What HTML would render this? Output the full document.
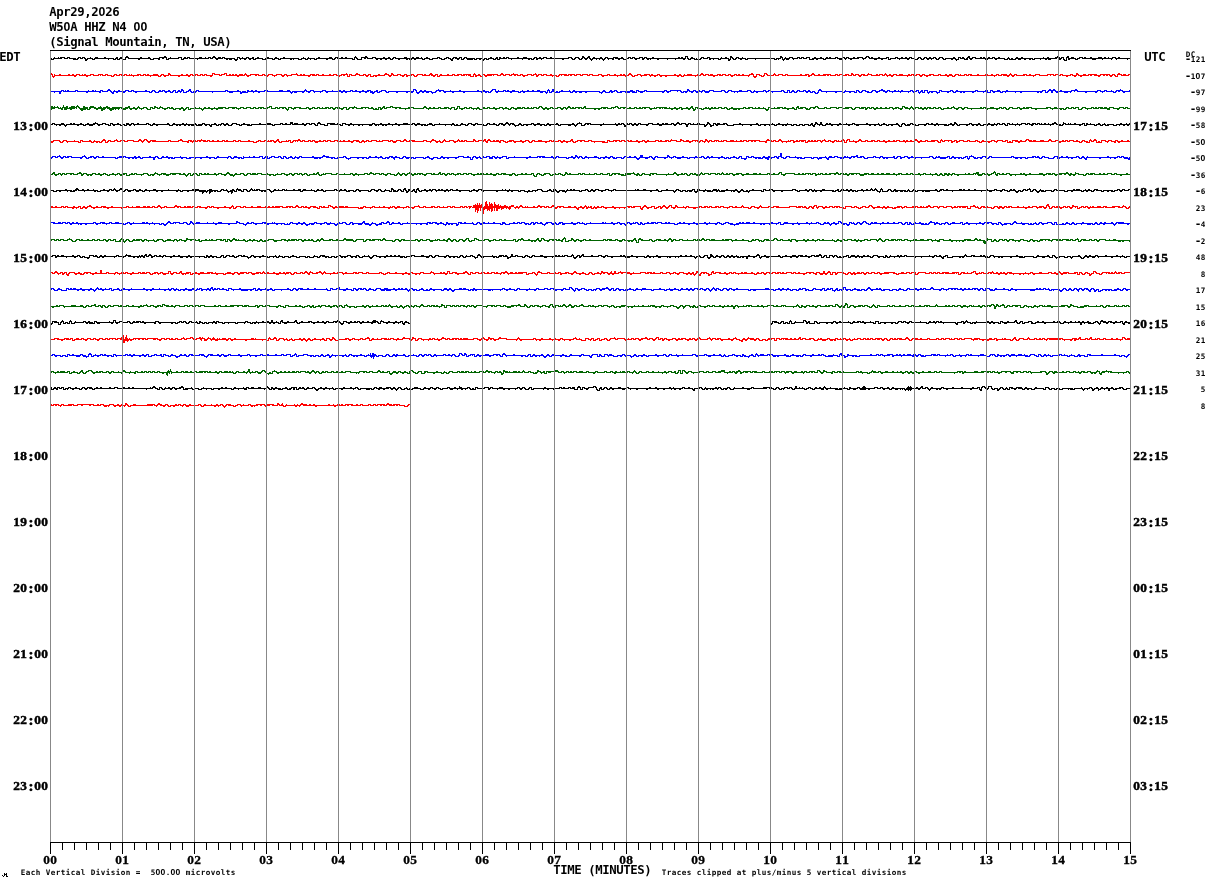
<!DOCTYPE html>
<html><head><meta charset="utf-8"><title>W50A HHZ N4 00 helicorder</title>
<style>
html,body{margin:0;padding:0;background:#fff;}
body{width:1210px;height:886px;overflow:hidden;}
svg{display:block;}
text{white-space:pre;}
.m{font-family:'DejaVu Sans Mono', 'Liberation Mono', monospace;font-weight:bold;font-size:12.3px;fill:#000;}
.s{font-family:'Liberation Serif', 'DejaVu Serif', serif;font-weight:bold;font-size:13.3px;fill:#000;stroke:#000;stroke-width:0.5px;}
.s2{font-family:'Liberation Serif', 'DejaVu Serif', serif;font-weight:bold;font-size:13.4px;fill:#000;stroke:#000;stroke-width:0.3px;}
.t{font-family:'DejaVu Sans Mono', 'Liberation Mono', monospace;font-size:7.6px;font-weight:bold;fill:#000;}
.zm{font-family:'Liberation Sans',sans-serif;font-weight:bold;}
.zt{font-family:'Liberation Sans',sans-serif;font-size:8.6px;}
.tm{font-size:11px;}
.sc{font-size:15px;}
</style></head><body>
<svg width="1210" height="886" viewBox="0 0 1210 886">
<rect width="1210" height="886" fill="#fff"/>
<text class="m" x="53 60 67 74 81 88 95 102 109 116" y="16" text-anchor="middle">Apr29,2<tspan class="zm">0</tspan>26</text>
<text class="m" x="53 60 67 74 81 88 95 102 109 116 123 130 137 144" y="31" text-anchor="middle">W5<tspan class="zm">0</tspan>A HHZ N4 <tspan class="zm">0</tspan><tspan class="zm">0</tspan></text>
<text class="m" x="53 60 67 74 81 88 95 102 109 116 123 130 137 144 151 158 165 172 179 186 193 200 207 214 221 228" y="46" text-anchor="middle">(Signal Mountain, TN, USA)</text>
<text class="m" x="3 10 17" y="61" text-anchor="middle">EDT</text>
<text class="m" x="1148 1155 1162" y="61" text-anchor="middle">UTC</text>
<path d="M50 58h2v1h1v-1h1v-1h1v1h3v-1h1v1h1v-1h5v1h2v-1h3v1h6v1h1v-1h1v-1h3v1h1v-1h3v1h1v1h1v-1h3v-1h1v1h2v1h1v-1h1v-1h3v1h6v-1h2v1h8v1h1v-1h1v-1h2v2h1v-1h1v-1h2v1h1v1h2v-2h1v-1h2v1h1v1h11v-1h2v1h6v-1h2v1h1v1h2v-1h6v-1h5v-1h2v1h1v2h1v-1h2v-1h1v1h7v-1h4v2h1v-1h1v-1h2v1h1v-1h3v1h9v-1h3v1h3v-1h1v1h2v-1h3v1h1v-1h1v-1h2v1h1v1h2v-1h3v1h1v-1h3v1h10v1h2v-2h3v1h2v-1h1v1h3v-1h3v1h3v-1h2v2h1v-1h2v-1h2v1h4v1h2v-1h2v-1h2v1h4v1h1v-1h1v-1h2v1h2v1h1v-1h3v-1h2v1h14v1h2v-1h2v-1h1v1h2v1h1v-1h1v-1h1v1h6v1h1v-1h2v-1h2v1h9v-1h3v1h1v1h1v-1h1v-1h4v1h2v-1h2v1h2v-1h2v1h6v1h1v-2h1v-1h1v1h1v1h1v1h3v-2h4v-1h2v1h1v1h4v-1h4v1h7v-1h2v1h3v-1h2v1h1v1h1v-1h1v-1h3v1h8v-1h3v1h5v-1h2v1h2v-1h3v1h2v-1h1v1h1v1h1v-1h2v-1h2v1h2v1h2v-1h5v-1h3v1h2v1h2v-1h2v-1h3v1h2v1h1v-1h1v-1h4v1h2v-1h3v2h1v-1h1v-1h3v1h8v1h1v-1h7v1h1v-1h3v1h1v-1h2v-1h2v1h2v1h1v-1h1v-1h2v2h1v-2h2v1h2v-1h2v1h1v-1h3v1h8v-1h2v1h4v-1h4v1h5v1h1v-1h1v-1h3v1h2v-1h2v1h2v-1h4v1h3v-1h2v1h16v-1h4v1h1v1h1v-1h1v-1h4v1h1v1h1v-1h1v-2h2v1h1v1h2v-1h1v-1h2v2h1v1h1v-1h1v-1h2v1h5v-1h2v1h1v1h1v-1h1v-1h3v1h5v-1h5v1h3v-1h2v1h1v1h2v-1h2v-1h3v1h1v-1h3v1h4v-1h4v1h1v-1h3v1h5v-1h2v1h24v-1h2v1h1v-1h2v1h2v-2h3v2h1v1h1v-1h1v-1h2v1h2v1h1v-1h1v1h3v-1h1v-1h3v1h3v-1h3v1h9v1h1v-1h1v-1h1v1h3v-1h2v1h2v1h1v-3h2v1h1v1h1v1h1v-1h1v-1h3v1h3v-1h1v1h3v1h1v-1h28v1h1v-1h4v-2h2v1h1v2h1v-1h1v-1h1v1h3v-1h4v1h4v-1h3v1h1v-1h3v1h2v-1h4v2h2v-1h2v-1h2v1h4v-1h2v1h2v1h1v-1h1v-1h2v1h1v-1h2v1h4v-1h3v1h4v-1h3v1h1v-1h3v1h4v-1h2v1h2v-1h6v1h2v-1h1v-1h3v1h1v1h1v-1h2v1h5v-1h2v1h6v-1h3v2h1v-1h5v-1h3v1h3v-1h2v1h2v-1h2v1h2v-1h3v1h3v1h2v-1h1v-1h3v1h1v1h1v-1h1v-1h3v1h2v-1h2v1h2v-1h3v1h1v1h1v-1h1v-1h4v1h1v1h1v-1h8v-1h2v1h1v1h2v-2h3v1h1v-1h2v1h1v1h1v-1h1v-1h1v-1h2v2h2v-1h4v1h4v-1h2v1h1v-1h2v1h1v1h1v-1h1v-1h2v1h2v-1h3v1h3v-1h2v1h5v1h2v-1h1v-1h1v1h1v1h1v-1h2v1h2v-1h1v-1h2v1h3v-1h2v1h10v1h1v-1h9v-1h1v1h3v-1h2v1h6v-1h2v-1h2v1h1v1h1v-1h3v2h1v1h1v-3h1v-1h2v2h2v-1h3v1h2v1h1v-1h2v-1h4v1h1v-1h2v1h4v-1h2v1h6v-1h4v1h2v-1h2v1h2v-1h1v1h3v-1h4v1h2v-1h2v1h11v1h-3v1h-1v-1h-10v1h-1v-1h-1v-1h-2v1h-1v1h-1v-1h-8v1h-1v-1h-6v1h-4v-1h-10v-1h-2v1h-2v1h-3v-1h-5v1h-2v-2h-1v3h-3v-1h-1v-2h-1v1h-1v1h-2v-2h-2v1h-6v1h-3v-1h-1v1h-2v-1h-4v1h-1v-1h-5v1h-3v-1h-1v1h-2v-1h-3v1h-2v-1h-3v1h-3v-1h-2v1h-7v-1h-1v1h-4v-1h-7v1h-2v-1h-1v-1h-1v1h-5v1h-3v-1h-10v-1h-2v1h-1v1h-2v-1h-1v-1h-1v2h-4v-1h-4v-1h-1v2h-2v1h-1v-1h-1v-1h-2v1h-2v-1h-5v1h-3v-1h-1v-1h-2v1h-1v1h-3v-1h-1v-1h-1v1h-2v1h-1v-1h-2v1h-2v-1h-1v-1h-1v1h-1v1h-3v-1h-1v-1h-1v1h-1v1h-4v-1h-3v-1h-1v1h-1v1h-2v-1h-7v1h-1v-1h-2v-1h-1v1h-5v1h-3v-2h-1v1h-4v1h-2v-1h-4v1h-3v-1h-5v-1h-1v-1h-1v1h-1v1h-2v1h-1v-1h-1v-1h-3v1h-7v1h-2v-1h-2v-1h-1v1h-1v1h-1v-1h-1v-1h-1v1h-1v1h-3v-1h-2v-1h-1v1h-10v1h-3v-1h-5v1h-2v-1h-2v1h-5v-2h-2v1h-4v-1h-1v1h-3v-1h-1v1h-4v1h-1v-1h-1v-1h-2v1h-1v1h-3v-1h-1v1h-1v1h-1v-1h-1v-2h-1v1h-2v1h-1v-1h-1v1h-3v-1h-18v1h-1v-1h-7v1h-3v-1h-3v1h-2v-1h-2v-1h-1v1h-1v1h-3v-1h-1v-1h-1v2h-1v1h-2v-2h-7v1h-3v-1h-4v1h-1v-1h-2v1h-2v-2h-1v1h-5v-1h-1v1h-1v1h-7v-1h-3v1h-3v-1h-1v-2h-1v2h-1v1h-2v-1h-7v1h-1v-1h-7v1h-1v-1h-8v1h-2v-1h-6v1h-1v-1h-1v1h-2v-1h-1v-1h-1v1h-1v1h-2v-2h-2v1h-3v1h-2v-1h-1v-1h-1v1h-3v-1h-1v1h-2v1h-4v-1h-3v1h-2v-1h-3v-1h-1v2h-2v-1h-3v1h-1v-1h-1v-1h-1v1h-1v1h-1v1h-1v-1h-1v-1h-2v1h-1v-1h-2v1h-1v-1h-3v1h-1v1h-1v-1h-1v-1h-1v-1h-1v1h-1v1h-2v-1h-1v-1h-1v1h-1v1h-3v-1h-1v-1h-2v1h-1v1h-3v-1h-1v-1h-2v1h-5v1h-2v-1h-16v-1h-2v1h-2v1h-1v-1h-3v1h-2v-2h-1v1h-1v1h-3v-1h-1v1h-2v-1h-5v1h-1v-1h-10v1h-1v-1h-3v-1h-1v1h-7v1h-3v-1h-1v1h-3v-1h-4v1h-3v-1h-1v1h-1v1h-2v-2h-1v1h-2v-1h-2v1h-3v-1h-1v1h-6v-1h-1v-1h-1v1h-1v1h-3v-2h-1v1h-1v1h-2v-1h-2v-1h-1v1h-1v2h-2v-1h-1v-1h-2v-1h-1v1h-2v1h-4v-1h-2v-1h-1v1h-5v1h-4v-1h-4v1h-3v-1h-6v1h-2v-1h-2v1h-3v-1h-1v1h-2v-1h-6v1h-2v-1h-3v-1h-1v1h-1v1h-3v-1h-3v1h-2v-1h-3v1h-2v-1h-2v1h-2v-1h-1v-1h-2v1h-6v-1h-1v1h-2v-1h-2v2h-5v-1h-1v-1h-1v2h-3v-1h-15v-1h-1v1h-1v1h-3v-1h-4v1h-2v-1h-9v1h-3v-1h-3v1h-1v-1h-2v1h-3v-1h-3v1h-4v-1h-4v1h-1v-1h-1v1h-2v-1h-9v1h-3v-1h-3v1h-3v-1h-6v1h-4v-1h-6v1h-3v-1h-2v1h-2v-1h-1v-1h-1v1h-1v1h-2v-1h-3v1h-1v-1h-1v-1h-1v2h-1v1h-2v-1h-1v-1h-2v1h-3v-1h-1v1h-2v-1h-2v-1h-1v1h-5v1h-2v-1h-1v-1h-2v1h-3v-1h-1v1h-11v1h-1v-1h-8v-1h-1v1h-4v1h-3v-2h-2v1h-10v1h-3v-2h-2v1h-2v-1h-2v2h-2v-1h-4v1h-4v-1h-10v1h-2v-1h-10v-1h-2v2h-4v-1h-2v1h-3v-1h-1v1h-3v-1h-4v1h-1v-1h-13v1h-3v-1h-4v1h-1v1h-2v-2h-1v-1h-1v1h-3v-1h-1v1h-1v1h-5v-1h-4v-1h-1v1h-4v-1h-2v1h-8v1h-3v-1h-1z" fill="#000000" shape-rendering="crispEdges"/>
<path d="M50 73h2v1h1v2h1v-2h1v1h4v-1h2v1h7v-1h2v1h2v-1h2v1h2v-1h4v1h2v-1h1v1h1v-1h2v1h4v-1h4v1h4v-1h5v1h2v-1h3v1h4v1h1v-1h1v-1h3v1h2v-1h3v1h2v-1h3v1h2v-1h1v1h1v-1h1v1h5v-1h4v1h2v-1h3v1h1v-1h2v1h4v-1h5v1h1v1h1v-1h1v-1h3v1h4v-2h2v1h1v1h10v-1h2v1h3v-1h2v1h2v-1h3v1h2v-1h3v1h2v-1h3v1h1v-1h3v1h5v-2h3v1h5v1h1v-1h3v-1h3v2h2v-1h2v1h1v-1h2v1h1v-1h2v1h2v-1h4v1h1v-1h1v-1h1v1h1v1h3v-1h9v1h3v-1h3v1h3v-1h5v1h3v-1h6v1h2v-1h3v1h4v-1h5v-1h1v1h1v1h2v-1h2v1h1v-1h2v1h5v-1h5v1h1v-1h3v1h3v-1h2v1h5v-1h2v1h2v-1h4v1h4v-1h5v-1h1v1h1v2h1v-2h3v1h3v-1h1v-1h2v1h2v1h3v-1h3v1h2v-1h3v2h2v-1h5v-1h2v1h4v-1h1v-1h2v1h2v1h2v-2h2v1h1v1h3v-1h4v1h3v-1h3v1h4v-1h3v1h1v1h1v-1h1v-1h6v1h1v-1h2v1h3v-1h1v-1h2v1h1v1h2v-1h3v2h1v-1h1v-1h2v1h5v-1h2v1h3v-1h3v1h2v-1h5v1h1v-1h8v2h2v-2h1v-1h1v1h1v1h2v-1h2v1h1v1h1v-2h3v1h2v-1h11v1h2v-1h1v-1h2v1h1v1h1v-1h5v1h1v-1h2v-1h1v1h4v1h2v-1h3v1h4v-1h5v1h1v-1h2v-1h1v1h1v1h1v-1h4v1h1v-1h4v1h3v-1h2v1h5v1h1v-1h1v-1h8v1h1v-1h7v1h1v-1h5v1h1v-1h6v1h1v-1h4v1h5v-1h4v1h5v-1h3v1h4v-1h2v1h4v-1h2v1h1v-1h2v1h3v-1h1v-1h2v1h1v1h1v1h1v-1h3v-1h4v1h3v-1h6v1h1v-1h2v1h4v-1h3v1h14v-1h2v1h3v-1h2v1h1v1h1v-1h1v-1h1v1h2v-1h5v1h5v-1h1v1h2v-1h1v-1h2v1h1v1h1v-1h4v1h1v-1h3v1h4v-1h4v1h1v-1h4v1h2v-1h3v1h3v-1h3v1h1v-1h2v1h2v-1h2v1h5v-1h2v-1h2v1h1v2h2v-2h4v1h2v1h1v-1h1v-2h3v1h1v1h5v-1h1v-1h1v1h1v1h2v-1h5v1h2v-1h3v1h12v-1h2v1h3v-1h4v1h2v-1h1v-1h2v1h1v1h3v-1h2v1h3v-1h8v1h4v-1h3v1h1v-1h4v1h2v-1h4v1h2v-2h2v1h1v1h1v-1h4v1h2v-1h4v1h2v-1h1v-1h1v1h3v1h4v-1h2v1h1v-1h4v1h1v-1h1v-1h1v1h1v1h2v-1h2v1h2v-1h4v1h2v-1h4v1h5v-1h2v1h1v-1h3v1h2v-1h4v1h2v-1h3v1h4v-1h5v1h4v-1h3v1h4v-1h2v1h2v-1h3v1h1v1h1v-1h1v-1h4v1h1v-1h1v1h3v-1h3v1h1v-1h4v1h5v-1h2v1h6v-1h3v1h3v-1h2v1h3v-1h3v1h2v-1h6v1h2v-1h1v-1h1v1h1v1h2v-1h3v1h6v-1h4v1h2v-1h2v1h4v-1h5v1h7v-1h7v1h1v-1h4v1h1v-1h3v1h7v-1h3v1h3v-2h2v1h1v1h4v-1h3v1h2v-1h9v1h3v-1h10v1h2v-1h3v1h1v1h1v-2h1v-1h2v1h2v1h1v-1h3v1h2v-1h3v1h-2v1h-8v-1h-3v2h-3v-1h-1v-1h-1v1h-1v1h-2v-1h-1v-1h-1v1h-2v-1h-1v1h-2v-1h-2v1h-1v1h-2v-1h-4v-1h-2v1h-2v-1h-1v1h-7v1h-2v-1h-2v-1h-1v1h-1v1h-2v-1h-2v-1h-1v1h-3v1h-2v-1h-4v-1h-1v1h-3v-1h-2v1h-3v-1h-2v1h-1v-1h-2v1h-9v-1h-3v1h-2v1h-1v-1h-7v-1h-1v1h-9v-1h-1v1h-1v1h-2v-1h-1v-1h-1v1h-1v1h-2v-1h-4v-1h-1v1h-4v-1h-1v1h-2v1h-1v-1h-7v-1h-1v1h-16v-1h-1v1h-3v-1h-1v1h-7v-1h-2v1h-1v1h-3v-1h-3v1h-2v-1h-7v-1h-1v1h-6v-1h-2v1h-3v1h-2v-1h-2v-1h-1v1h-1v1h-2v-1h-1v-1h-2v1h-4v-1h-1v1h-4v1h-1v-1h-11v-1h-2v1h-1v1h-2v-1h-3v1h-1v-1h-1v-1h-1v1h-3v-1h-2v1h-9v-1h-3v1h-5v-1h-1v1h-1v1h-2v-1h-1v-1h-2v1h-3v-1h-1v1h-4v-1h-1v1h-5v-1h-2v1h-3v-1h-1v1h-6v-1h-1v1h-2v-1h-1v1h-12v-1h-2v1h-2v1h-2v-2h-1v1h-20v-1h-1v1h-4v-1h-3v1h-4v-1h-1v1h-7v-1h-1v-1h-1v2h-1v1h-3v-1h-2v-1h-2v2h-1v1h-2v-1h-1v-2h-3v1h-1v1h-1v-1h-12v-1h-1v1h-2v1h-2v-1h-1v-1h-1v1h-4v-1h-2v1h-4v-1h-1v1h-3v1h-2v-1h-5v-1h-2v1h-3v-1h-2v1h-5v1h-1v-1h-11v1h-3v-1h-2v1h-2v-1h-10v1h-2v-1h-3v1h-2v-1h-1v-1h-1v1h-2v1h-2v-1h-3v1h-1v-1h-1v-1h-2v1h-5v1h-1v-1h-1v-1h-2v1h-3v1h-3v-1h-1v-1h-2v1h-2v1h-2v-1h-7v1h-1v-1h-8v-1h-1v1h-4v1h-2v-1h-1v-1h-2v1h-7v-1h-2v1h-3v-1h-4v1h-3v-1h-3v1h-3v-1h-2v1h-2v-1h-1v1h-5v-1h-2v1h-1v-1h-1v1h-1v1h-3v-1h-3v1h-1v-1h-6v-1h-2v1h-3v-1h-2v1h-1v1h-2v-2h-2v1h-3v-1h-3v1h-3v1h-2v-1h-1v-1h-1v1h-4v-1h-1v1h-2v-1h-2v1h-3v-1h-3v1h-3v-1h-2v1h-4v-1h-3v1h-1v-1h-1v1h-5v1h-2v-1h-1v-1h-1v2h-3v-1h-3v1h-2v-2h-1v2h-4v-1h-2v-1h-1v1h-1v-1h-1v1h-4v-1h-2v1h-5v-1h-1v1h-13v1h-3v-2h-1v1h-1v1h-2v-1h-2v-1h-1v1h-8v-1h-4v1h-1v1h-3v-1h-1v-1h-1v1h-4v1h-2v-2h-1v1h-1v1h-2v-1h-2v-1h-2v1h-5v-1h-1v1h-1v1h-2v-1h-1v-1h-3v1h-8v1h-2v-1h-1v1h-4v-2h-1v1h-1v1h-2v-1h-1v-1h-1v1h-5v-1h-3v1h-5v-1h-1v2h-3v-2h-2v1h-2v-1h-1v1h-2v1h-2v-1h-2v-1h-2v1h-16v-1h-1v1h-5v-1h-1v1h-1v1h-2v-1h-11v-1h-5v1h-4v1h-1v-1h-1v-1h-1v1h-1v1h-2v-1h-1v-1h-4v1h-2v1h-1v-1h-2v-1h-3v1h-1v1h-2v-1h-2v-1h-1v1h-5v-1h-1v1h-2v-1h-4v1h-2v1h-2v-1h-1v-1h-1v1h-6v1h-2v-1h-11v-2h-1v1h-3v1h-3v-1h-5v-1h-1v2h-1v1h-2v-1h-4v-1h-1v1h-3v-1h-1v1h-4v-1h-1v1h-1v1h-1v-1h-2v-1h-1v1h-1v1h-2v-1h-8v1h-2v-1h-8v-1h-1v1h-3v1h-2v-1h-1v-1h-1v1h-1v1h-3v-1h-7v1h-1v-1h-5v-1h-1v1h-4v-1h-1v1h-5v1h-1v-1h-7v-1h-1v1h-4v-1h-1v1h-4v-1h-1v1h-1v1h-3v-1h-4v-1h-1v1h-4v-1h-1v1h-1v-1h-1v1h-6v-1h-2v1h-3v1h-2v-1h-7v-1h-2v1h-1v1h-2v-1h-19v1h-1v1h-1v-1h-1v-2h-2z" fill="#ff0000" shape-rendering="crispEdges"/>
<path d="M50 91h11v-1h3v1h1v-1h1v1h1v-1h2v1h6v-1h3v1h10v-1h1v1h3v-1h2v1h1v-1h1v1h4v-1h3v1h4v-1h1v-1h2v1h1v1h1v1h1v-1h1v-1h1v1h3v-1h2v1h5v-1h4v1h2v-1h3v1h11v-1h2v1h3v1h1v-1h1v-1h3v1h1v1h2v-1h1v-1h2v1h1v-1h3v1h3v-1h2v1h1v1h1v-1h1v-1h3v2h1v-1h1v-1h2v1h1v-2h2v1h1v2h2v-1h2v-1h1v-1h2v2h1v1h1v-1h3v-1h3v1h26v-1h3v1h9v-1h2v1h2v1h1v-1h4v1h1v-2h2v1h2v-1h2v1h2v-1h2v1h7v-1h4v1h11v-1h4v1h4v-1h3v1h1v1h1v-1h12v-1h1v-1h1v1h1v1h3v-1h4v1h8v-1h4v1h6v-1h1v1h6v-1h2v1h2v-1h2v1h5v-1h3v1h2v-1h2v1h5v-1h2v1h3v-1h4v1h2v1h1v-1h2v-1h2v2h1v-1h2v-1h5v1h1v1h1v-1h25v-2h3v1h1v2h2v-1h1v-1h2v1h2v-1h2v1h6v1h3v-1h1v-1h2v-1h1v1h5v1h6v-1h1v1h8v-1h2v1h16v-1h2v1h4v-1h2v1h4v1h1v-1h1v-1h1v-1h4v2h2v-1h1v1h4v-1h3v1h1v-1h2v1h3v-1h3v1h4v1h1v-1h2v-1h1v1h4v-1h2v1h3v-1h2v1h3v-1h3v1h6v1h1v-2h1v-1h1v1h1v2h1v-1h1v-2h2v2h1v1h1v-1h2v1h1v-1h2v-1h2v1h6v-1h1v1h1v1h1v-1h1v-1h2v1h25v1h2v-1h1v-1h2v1h1v1h3v-1h1v-1h2v1h2v-1h3v1h1v1h2v-1h10v-1h3v1h2v1h1v-2h3v1h5v-1h3v1h17v-1h3v1h3v-1h11v1h1v1h1v-1h4v-2h2v1h1v1h3v-1h3v1h2v-1h2v1h2v-1h3v1h4v-1h5v1h7v-1h4v1h1v1h1v-1h1v-1h4v1h7v-1h3v1h5v-1h4v1h1v1h1v-1h1v-1h1v1h8v-1h3v1h2v-1h3v1h10v-1h3v1h1v1h2v-2h3v2h1v-1h1v-1h2v1h1v1h1v-1h1v-1h3v1h3v-1h3v1h2v-1h2v1h1v1h1v-1h3v1h1v1h1v-1h1v-2h1v-1h2v1h1v1h21v1h1v-1h1v-1h1v1h9v1h1v-2h3v1h1v1h1v-1h1v-1h4v1h3v1h2v-1h1v-1h4v1h3v-1h2v-1h2v1h2v1h2v-1h3v1h4v-1h2v1h2v-1h1v1h2v-1h2v1h7v-1h3v1h3v-1h3v2h1v-1h1v-1h2v2h1v-2h4v2h1v-1h8v1h2v-2h3v1h8v-1h3v1h1v1h1v-1h1v-1h2v1h17v-1h3v1h7v-1h3v2h2v-2h3v1h4v-1h3v1h1v1h1v-1h4v-1h2v1h34v-1h4v2h1v-1h1v-1h1v-1h2v1h2v-1h2v1h1v1h4v-1h2v1h9v-1h4v-1h2v1h1v1h19v-1h4v1h3v-1h3v1h4v-1h1v1h2v1h1v-1h1v-1h4v-1h1v1h2v1h6v-1h2v1h-1v1h-5v1h-2v-1h-1v-1h-2v1h-2v-1h-1v1h-1v1h-3v-1h-7v-1h-1v1h-2v1h-1v-1h-2v-1h-2v1h-1v1h-2v-1h-8v1h-2v-1h-8v-1h-2v1h-1v-1h-2v1h-1v1h-1v-1h-2v1h-4v-1h-6v1h-2v-1h-1v-1h-2v2h-2v-2h-2v1h-1v1h-3v-2h-2v1h-1v1h-2v-1h-1v1h-2v-1h-15v1h-2v-1h-4v1h-1v-1h-9v1h-1v-1h-2v1h-3v-1h-5v1h-2v-1h-1v-1h-1v2h-4v-2h-1v1h-2v1h-1v-1h-6v-1h-1v1h-2v1h-2v-1h-7v1h-2v-1h-1v1h-2v-1h-4v1h-3v-1h-1v-1h-1v1h-2v1h-2v-1h-6v-1h-1v2h-2v1h-1v-1h-1v-1h-3v1h-2v-1h-1v1h-1v1h-1v-1h-1v-2h-2v2h-3v-1h-1v1h-1v1h-1v-1h-1v-2h-1v1h-2v1h-2v-1h-1v-1h-1v1h-2v1h-1v-1h-7v1h-1v-1h-7v1h-1v-1h-3v-1h-1v1h-1v1h-2v-1h-2v-1h-3v1h-2v1h-2v-1h-1v-1h-2v1h-1v1h-5v-1h-2v-1h-2v1h-1v1h-3v-1h-1v-1h-1v2h-3v-1h-3v1h-2v-1h-4v1h-3v-1h-5v1h-2v-1h-8v1h-1v-1h-5v-1h-2v2h-1v1h-3v-1h-1v-1h-1v1h-3v-1h-2v1h-2v-1h-1v-1h-1v1h-5v-1h-1v1h-1v1h-3v-1h-2v1h-3v-2h-1v2h-4v-1h-1v-1h-1v1h-9v1h-1v-1h-2v-1h-1v1h-2v1h-1v-1h-1v-1h-1v1h-6v1h-2v-1h-2v1h-3v-1h-1v-1h-2v1h-10v1h-1v-1h-2v1h-1v-1h-3v-1h-2v1h-1v1h-3v-1h-1v-1h-2v1h-9v-1h-3v1h-1v1h-4v-1h-1v-1h-1v1h-1v1h-1v-1h-3v1h-2v-1h-1v-1h-1v1h-1v1h-2v-1h-2v-1h-1v1h-1v1h-2v-1h-1v1h-3v-1h-1v-1h-2v1h-1v-1h-6v1h-2v1h-2v-1h-1v-1h-1v1h-1v1h-2v-1h-16v-1h-1v1h-2v1h-3v-1h-2v-1h-1v2h-5v-1h-2v1h-5v-1h-3v1h-5v-1h-1v-1h-1v1h-2v1h-2v-1h-1v1h-5v-1h-2v1h-1v1h-1v-1h-2v-1h-12v1h-2v-1h-3v1h-3v-1h-2v1h-2v-1h-2v1h-3v-1h-10v1h-6v-1h-2v1h-3v-2h-1v2h-1v1h-1v-1h-1v-1h-2v1h-3v-1h-15v1h-2v-1h-2v1h-3v-1h-6v1h-2v-1h-5v-1h-1v1h-6v1h-2v-1h-1v-2h-2v1h-1v1h-1v1h-3v-1h-1v1h-2v-1h-2v1h-2v-1h-16v1h-2v-1h-9v1h-2v-1h-6v1h-2v-1h-1v-1h-2v1h-2v-1h-2v1h-1v1h-3v1h-1v-1h-1v-1h-2v1h-3v-1h-2v1h-2v-1h-2v1h-1v1h-2v-1h-1v-2h-1v-1h-1v2h-1v1h-3v-1h-2v1h-2v-1h-8v1h-2v-1h-7v1h-3v-1h-1v-1h-3v1h-2v1h-3v-1h-2v1h-1v1h-2v-1h-2v-2h-1v1h-2v1h-2v-1h-4v1h-2v-1h-7v-1h-1v1h-4v1h-2v-1h-2v1h-2v-1h-13v1h-2v-1h-1v-1h-2v1h-2v1h-1v-1h-5v1h-1v-1h-1v-1h-2v1h-1v1h-2v-1h-2v-1h-1v1h-1v1h-2v-1h-5v1h-3v-1h-1v1h-1v1h-1v-1h-1v-1h-24v-1h-1v1h-5v1h-2v-1h-4v1h-1v-1h-5v1h-6v1h-2v-2h-7v1h-4v-1h-2v-1h-1v1h-13v1h-1v-1h-14v-1h-1v1h-1v1h-5v-1h-1v-1h-1v1h-2v1h-4v-2h-1v1h-1v1h-1v-1h-2v1h-3v-2h-1v1h-1v1h-3v-1h-3v1h-2v-1h-1v-1h-1v1h-4v1h-4v-1h-1v-1h-1v1h-1v1h-3v-1h-12v1h-2v-1h-2v-1h-1v1h-4v-1h-2v1h-1v1h-2v-1h-5v1h-2v-1h-2v2h-2v-1h-1v-1h-1v-1h-2v1h-6v-1h-1v2h-2v-1h-11v1h-2v-1h-9v-1h-1v1h-13v-1h-1v1h-1v2h-2v-2h-4v1h-1v-1h-4z" fill="#0000ff" shape-rendering="crispEdges"/>
<path d="M50 107h1v-1h2v1h1v-1h1v1h2v-1h1v1h1v1h1v-1h1v1h1v-1h1v-2h1v2h2v-1h2v2h1v-1h2v-1h4v1h1v-1h1v-1h1v1h1v1h1v1h3v-2h2v1h3v2h1v-2h1v-1h4v1h2v1h2v-1h2v-1h1v1h1v1h1v-1h3v-1h2v1h2v1h2v-1h11v1h2v-1h3v-1h2v2h3v-1h2v1h2v-1h1v-1h1v1h1v1h3v-1h4v1h1v1h2v-2h3v1h1v-2h2v1h2v1h1v-1h1v-1h1v1h2v1h4v-1h3v1h1v-1h2v1h1v1h1v-1h6v-1h2v1h1v1h1v-1h1v-1h3v2h1v-1h4v-1h2v1h3v-1h1v1h2v1h1v-1h1v-1h2v1h2v-1h2v1h4v-1h1v1h3v-1h8v1h2v-1h9v1h3v-1h4v1h2v-1h5v1h2v-1h3v1h2v-1h6v1h3v-1h2v-1h3v2h3v-1h3v1h1v-1h7v1h1v1h1v-2h4v1h2v-1h7v1h5v-1h3v1h3v-1h3v1h2v-1h3v1h2v-1h1v1h2v-1h4v1h1v-1h3v1h2v-1h5v1h3v-1h4v2h1v-1h1v-1h5v-1h1v1h2v1h4v-1h8v1h2v-1h2v1h1v1h1v-1h2v1h1v-2h3v1h1v-1h1v-1h2v2h1v-1h4v-1h3v1h8v1h7v-1h6v1h9v-1h1v-1h2v1h1v1h2v-1h2v1h2v-1h2v1h3v-1h3v1h3v-1h5v1h2v-1h4v2h1v-1h1v-2h3v2h4v-1h3v1h2v-1h3v1h5v-1h2v1h1v1h2v-1h1v-1h2v1h2v-1h3v1h3v-1h2v1h4v-1h4v1h2v-1h2v1h2v1h1v-1h1v-1h3v1h3v-1h4v1h1v-1h3v1h2v-1h2v1h2v-1h1v1h1v-1h4v1h1v-1h1v-1h3v1h1v1h2v-1h2v1h3v-1h3v1h4v-1h4v1h2v-1h3v1h1v-1h1v-1h2v1h1v1h1v-1h2v1h1v-1h7v1h1v-1h1v-1h2v2h15v-1h7v1h3v-1h4v-1h3v1h1v1h1v-1h7v1h2v-1h2v1h3v-1h3v1h2v-1h2v1h1v-1h8v1h4v-1h1v1h1v-1h11v1h2v-1h1v1h4v-1h2v1h3v-1h3v1h4v-1h2v1h2v-1h1v-1h2v2h1v1h1v-2h3v1h4v1h1v-1h2v-1h2v1h1v-1h1v1h2v-1h2v1h1v-1h2v1h2v-1h4v1h2v-1h3v1h1v1h1v-1h2v-1h2v1h10v-1h3v1h2v-1h5v1h2v-1h1v1h2v-1h2v1h3v-1h1v1h2v1h2v-2h3v1h3v-1h1v1h2v-1h6v1h1v-1h2v1h6v-1h2v1h1v1h1v-2h1v-1h2v2h1v-1h6v1h2v1h1v-1h1v-1h5v-1h3v1h1v1h5v-1h3v1h3v-1h7v1h1v-1h5v1h2v-1h7v1h1v1h1v-1h1v-1h5v1h1v-1h5v1h1v-1h3v1h1v-1h3v1h2v-1h2v1h2v-1h2v1h3v-1h2v1h2v-1h4v1h2v-1h4v1h3v-2h3v1h3v1h2v-1h1v-1h1v1h1v1h2v-1h4v1h1v-1h2v1h2v-1h2v1h1v-1h4v1h2v-1h3v1h2v-1h3v1h1v1h1v-1h4v-1h2v1h2v-1h2v-1h1v1h1v1h3v-1h4v1h2v-1h4v1h12v-1h2v1h1v-1h3v1h4v-1h4v1h5v-1h3v1h1v-1h3v1h1v1h1v-1h1v-1h4v1h4v-1h3v1h3v-1h2v1h1v-1h6v1h14v-1h5v1h3v-1h3v1h7v1h1v-1h1v-1h3v1h2v-1h3v1h1v-1h4v2h2v-1h1v-1h4v1h5v-1h3v1h1v-1h2v1h1v-1h5v1h1v-1h3v1h2v-1h5v1h5v-1h5v1h1v-1h3v1h3v2h-1v-1h-3v-1h-1v1h-3v-1h-3v1h-1v1h-2v-1h-4v-1h-3v2h-3v-1h-7v-1h-1v1h-6v-1h-1v1h-4v1h-1v-1h-2v-1h-2v1h-1v1h-4v-2h-2v1h-3v-1h-1v1h-4v-1h-1v1h-1v1h-3v-1h-1v1h-2v-1h-7v1h-1v-1h-2v-1h-2v1h-11v1h-2v-1h-4v-1h-2v1h-7v1h-2v-1h-1v-1h-1v1h-6v-1h-2v1h-1v1h-3v-1h-1v-1h-1v1h-3v-1h-1v1h-2v1h-2v-1h-8v1h-2v-1h-1v-1h-1v1h-12v1h-1v-1h-4v-1h-2v1h-1v1h-2v-1h-1v-1h-2v1h-1v1h-2v-1h-2v-1h-2v1h-8v1h-3v-1h-1v-1h-1v1h-4v-1h-1v1h-5v-1h-1v1h-1v1h-1v-1h-2v1h-2v-1h-4v-1h-2v1h-2v1h-1v-1h-1v-1h-1v1h-1v1h-1v-1h-4v-1h-1v-1h-1v2h-1v1h-2v-1h-2v-1h-1v1h-3v1h-1v-1h-1v-1h-2v1h-14v1h-2v-1h-1v-1h-1v1h-3v-1h-1v1h-1v1h-2v-2h-1v1h-5v-1h-3v1h-1v1h-3v-1h-1v-1h-2v1h-7v-1h-3v1h-3v-1h-5v1h-5v-1h-1v1h-7v-1h-1v-1h-1v1h-1v1h-2v-1h-2v1h-1v1h-4v-1h-1v-1h-2v1h-5v-1h-1v2h-3v-1h-5v1h-2v-1h-5v-1h-2v1h-10v-1h-1v2h-1v1h-2v-1h-1v-1h-13v-1h-2v1h-5v-1h-1v1h-4v1h-2v-1h-1v1h-4v-1h-3v1h-3v-1h-1v-1h-1v1h-4v-1h-2v1h-8v1h-2v-1h-5v1h-3v-1h-4v-1h-1v2h-1v1h-2v-2h-1v-1h-1v1h-1v1h-2v-1h-5v1h-2v-2h-1v1h-2v1h-2v-1h-3v1h-2v-1h-7v-1h-1v1h-1v-1h-1v1h-2v-1h-2v1h-5v1h-2v-1h-1v-1h-3v1h-2v-1h-1v1h-7v-1h-1v1h-9v-1h-1v1h-2v-1h-2v1h-3v-1h-1v-1h-1v1h-2v1h-1v-1h-1v1h-5v-1h-1v1h-3v-1h-1v1h-2v1h-2v-1h-2v1h-2v-1h-9v-1h-1v1h-3v-1h-1v1h-2v-1h-2v1h-6v-1h-2v1h-1v1h-1v-1h-1v-1h-1v1h-1v1h-2v-1h-1v-1h-2v1h-6v-1h-1v1h-2v1h-2v-1h-2v1h-2v-1h-1v-1h-1v-1h-1v1h-1v1h-3v-1h-2v1h-10v-1h-1v1h-6v1h-2v-1h-2v-1h-1v1h-1v1h-3v-1h-4v1h-1v-1h-1v-1h-2v1h-3v1h-2v-1h-6v-1h-1v1h-5v1h-4v-1h-2v1h-1v-1h-2v1h-1v-1h-2v-1h-1v1h-4v-1h-1v1h-2v1h-2v-1h-2v-2h-1v2h-1v1h-3v-2h-2v1h-1v1h-1v-1h-2v-1h-1v1h-7v-1h-1v1h-10v1h-1v-1h-2v-1h-2v1h-11v-1h-2v1h-5v1h-1v-1h-6v-1h-2v1h-2v-1h-3v-1h-1v1h-4v1h-3v-1h-1v1h-1v1h-2v-2h-1v2h-6v-1h-5v-1h-2v1h-1v-1h-2v1h-7v-1h-2v1h-2v-1h-2v1h-1v1h-3v-2h-2v1h-1v1h-2v-1h-4v-1h-1v1h-1v1h-2v-1h-1v-1h-1v1h-3v-1h-1v1h-8v-1h-1v1h-4v-1h-1v1h-2v1h-2v-1h-1v-1h-1v1h-8v-1h-3v1h-2v1h-1v-1h-2v-1h-2v2h-1v1h-1v-1h-1v-1h-1v-1h-1v1h-2v-1h-2v1h-3v-1h-1v1h-5v-2h-1v1h-2v1h-5v-1h-1v1h-2v-1h-1v1h-4v-1h-1v1h-4v-1h-3v1h-4v-1h-2v1h-2v1h-1v-1h-2v-1h-1v1h-3v-1h-3v1h-4v-1h-2v1h-5v1h-2v-1h-3v1h-2v-1h-7v1h-1v1h-1v-1h-1v-1h-10v1h-3v-2h-1v1h-1v1h-1v1h-2v-2h-2v1h-2v-1h-3v1h-3v-1h-4v-1h-1v1h-2v1h-2v-1h-2v-1h-2v1h-3v-1h-2v1h-3v-1h-1v2h-4v-1h-1v-1h-2v1h-2v1h-1v-1h-2v-1h-1v1h-1v1h-2v-1h-3v1h-2v-1h-1v-1h-1v1h-2v1h-3v-1h-2v-1h-1v1h-1v1h-1v-1h-2v1h-1v-1h-1v1h-2v1h-2v-1h-1v-1h-2v-1h-1v1h-1v1h-2v1h-2v-2h-3v1h-2v-1h-2v-1h-3v1h-1v1h-3v-1h-1v1h-3v1h-2v-1h-1v-1h-1v-1h-1v-1h-1v2h-1v-1h-1v1h-3v1h-2v-1h-3v1h-3v-2h-1v2h-2v-1h-3v-1h-3v1h-3v1h-2z" fill="#006400" shape-rendering="crispEdges"/>
<path d="M50 124h2v-1h3v1h6v-1h3v1h1v1h1v-1h4v-1h2v1h1v-1h2v1h5v-1h2v1h2v1h1v-1h2v-1h2v1h4v-1h2v-1h1v1h2v1h4v-1h4v1h3v1h1v-2h3v1h4v-1h2v1h2v1h1v-1h3v1h1v-2h3v1h2v-1h3v1h3v-1h2v1h7v-1h3v1h2v1h1v-1h1v-1h2v1h12v-1h2v1h1v1h2v-1h1v-1h2v1h7v-1h2v1h2v-1h1v1h7v-1h2v1h1v1h1v-1h4v-1h3v1h5v1h1v-1h3v-1h2v1h1v1h1v-1h3v-1h3v1h2v-1h2v1h1v1h2v-1h1v-1h5v1h3v1h1v-1h2v-1h2v1h5v1h1v-1h8v-1h2v1h5v-1h5v1h2v1h1v-1h6v-1h3v1h2v-1h2v1h3v-2h3v2h1v-1h4v1h4v-1h2v1h2v-1h4v1h1v-1h4v1h1v1h1v-2h1v-1h2v1h1v1h4v1h2v-2h8v1h2v-1h2v1h2v1h1v-2h4v1h4v-1h2v1h20v-1h3v1h5v-1h2v1h6v-1h2v1h5v-1h2v1h6v-1h5v1h4v-1h3v1h2v-1h3v1h6v1h1v-1h2v-1h3v1h1v1h1v-1h5v-1h1v1h12v-1h2v1h1v1h1v-1h2v1h2v-1h1v-1h2v1h3v1h1v-1h1v-1h4v1h3v-1h3v1h6v1h2v-1h1v-1h3v1h3v-1h2v1h2v1h1v-1h1v-1h4v1h2v-1h1v-1h2v1h1v1h1v-1h4v1h1v1h3v-1h1v-1h2v1h1v1h1v-1h8v-1h3v1h3v-1h3v1h5v1h1v-1h1v-1h2v1h7v-1h2v1h1v1h1v-1h12v-1h2v1h1v1h1v-1h1v-1h2v-1h1v1h2v2h2v-1h1v-1h6v1h12v-1h1v1h11v-1h1v1h2v-1h2v1h1v-1h3v1h1v1h1v-1h1v-1h1v1h1v-1h3v1h2v-1h2v1h2v-1h3v1h7v-1h5v1h4v-1h2v1h3v-1h2v1h1v-1h3v1h3v-1h3v1h2v-1h1v-1h2v1h1v1h1v-1h5v1h2v-1h3v1h2v-1h1v1h3v-1h1v1h1v-1h1v1h5v1h1v-1h1v-2h2v1h1v1h1v1h2v-2h3v1h1v-1h3v1h3v-1h4v1h1v1h5v-1h6v-1h2v1h15v-1h2v1h1v1h1v-1h12v-1h1v1h2v1h1v-1h2v-1h2v1h7v-1h1v1h4v1h1v-1h4v1h2v-1h4v1h1v-1h5v1h1v-1h1v-1h2v2h1v-1h1v-2h2v1h1v1h2v-2h2v2h1v1h2v-1h1v-1h2v1h1v-1h2v1h8v-1h2v1h5v-1h1v1h5v-1h3v1h11v-1h2v1h10v-1h1v1h1v1h1v-1h2v-1h2v1h2v1h1v-1h8v-1h2v1h1v1h1v1h1v-2h1v-1h3v1h1v1h1v-1h3v-1h3v1h3v1h2v-1h8v-1h3v1h2v-1h2v1h3v-1h2v1h9v1h1v-1h2v-1h2v1h2v-2h2v1h1v1h1v1h1v-1h10v-1h3v1h6v-1h2v1h1v1h2v-1h5v-1h2v1h4v-1h1v1h2v-1h3v1h2v-1h3v1h1v1h1v-2h3v1h2v-1h1v1h4v-1h1v1h3v-1h5v1h1v-1h3v1h2v-1h4v1h1v-1h3v1h1v-1h1v1h2v-1h2v1h2v-1h1v1h3v-1h2v-1h2v1h1v1h4v1h1v-1h1v-2h1v1h2v1h2v-1h1v1h1v-1h1v1h3v-1h2v1h6v-1h3v2h1v-2h2v1h2v-1h1v1h4v1h1v-1h2v-1h2v1h1v1h1v-1h2v-1h1v1h1v1h1v-1h7v1h2v-1h4v-1h2v1h4v-1h1v1h2v-1h1v-1h1v2h-1v1h-1v1h-2v-1h-2v1h-2v-1h-3v1h-1v-1h-2v1h-4v-1h-4v1h-4v-1h-2v1h-3v-1h-3v1h-3v-1h-7v1h-3v-2h-1v1h-2v1h-2v-1h-14v-1h-1v1h-1v1h-4v-1h-3v-1h-2v1h-3v1h-1v-1h-11v-1h-1v1h-3v-1h-1v1h-1v1h-2v-1h-2v-1h-1v1h-3v-1h-3v1h-2v1h-1v-1h-3v1h-1v-1h-6v-1h-1v2h-3v-1h-1v-1h-1v1h-4v-1h-1v1h-1v1h-1v-1h-2v1h-3v-1h-3v1h-2v-1h-2v1h-4v-1h-2v1h-2v-1h-2v1h-2v-1h-1v-1h-1v1h-2v1h-2v-1h-6v1h-3v-1h-1v-1h-1v1h-1v1h-2v-1h-3v1h-5v-1h-5v1h-1v-1h-2v1h-2v-1h-6v-1h-1v1h-1v1h-2v-1h-5v1h-4v-1h-3v-1h-1v1h-1v1h-5v-1h-1v-1h-1v1h-1v2h-3v-1h-1v-1h-5v1h-2v-1h-2v1h-3v-1h-4v1h-3v-1h-3v1h-2v-1h-3v1h-2v-1h-10v1h-3v-1h-2v-1h-1v1h-3v1h-2v-1h-9v1h-2v-1h-4v1h-2v-1h-5v1h-4v-1h-2v1h-1v-1h-2v-1h-1v1h-1v2h-2v-1h-1v-1h-1v1h-3v-1h-3v1h-3v-1h-2v1h-4v-1h-2v1h-3v-1h-4v1h-2v-1h-1v1h-2v-1h-5v1h-3v-1h-3v1h-2v-1h-3v1h-2v-1h-3v1h-3v-1h-6v1h-2v-1h-7v1h-1v-1h-8v1h-7v-1h-1v-1h-1v1h-7v1h-2v-1h-1v-1h-1v2h-2v1h-2v-2h-1v-1h-1v1h-1v1h-1v1h-2v-2h-14v-1h-1v1h-1v2h-2v-2h-1v-1h-3v1h-3v-1h-2v1h-1v1h-2v-1h-1v-1h-1v1h-10v1h-3v-1h-7v-1h-3v1h-1v1h-2v-1h-6v-1h-1v1h-1v1h-2v-1h-2v1h-2v-1h-1v-1h-1v1h-3v1h-1v1h-2v-2h-1v-1h-1v1h-4v1h-2v-1h-14v1h-2v-1h-10v-1h-1v1h-2v-1h-1v1h-1v1h-4v-2h-3v1h-1v1h-1v1h-1v-1h-1v-1h-3v1h-3v-1h-7v1h-3v-1h-7v1h-2v-1h-2v1h-3v-1h-2v1h-2v-1h-4v1h-2v-1h-1v-1h-1v1h-4v1h-2v-1h-2v1h-3v-1h-2v1h-3v1h-1v-1h-1v-1h-2v-1h-1v1h-1v1h-1v-1h-1v-1h-2v1h-1v1h-2v-1h-2v-1h-1v1h-1v1h-3v-1h-7v-1h-1v1h-1v1h-4v-1h-6v-1h-1v1h-1v1h-2v-1h-2v-1h-2v1h-1v1h-3v-1h-4v1h-7v-1h-2v1h-1v-1h-5v1h-1v-1h-10v1h-3v-1h-4v1h-4v-1h-1v1h-2v-1h-4v1h-2v-1h-1v-1h-1v1h-13v1h-2v-1h-5v1h-1v-1h-5v1h-2v-1h-1v1h-2v-1h-3v1h-1v-1h-1v1h-2v-1h-1v-1h-1v1h-1v1h-3v-1h-6v1h-1v-1h-2v1h-2v-1h-4v1h-1v-1h-3v1h-2v-1h-3v-1h-2v2h-3v-1h-10v-1h-2v2h-4v-1h-4v-1h-2v2h-3v-1h-1v-1h-2v1h-3v-1h-2v1h-1v1h-2v-1h-12v-1h-1v1h-9v-1h-1v1h-6v1h-3v-1h-20v1h-5v-1h-5v1h-3v-1h-3v-1h-3v1h-1v1h-4v-1h-2v1h-2v-1h-1v-1h-1v1h-1v1h-1v-1h-1v1h-3v-1h-4v2h-2v-1h-1v-1h-2v1h-2v-1h-1v-1h-1v1h-1v1h-6v-1h-2v1h-3v-1h-1v1h-2v-1h-2v1h-2v-1h-3v1h-2v-1h-1v1h-2v-1h-3v1h-4v-1h-11v1h-2v-1h-3v1h-3v-1h-2v-1h-1v1h-12v1h-1v-1h-1v-1h-1v1h-1v1h-2v-1h-2v1h-3v-1h-1v1h-3v-1h-5v1h-2v-1h-1v-1h-1v2h-3v-1h-3v-1h-2v1h-3v1h-2v-1h-1v-1h-2v1h-2v1h-4v-1h-3v1h-3v-1h-4v1h-2v-1h-10v1h-1v1h-1v-1h-1v-1h-3v1h-2v-1h-2v1h-1v-1h-2v-1h-1v1h-2v1h-1z" fill="#000000" shape-rendering="crispEdges"/>
<path d="M50 141h3v-1h7v1h1v1h1v-1h1v-1h4v1h7v-1h1v1h4v1h1v-2h3v1h6v-1h2v1h1v1h1v-1h1v-1h1v1h5v1h1v-1h1v-1h1v-1h2v1h1v2h1v-1h1v-1h3v1h3v-1h2v-1h1v1h1v1h2v-1h5v1h2v-1h7v1h4v-1h1v-1h2v1h1v1h1v-1h1v-1h3v1h1v1h2v-1h6v1h12v-1h3v1h7v-1h2v-1h2v1h1v1h5v-1h4v1h1v-1h3v1h1v-1h4v-1h1v1h4v1h1v-1h3v1h2v-1h2v1h3v-1h2v1h3v-1h3v1h1v-1h2v1h5v-1h3v1h2v-1h3v1h7v-1h2v1h4v1h2v-1h2v-1h3v1h3v-1h3v1h1v-1h1v1h1v-1h4v1h2v-1h1v-1h2v2h1v1h1v-1h5v-1h1v1h1v-1h3v2h1v-1h1v-1h5v-1h2v1h1v1h1v-1h3v1h3v-1h3v1h1v-1h3v1h4v-1h2v1h2v-1h3v1h1v-1h4v1h3v-1h4v1h2v-1h1v1h2v-1h2v1h3v-1h2v1h3v-1h6v1h1v1h1v-1h1v-1h2v1h2v-1h3v1h2v-1h6v1h2v-1h1v1h2v-1h7v1h1v-1h3v1h3v-1h5v1h2v-1h1v-1h2v1h1v1h2v-1h6v1h8v-1h4v1h4v-1h1v-1h2v1h2v1h3v-1h1v1h1v1h1v-1h1v-1h1v-1h1v1h1v1h3v-1h5v1h3v-1h1v-1h1v1h1v1h1v-1h2v1h1v-1h3v1h6v-2h2v1h1v1h2v-1h6v-1h2v2h1v-1h1v-1h2v1h1v1h2v-1h2v1h1v-1h3v1h1v-1h4v1h2v1h1v-1h2v-1h5v1h6v-1h2v1h3v-1h4v1h1v1h1v-1h1v-1h3v1h3v-1h4v1h7v-1h3v1h1v-1h2v1h3v-1h3v1h2v-1h2v1h5v-1h1v-1h2v2h1v1h1v-1h2v-1h8v1h3v-1h4v1h13v1h2v-2h3v1h3v-1h7v1h1v-1h4v1h1v-1h3v1h1v-1h2v1h4v-1h2v1h4v-1h3v1h2v-1h2v1h6v-1h4v1h1v-1h2v1h3v-1h4v1h1v-1h1v-1h1v1h5v1h3v-2h2v1h2v1h2v-1h3v1h3v-1h6v1h2v-1h3v1h2v-2h2v1h1v1h1v-1h3v1h2v-1h5v1h2v-1h1v1h1v-1h4v1h3v-1h4v1h2v-1h1v1h3v-1h2v1h1v-1h4v1h1v-1h12v1h6v-1h1v-1h2v1h3v1h1v-1h3v1h2v-1h1v-1h2v1h1v1h6v-1h1v1h1v-1h4v1h2v-1h2v1h1v-1h7v2h1v-1h1v-1h2v1h1v-1h2v1h1v-1h2v1h1v-1h4v1h1v-1h2v-1h1v1h1v1h2v-1h3v1h3v-1h3v1h1v-1h1v1h2v-1h1v-2h1v1h1v1h1v2h1v-2h1v-1h3v2h3v-1h1v1h4v-1h1v-1h2v1h1v1h3v-1h3v1h3v-1h4v1h2v-1h3v1h3v-1h2v1h3v-1h2v1h3v-1h2v1h1v-1h4v1h3v-1h2v1h1v-1h2v1h2v-1h2v1h2v-1h1v-1h2v1h1v1h2v-1h2v1h3v-1h3v1h3v-1h7v1h1v1h1v-2h1v-1h1v1h1v1h1v-1h8v1h2v-1h3v1h2v-1h5v1h3v-1h3v1h5v-1h3v1h2v1h1v-1h1v-1h2v1h7v-1h4v1h2v-1h6v1h2v-1h3v2h1v-1h2v1h1v-2h6v1h2v-1h2v1h3v-1h1v-1h3v1h3v1h1v-1h3v1h4v-1h4v1h4v-1h1v-1h2v1h1v1h3v-1h4v1h3v-1h2v1h1v-1h3v1h1v-1h5v1h2v-1h2v1h2v1h1v-1h1v-1h3v1h3v1h1v-2h1v-1h1v1h1v1h1v-1h1v-1h2v1h1v2h1v-1h2v1h1v-2h5v1h2v-1h4v1h3v-1h3v1h3v-1h2v1h4v-1h2v1h2v1h-11v1h-2v-1h-1v-1h-1v2h-2v-1h-3v-1h-2v1h-1v1h-1v-1h-2v-1h-3v2h-6v-2h-2v1h-3v-1h-1v2h-4v-1h-2v-1h-1v1h-1v1h-3v-1h-6v-1h-3v1h-3v-1h-1v1h-5v1h-2v-1h-1v-1h-2v1h-5v-1h-2v1h-20v-1h-1v-1h-1v1h-1v1h-6v1h-2v-1h-3v-1h-2v2h-6v-2h-1v1h-4v-1h-4v1h-1v1h-1v-1h-2v-1h-2v1h-2v1h-2v-1h-6v1h-3v-1h-2v-1h-1v1h-7v-1h-1v1h-5v-1h-3v1h-2v1h-2v-2h-1v1h-2v1h-2v-2h-2v1h-1v-1h-3v1h-3v-1h-1v2h-3v-1h-1v-1h-2v1h-8v-1h-1v1h-6v1h-2v-1h-1v-1h-2v1h-9v1h-1v-1h-6v-1h-2v1h-10v1h-2v-1h-6v-1h-1v1h-4v-1h-1v1h-6v-1h-1v1h-5v-1h-2v1h-2v1h-2v-1h-6v-2h-1v1h-1v2h-3v-2h-2v1h-6v-1h-1v1h-1v1h-2v-1h-2v-1h-1v1h-4v-1h-2v1h-1v1h-1v-1h-1v-1h-2v1h-10v1h-3v-2h-1v1h-3v-1h-1v1h-5v1h-2v-2h-2v1h-4v1h-1v-1h-3v1h-1v-1h-1v-1h-2v1h-4v-1h-1v1h-3v-1h-4v2h-2v-1h-6v-1h-3v1h-2v-1h-1v1h-2v-1h-2v1h-3v-1h-2v1h-18v-1h-2v1h-6v-1h-1v1h-1v-1h-1v1h-4v-1h-1v1h-1v1h-1v-1h-1v-1h-1v1h-1v1h-1v-1h-2v-1h-1v1h-1v1h-2v-1h-1v-1h-1v1h-1v-1h-2v1h-2v1h-2v-1h-6v-1h-2v1h-5v-1h-5v1h-3v-1h-1v1h-9v-1h-2v1h-9v1h-2v-1h-1v-1h-1v1h-3v1h-2v-1h-10v-1h-1v1h-3v-1h-2v1h-3v-1h-2v1h-2v-1h-1v1h-5v-1h-1v2h-6v-1h-7v1h-1v-1h-3v-1h-2v1h-5v-1h-2v1h-2v-1h-2v1h-2v1h-3v-1h-1v-1h-1v1h-3v1h-2v-1h-3v1h-2v-1h-1v-1h-1v1h-8v-1h-1v1h-3v1h-2v-1h-11v-1h-1v1h-1v1h-3v-1h-1v-1h-2v1h-2v1h-2v-1h-6v1h-2v-1h-1v-1h-1v1h-4v1h-3v-1h-2v-1h-2v2h-2v-1h-9v-1h-2v2h-2v-1h-1v-1h-1v1h-2v-1h-3v1h-4v-1h-1v1h-8v-1h-1v1h-6v-1h-1v1h-2v1h-2v-1h-1v-1h-3v1h-5v-1h-1v1h-1v1h-3v-1h-2v1h-2v-1h-1v-1h-3v1h-1v1h-1v-1h-4v-1h-2v1h-12v-1h-2v1h-4v-1h-2v1h-4v-1h-3v1h-1v1h-3v-1h-1v-1h-1v1h-3v-1h-5v1h-7v-1h-4v1h-4v-1h-1v1h-2v1h-1v-1h-2v1h-3v-1h-3v-1h-2v1h-1v1h-2v-1h-14v-1h-2v1h-5v-1h-2v1h-3v-1h-1v1h-6v1h-3v-1h-1v-1h-1v1h-3v-1h-1v1h-5v-1h-1v1h-3v-1h-2v1h-1v-1h-1v1h-1v-1h-1v1h-1v1h-3v-2h-1v1h-7v1h-3v-1h-1v-1h-1v1h-1v1h-2v-1h-1v-1h-1v1h-6v-1h-1v1h-5v-1h-1v1h-2v1h-4v-1h-13v-1h-1v1h-4v-1h-1v1h-10v-1h-1v1h-14v-1h-1v1h-5v-1h-2v1h-2v-1h-1v1h-3v-1h-1v1h-1v1h-1v-1h-2v-1h-1v2h-2v-1h-5v-1h-3v1h-9v-1h-1v1h-17v-1h-1v1h-1v1h-2v-1h-1v-1h-1v-1h-1v1h-1v1h-1v1h-1v-1h-1v-1h-2v1h-6v-1h-5v1h-4v-1h-3v1h-4v-1h-2v1h-5v-1h-1v1h-1v1h-3v-2h-2v1h-1v1h-3v-1h-1v1h-2v-1h-2v1h-3v-1h-9v-1h-1v2h-3v-1h-10v1h-1v-1h-1v-1h-2v1h-1v1h-3v-1h-1v-1h-5v1h-1v1h-2v-1h-1z" fill="#ff0000" shape-rendering="crispEdges"/>
<path d="M50 157h2v-1h4v1h1v-1h2v-1h1v1h1v1h2v-1h3v1h1v-1h5v1h10v-1h2v-1h1v1h1v1h1v1h1v-1h2v-1h4v1h2v-1h3v1h3v-1h2v1h12v1h1v-1h2v-1h3v1h1v-1h3v1h8v-1h2v1h2v-1h2v1h1v1h1v-1h7v-1h2v1h4v-1h3v1h1v1h2v-1h1v-1h2v1h2v-1h2v1h5v1h1v-1h6v-1h1v1h6v1h2v-1h17v-1h2v1h7v1h1v-1h1v-1h2v1h9v-1h3v1h1v1h1v-1h1v-1h3v1h5v1h1v-2h1v1h5v-1h1v1h3v-1h2v1h4v-1h4v2h1v-1h1v-1h3v2h1v-1h2v-1h4v1h3v-1h3v1h1v1h1v-2h3v1h1v1h1v-1h2v-1h2v1h1v1h1v-1h1v-1h1v1h3v-1h3v1h10v-1h2v1h8v-1h1v-1h2v1h4v1h6v1h2v-1h1v-1h1v1h4v-1h3v1h1v1h3v-1h17v1h1v-1h1v-1h2v1h4v-1h2v1h3v-1h2v1h1v1h2v-1h4v-1h4v1h2v-1h2v1h3v1h2v-1h1v-1h3v1h8v1h1v-1h9v1h1v-1h2v-1h2v1h1v1h3v-1h5v1h2v-1h1v-1h2v1h15v-1h6v1h3v-1h2v1h2v2h1v-2h1v-1h3v1h3v-1h1v1h1v1h1v-2h2v1h2v-1h4v1h2v-1h3v1h2v-1h1v1h4v-1h5v2h1v-1h6v-1h1v1h14v-1h2v1h6v-1h8v1h6v-1h2v1h3v-1h3v1h8v1h1v-1h3v-1h2v1h2v-2h2v1h1v1h1v-1h3v1h1v1h1v-1h1v-1h2v1h7v-1h3v1h2v1h1v-1h5v-1h2v1h3v-1h3v1h2v1h1v-1h6v1h1v-1h1v-1h3v1h2v-1h2v1h3v-1h2v1h1v1h2v-1h1v-2h3v2h6v-1h3v1h1v1h1v-1h1v-1h3v1h9v-2h2v1h1v1h3v-1h3v1h6v-1h2v1h4v1h1v-1h6v-1h2v1h4v-1h3v1h1v1h1v-1h1v-1h2v1h2v-1h2v1h8v-1h2v1h2v1h1v-1h3v1h1v-1h3v-1h2v1h2v1h1v-1h1v-1h3v2h4v-2h3v1h2v-1h3v1h7v1h1v-1h1v-1h2v1h3v-1h2v1h4v-1h3v1h1v-1h2v-3h2v4h2v1h1v-1h1v-1h4v1h5v-1h1v1h6v1h2v-1h8v1h1v-1h5v1h1v-1h6v-1h1v1h1v1h1v-1h1v-1h3v1h2v-1h4v1h6v-1h2v1h1v-1h1v1h3v-1h5v-1h2v2h2v-1h4v1h1v1h2v-1h6v-1h3v1h4v-1h3v1h10v-1h2v2h1v-1h1v-1h4v1h3v-1h4v1h3v-1h2v1h16v-1h4v1h1v1h1v-1h1v-1h1v1h1v-1h2v1h7v-1h3v2h1v-1h1v-1h2v1h8v1h1v-1h2v-1h3v2h1v-2h2v-1h1v1h2v1h2v1h1v-1h5v-1h4v1h1v1h1v-1h1v-1h3v1h19v-1h3v1h12v1h1v-1h5v-1h4v1h1v-1h2v1h1v1h1v-1h1v-1h3v1h4v1h4v-1h1v-1h4v2h1v-1h2v-1h2v1h3v-1h2v1h8v-1h3v1h1v1h1v-1h1v-1h2v1h1v1h1v-1h1v-1h1v1h19v-1h2v1h8v-1h3v1h1v-1h3v1h4v1h1v-1h2v1h-1v2h-2v-1h-4v-1h-1v-1h-1v1h-3v-1h-1v1h-2v1h-2v-1h-3v1h-1v-1h-9v1h-2v-1h-12v2h-2v-1h-1v-1h-2v1h-3v-1h-1v-1h-1v1h-4v1h-2v-1h-2v1h-1v-1h-8v1h-1v1h-1v-1h-1v-2h-2v1h-1v1h-6v-1h-4v-1h-1v1h-1v1h-3v-1h-4v-1h-1v1h-6v1h-3v-1h-3v1h-2v-1h-2v1h-3v-1h-2v-1h-1v1h-21v-1h-1v1h-1v1h-3v-1h-1v-1h-2v1h-1v1h-2v-1h-2v1h-4v-1h-1v-1h-3v2h-1v1h-1v-1h-1v-2h-1v1h-2v1h-3v-1h-1v1h-2v-1h-2v1h-2v-1h-2v1h-3v-2h-1v1h-2v1h-6v-1h-4v1h-3v-1h-1v-1h-2v1h-8v1h-1v-1h-5v1h-2v-1h-4v1h-2v-1h-1v-1h-2v1h-3v1h-2v-2h-2v1h-1v1h-3v-1h-6v1h-2v-1h-1v1h-2v-1h-1v-1h-1v1h-1v1h-1v-1h-4v-1h-1v1h-6v1h-4v-1h-1v-1h-1v1h-5v-1h-2v1h-2v-1h-1v1h-1v1h-2v-1h-5v1h-4v-1h-3v-1h-2v1h-6v2h-2v-1h-1v-1h-4v1h-3v1h-1v-1h-1v-1h-3v1h-3v-1h-6v1h-5v-1h-1v1h-2v-1h-8v-1h-2v1h-1v1h-3v-1h-2v-1h-2v2h-2v-1h-1v-1h-1v1h-3v1h-2v-1h-1v2h-2v-1h-2v-1h-2v1h-5v-1h-1v1h-2v-1h-2v-1h-1v1h-4v-1h-1v2h-1v1h-2v-1h-3v-2h-1v1h-1v1h-3v-1h-5v1h-3v-1h-1v1h-3v-1h-4v1h-2v-1h-8v1h-1v-1h-2v1h-3v-1h-1v-1h-1v1h-3v1h-1v-1h-3v1h-1v-1h-4v1h-3v-1h-6v1h-4v-1h-2v-1h-1v1h-2v1h-1v-1h-2v-1h-1v1h-2v1h-2v-1h-7v-1h-1v1h-1v2h-2v-1h-1v-1h-1v-1h-1v1h-2v1h-3v-1h-5v1h-1v1h-2v-1h-1v-1h-10v-1h-1v1h-1v1h-3v-1h-4v1h-4v-1h-1v-1h-1v1h-1v1h-2v-1h-3v1h-2v-1h-2v1h-3v-1h-9v1h-1v-1h-3v1h-3v-1h-1v-1h-1v1h-1v1h-1v-1h-1v-1h-1v1h-1v1h-2v-1h-4v1h-3v-1h-8v-1h-1v1h-1v1h-3v-1h-11v-1h-1v1h-2v-1h-1v1h-10v1h-2v-1h-17v1h-3v-2h-3v1h-2v1h-2v-1h-2v1h-2v-1h-1v-1h-1v2h-4v-2h-2v1h-4v1h-3v-1h-2v1h-2v-1h-1v-1h-1v1h-1v2h-3v-2h-7v-1h-4v1h-2v1h-2v-1h-6v1h-2v-1h-2v1h-2v-1h-2v1h-4v-1h-3v1h-1v1h-2v-1h-2v-1h-3v1h-3v-1h-7v1h-3v-1h-1v1h-2v-1h-1v1h-3v-1h-1v-1h-1v1h-1v1h-4v-1h-4v2h-1v-1h-1v-1h-2v-1h-1v1h-1v1h-2v-1h-1v1h-4v-1h-3v1h-1v-1h-9v1h-3v-1h-2v1h-2v-1h-3v1h-2v-1h-6v1h-2v1h-1v-1h-2v-1h-1v-1h-1v1h-6v1h-4v-1h-1v1h-2v-1h-5v-1h-3v1h-2v1h-2v-1h-1v1h-4v-1h-13v-1h-1v1h-1v1h-2v-1h-2v1h-3v-1h-3v1h-3v-1h-1v-1h-1v2h-3v-1h-1v-1h-1v1h-5v-1h-2v1h-2v1h-3v-2h-1v1h-1v1h-3v-2h-2v1h-16v1h-3v-1h-1v1h-2v-1h-4v1h-3v-1h-1v-1h-1v1h-1v1h-1v-1h-10v1h-3v-1h-3v1h-2v-1h-7v1h-2v-1h-4v1h-2v-1h-3v1h-5v-1h-3v1h-2v-1h-6v1h-4v-1h-1v1h-2v-1h-6v1h-4v-1h-1v-1h-1v1h-1v2h-2v-2h-10v1h-3v-1h-3v1h-2v-1h-1v1h-2v-1h-2v1h-2v-1h-3v-1h-1v1h-6v1h-3v-1h-17v-1h-1v1h-1v1h-2v-1h-1v-1h-1v1h-3v1h-3v-1h-1v-1h-2v1h-1v1h-2v-1h-9v-1h-2v1h-4v-1h-1v1h-1v1h-2v-1h-1v-1h-2v1h-3v-1h-2v1h-1v1h-2z" fill="#0000ff" shape-rendering="crispEdges"/>
<path d="M50 174h2v-1h1v-1h2v2h3v-1h3v1h1v-1h3v1h1v-1h8v1h3v-1h2v-1h2v1h1v1h1v-1h4v1h5v-1h4v1h2v-1h2v1h3v-1h3v1h2v1h1v-1h3v-1h2v1h3v-1h3v1h2v-1h5v2h2v-1h2v-1h2v1h1v-1h3v1h6v-1h5v1h1v1h1v-1h4v-1h1v-1h1v1h2v1h3v-1h5v1h4v-1h11v1h2v-1h2v1h1v1h1v-1h1v-1h3v2h1v-1h1v-1h1v-1h1v1h2v1h1v1h1v-2h3v1h2v-1h2v1h1v-1h2v1h5v-1h2v1h2v-1h4v1h4v-1h1v-1h2v1h1v1h3v1h1v-1h1v-1h2v1h3v-1h4v1h1v1h1v-1h1v-1h4v1h1v-1h4v1h1v-1h5v1h4v-1h2v1h6v1h1v-1h2v-1h1v1h3v-1h4v1h4v-1h3v1h2v-1h4v1h1v-1h3v1h2v-1h3v1h1v1h1v-1h4v-1h2v1h1v-1h1v-1h2v2h1v1h1v-1h2v-1h1v1h1v-1h7v1h4v-1h3v1h5v-1h1v1h5v-1h3v1h2v-1h2v1h7v-1h4v1h1v-1h1v-1h2v1h2v1h1v-1h5v1h1v-1h3v1h3v-1h4v1h4v1h1v-1h1v-1h1v-1h1v1h1v1h2v-1h3v1h2v-1h2v-1h1v1h2v1h2v-1h2v1h1v-1h6v1h3v-1h6v1h1v-1h2v1h3v-1h1v-1h2v2h1v-1h3v1h2v-1h3v1h1v-1h3v1h3v-1h4v1h2v-1h4v1h1v-1h4v1h5v-1h2v1h1v-1h4v1h2v-1h2v1h2v-1h2v1h4v-1h3v1h2v-1h5v1h6v-1h3v1h1v1h1v-1h4v-1h2v1h2v-1h2v1h4v-1h3v2h1v1h1v-2h1v-1h3v1h2v1h1v-1h1v-1h6v1h1v1h1v-1h3v-1h1v1h2v-1h3v1h2v1h1v-1h1v-2h2v1h1v1h1v-1h2v1h7v-1h3v1h1v-1h3v1h4v-1h1v1h4v-1h3v1h3v-1h3v1h4v-1h3v2h1v-1h1v-1h8v1h4v1h1v-2h8v-1h1v1h1v1h2v-1h2v1h1v1h1v-1h1v-1h3v1h5v-1h7v1h11v-1h1v1h4v-1h1v-1h2v1h1v1h4v-1h2v1h1v-1h3v1h1v1h1v-1h1v-1h3v1h1v-1h2v1h2v1h1v-1h1v-1h1v-1h1v1h1v1h1v-1h5v1h1v-1h6v1h1v-1h3v1h1v-1h1v-1h1v1h1v1h2v-1h2v1h1v-1h4v1h3v-1h6v1h4v-1h3v1h4v-1h4v1h2v-1h2v1h6v-1h4v1h2v-1h2v1h3v-1h1v-1h3v2h3v-1h10v1h3v-1h2v1h2v-1h2v1h1v-1h6v1h1v-1h4v1h2v-1h1v1h1v-1h3v1h2v-1h2v1h2v-1h7v-1h2v1h1v1h1v-1h4v1h1v-1h2v1h2v-1h11v1h4v-1h5v1h2v-1h3v1h3v-1h2v1h2v-1h3v1h2v-1h4v1h3v-1h2v1h3v-1h4v1h4v-1h2v1h2v-1h3v1h5v-1h2v1h3v-1h3v1h4v-1h1v1h4v-1h2v1h1v1h1v-1h1v-1h2v1h1v1h1v-2h3v1h1v-1h2v1h2v-1h3v1h10v-1h1v1h2v-1h2v1h3v-1h3v-1h3v2h3v-1h3v1h1v-1h2v1h3v-1h2v-1h1v-1h1v1h1v2h1v-1h3v1h2v-1h2v1h2v-1h4v1h10v-1h2v1h1v-1h2v1h4v-1h2v1h8v-1h4v1h3v-1h5v1h1v-1h3v1h4v-1h7v-1h2v1h1v1h1v-1h2v1h3v-2h1v1h3v1h5v1h1v-1h1v-1h3v1h1v-1h5v1h4v-1h2v1h2v-1h2v1h2v-1h5v1h2v-1h3v1h9v-1h2v1h2v-1h1v2h-9v1h-2v-1h-4v-1h-1v1h-4v-1h-3v1h-14v-1h-1v1h-5v-1h-1v1h-1v1h-3v-1h-5v-1h-2v1h-1v1h-2v-1h-2v1h-2v-1h-1v-1h-2v1h-2v-1h-2v1h-5v1h-2v-1h-1v-1h-1v1h-5v-1h-1v1h-2v1h-2v-1h-16v1h-2v-1h-9v1h-1v-1h-3v1h-2v-1h-1v-1h-2v1h-8v-1h-1v2h-2v-1h-1v-2h-1v1h-2v1h-2v1h-2v-1h-4v-1h-1v1h-1v1h-4v-1h-1v-1h-1v1h-1v-1h-1v1h-15v1h-2v-1h-3v-1h-1v1h-1v1h-1v-1h-2v1h-2v-1h-2v1h-3v-1h-2v1h-3v-1h-4v1h-1v-1h-7v-1h-1v1h-3v1h-1v-1h-8v-1h-1v1h-10v-1h-1v1h-3v1h-1v-1h-28v-1h-1v1h-3v1h-4v-1h-1v-1h-2v1h-1v-1h-2v1h-3v-1h-1v1h-1v1h-2v-1h-4v-1h-2v1h-3v-1h-2v1h-2v-1h-3v1h-9v-1h-1v1h-4v1h-2v-2h-2v1h-3v-1h-1v1h-1v-1h-2v1h-12v-1h-8v1h-1v1h-2v-1h-2v-2h-1v1h-1v1h-10v-1h-1v1h-24v1h-2v-1h-1v-1h-2v1h-4v1h-2v-1h-1v-1h-2v1h-7v-1h-1v1h-3v-1h-1v1h-3v-1h-4v1h-3v-1h-3v1h-3v-1h-1v1h-1v1h-4v-1h-4v-1h-1v1h-1v1h-3v-1h-1v-1h-1v1h-6v1h-2v-1h-1v-1h-2v1h-7v1h-1v-1h-10v-1h-2v1h-2v-1h-1v2h-2v-1h-5v-1h-1v1h-1v1h-3v-1h-1v1h-2v-1h-2v-1h-3v1h-4v-1h-1v2h-5v-1h-3v-1h-2v1h-2v-1h-1v1h-1v1h-3v-2h-1v1h-6v-1h-1v1h-5v-1h-1v1h-11v-1h-1v1h-3v-1h-1v1h-12v-1h-1v1h-1v1h-3v-1h-2v-1h-1v1h-6v1h-3v-1h-1v-1h-3v1h-2v1h-3v-1h-2v-1h-1v1h-1v2h-3v-1h-1v-2h-1v1h-14v1h-3v-1h-1v-1h-1v1h-1v1h-3v-1h-6v-1h-1v1h-4v-1h-1v1h-1v1h-3v-1h-18v1h-2v-1h-2v-1h-2v1h-3v-1h-2v1h-4v-1h-1v1h-3v1h-1v-1h-2v-1h-1v1h-3v-1h-1v1h-1v1h-2v-1h-1v-1h-1v1h-3v-1h-1v1h-8v-1h-4v1h-1v1h-2v-1h-2v-1h-1v1h-2v-1h-1v1h-4v1h-2v-1h-1v-1h-3v1h-1v1h-2v-1h-1v-1h-1v1h-1v1h-2v-1h-1v-1h-1v1h-1v1h-3v-1h-4v-1h-2v1h-1v1h-2v-1h-2v-1h-1v1h-3v-1h-3v1h-3v-1h-3v1h-3v-1h-2v1h-6v1h-1v-1h-3v1h-2v-1h-1v-1h-1v1h-13v-1h-1v1h-6v-1h-5v1h-4v1h-3v-1h-1v-1h-1v1h-7v1h-3v-1h-1v-1h-1v1h-2v1h-1v-1h-1v-1h-1v1h-3v-1h-2v1h-1v1h-2v-1h-1v-1h-1v1h-2v1h-2v-1h-2v-1h-2v1h-6v1h-3v-1h-2v1h-2v-1h-8v-1h-3v1h-8v-1h-2v1h-1v1h-3v-1h-1v-1h-2v1h-6v1h-1v1h-1v-1h-3v-1h-1v-1h-2v1h-1v1h-2v-1h-3v-1h-2v1h-2v1h-1v-1h-15v-1h-1v2h-3v-1h-1v-1h-2v1h-1v1h-3v-2h-1v1h-1v1h-1v1h-1v-1h-1v-1h-6v-1h-3v1h-4v-1h-1v1h-2v1h-3v-1h-3v-1h-1v1h-2v1h-1v-1h-2v-1h-2v1h-1v1h-2v-1h-1v1h-3v-1h-1v-1h-3v1h-2v1h-1v-1h-5v-1h-1v1h-5v1h-4v-2h-1v1h-3v1h-2v-1h-1v-1h-1v1h-2v1h-1v-1h-5v1h-3v-1h-2v-1h-1v1h-2v1h-2v-1h-5v-1h-2v1h-1v1h-2v-1h-1v1h-2v-1h-1v-1h-2v1h-1v1h-2v-2h-3v1h-5v-1h-1v1h-2v-1h-3v1h-3v-1h-1v1h-1v1h-1v-1h-1v-1h-1v1h-2v1h-2v-1h-1v-1h-1v1h-3z" fill="#006400" shape-rendering="crispEdges"/>
<path d="M50 190h4v1h2v-1h9v-1h2v1h5v1h1v-1h2v-1h1v-1h2v1h1v1h3v-1h2v1h3v-1h2v1h4v-1h1v1h4v1h2v-1h3v-1h2v1h4v-1h3v1h1v-1h1v-1h1v1h1v1h3v-1h1v-1h2v1h1v2h1v-1h1v-1h3v1h5v-1h3v1h3v-1h2v1h2v1h1v-1h1v-1h2v1h6v-1h3v1h12v-1h1v1h9v-1h1v1h2v1h1v-1h10v-1h2v1h1v-1h4v1h7v1h1v-1h2v-1h3v1h6v1h2v-1h1v-1h3v1h2v-1h1v1h1v1h2v-1h2v-1h2v1h1v1h1v-2h1v-1h1v1h3v1h1v1h1v-2h4v1h1v1h1v-1h1v-1h1v-1h1v1h1v1h1v-1h1v1h1v-1h4v1h6v-1h4v1h1v1h2v-1h1v-1h2v1h2v-1h1v1h3v-1h3v1h1v-1h1v1h6v-1h2v1h3v-1h3v2h1v-1h1v-1h3v1h5v-1h1v1h3v1h1v-1h1v-1h2v1h2v-1h2v1h1v1h1v-1h9v-1h3v1h3v-1h2v1h2v-1h2v1h1v1h1v-1h6v1h1v-1h1v-1h3v1h10v1h1v-1h1v-1h4v1h3v-1h3v1h1v1h2v-1h1v-1h1v1h4v1h1v-3h2v1h1v1h2v1h1v-1h1v-1h3v1h1v1h1v-2h1v-1h2v2h1v1h1v-2h2v1h1v1h1v-1h1v-1h2v2h1v-2h1v-1h2v2h1v1h1v-1h3v-1h2v1h3v-1h2v1h1v-1h4v1h2v-1h2v1h1v-1h2v1h3v-1h2v1h2v-1h3v1h3v-1h2v1h12v1h1v-1h2v-1h2v1h3v-1h4v1h20v-1h1v1h2v-1h1v1h3v-1h1v1h9v1h1v-1h5v1h3v-1h2v1h2v-1h5v-1h5v1h1v1h4v-1h2v-1h2v1h1v1h1v-2h3v1h1v1h2v-1h6v1h1v-1h1v-1h1v1h2v-1h2v1h1v-1h2v1h5v1h1v-1h4v-1h3v1h1v1h1v-1h1v-1h2v1h2v-1h4v1h6v-1h4v1h4v-1h3v1h19v-1h1v1h1v-1h2v1h4v-1h3v1h10v-1h2v1h1v1h2v-1h5v-1h2v1h6v1h1v-1h1v-1h3v1h2v1h1v-1h4v1h1v-1h5v-1h3v2h2v-2h3v1h5v-1h1v1h5v1h1v-1h1v-1h4v1h1v-1h1v1h1v1h1v-1h5v-1h2v1h7v-1h2v1h1v1h2v-1h1v-1h2v1h1v1h2v-1h2v1h1v-1h3v-1h2v1h8v1h1v-2h3v1h3v-1h4v1h19v-1h4v1h2v1h1v-1h6v-1h2v1h2v-1h3v1h2v-1h1v1h7v-1h3v1h9v1h1v-1h2v-1h2v2h1v-1h1v-1h3v1h2v-1h2v1h2v-1h2v1h4v1h1v-1h4v-1h2v1h3v-1h2v1h2v-1h1v-1h1v1h1v1h1v-1h1v-1h1v1h1v1h1v1h2v-2h1v-1h1v1h1v2h4v-1h1v-1h3v1h1v1h1v-1h1v-1h2v1h10v1h1v-1h1v-1h1v1h1v1h2v-1h1v-1h2v1h1v1h1v-1h18v-1h2v1h1v1h1v-1h1v-1h4v1h2v-1h2v1h11v-1h3v1h1v-1h2v1h3v-1h2v1h4v-1h2v1h11v-1h1v1h6v-1h3v1h5v-1h3v1h3v1h1v-1h1v-1h2v1h1v-1h2v1h1v1h2v-1h3v1h1v-1h1v-1h3v1h1v-1h2v-1h1v1h1v2h1v-1h1v-1h3v1h1v1h2v-1h1v-1h1v1h3v1h1v-1h7v1h1v-1h1v-1h3v1h8v1h2v-1h6v-1h2v1h1v-1h4v1h2v1h1v-1h2v-1h1v1h2v-1h2v1h2v1h1v-1h1v-1h4v1h4v1h1v-1h10v1h1v-1h3v-1h3v1h2v-1h3v1h3v-1h3v2h-1v-1h-1v1h-5v-1h-1v1h-1v1h-2v-1h-1v-1h-1v1h-3v1h-4v-1h-2v1h-2v-1h-3v1h-3v-1h-5v-1h-1v1h-1v1h-3v-1h-3v1h-2v-1h-2v1h-3v-1h-8v1h-2v-1h-3v1h-4v-1h-8v-1h-1v1h-1v1h-3v-1h-5v1h-5v-1h-1v1h-1v1h-2v-1h-1v-1h-1v-1h-1v1h-1v1h-3v-2h-2v1h-3v-1h-1v1h-1v1h-3v-1h-1v1h-1v1h-2v-1h-1v-1h-5v1h-3v-1h-3v-1h-1v1h-1v1h-2v-1h-4v-1h-1v1h-3v1h-3v-1h-7v1h-1v-1h-28v1h-1v-1h-9v-1h-1v1h-2v1h-3v-1h-7v1h-5v-1h-1v1h-2v-1h-4v1h-3v-1h-2v1h-4v-1h-1v1h-4v-1h-1v1h-3v-1h-2v1h-3v-1h-1v1h-3v-1h-1v-1h-1v1h-1v1h-6v-2h-1v2h-1v1h-1v-1h-2v-1h-1v-1h-1v1h-3v-1h-1v1h-7v1h-1v-1h-5v1h-3v-1h-1v1h-2v-1h-2v1h-2v-1h-5v-1h-1v1h-1v1h-3v-1h-2v1h-4v-1h-10v1h-2v-1h-3v1h-2v-1h-1v1h-2v-1h-1v-1h-1v1h-1v1h-2v-1h-7v1h-3v-1h-2v-1h-2v1h-10v1h-2v-1h-6v1h-2v-1h-1v-1h-2v1h-5v-1h-1v2h-3v-1h-11v1h-1v1h-1v-1h-5v-1h-2v1h-1v1h-2v-1h-1v-1h-2v1h-2v-1h-1v1h-1v-1h-6v1h-6v-1h-1v1h-2v-1h-3v1h-6v-1h-2v1h-2v-1h-4v-1h-1v2h-1v1h-2v-1h-1v-2h-1v1h-1v1h-3v-1h-1v1h-3v-1h-2v1h-3v-1h-2v-1h-1v1h-1v1h-1v1h-1v-1h-1v-1h-11v1h-4v-1h-6v1h-2v-1h-35v-1h-1v1h-2v1h-1v-1h-3v-1h-2v1h-3v1h-2v-1h-3v-1h-2v1h-1v1h-2v-1h-2v1h-3v-1h-1v-1h-1v1h-4v1h-3v-1h-12v1h-1v1h-1v-1h-3v-1h-2v1h-1v1h-2v-1h-1v-1h-1v-1h-1v2h-3v-1h-3v1h-6v-1h-1v-1h-3v1h-2v1h-1v-1h-2v1h-5v1h-1v-1h-3v-1h-3v1h-3v-1h-5v1h-2v-1h-2v1h-2v-1h-9v1h-2v-1h-12v1h-2v-1h-1v-1h-2v1h-1v1h-2v-1h-4v1h-3v-1h-8v1h-2v-1h-7v-1h-1v1h-2v1h-1v-1h-2v1h-2v-1h-7v1h-1v-1h-1v-1h-2v1h-1v1h-1v-1h-3v1h-2v-1h-4v1h-3v-1h-1v-1h-1v3h-2v-1h-1v-1h-1v1h-3v-1h-1v1h-1v1h-2v-2h-1v-1h-1v2h-3v-1h-1v-1h-1v1h-1v1h-5v-2h-1v2h-3v-1h-4v1h-4v-1h-1v-1h-1v1h-1v1h-2v-1h-2v-1h-2v1h-1v1h-3v-1h-7v1h-2v-1h-1v-1h-1v1h-1v1h-3v-1h-3v1h-4v-1h-6v1h-2v-1h-2v-1h-1v1h-9v1h-3v-1h-6v1h-3v-1h-11v1h-3v-1h-16v-1h-1v1h-9v1h-2v1h-1v-1h-1v-1h-1v-1h-2v2h-3v-1h-1v1h-2v-1h-2v-1h-1v1h-6v-1h-1v1h-1v1h-3v-1h-1v-1h-2v2h-3v-1h-3v-1h-1v2h-3v-1h-1v2h-1v1h-1v-2h-2v1h-1v-1h-1v-1h-4v-1h-1v1h-1v1h-4v-1h-1v1h-2v-1h-1v1h-2v1h-1v1h-1v-3h-1v1h-1v1h-1v-1h-2v1h-1v1h-1v-2h-3v-1h-3v1h-2v-1h-5v1h-2v-1h-4v1h-3v-1h-2v1h-2v-1h-13v1h-2v-1h-3v1h-2v-1h-6v1h-1v-1h-4v1h-3v-1h-3v1h-3v-1h-1v-1h-1v1h-3v1h-3v-1h-1v-1h-1v1h-1v1h-3v-2h-2v1h-2v1h-2v-1h-1v-1h-1v1h-3v-1h-1v1h-1v1h-2v-1h-6v1h-4v-1h-1v1h-2v-1h-9v1h-1v-1h-6v-1h-1v1h-2v1h-5v-1h-2v1h-1v-1h-6v1h-2v-1h-2v1h-4v-1h-2v1h-1z" fill="#000000" shape-rendering="crispEdges"/>
<path d="M50 207h1v-1h2v1h2v-1h2v1h4v-1h3v1h1v-1h3v1h5v-1h2v1h3v-1h3v2h1v-1h1v-1h2v1h2v-1h2v-1h2v1h1v1h4v-1h2v1h3v-1h5v1h5v-1h2v1h13v-1h3v1h3v-1h1v1h3v-1h4v1h3v-1h3v1h1v-1h3v1h2v-1h3v1h2v-1h1v-1h2v1h1v1h3v-1h3v1h7v-1h1v-1h2v1h4v1h3v-1h2v1h1v-1h4v1h1v-1h3v1h2v-1h4v1h6v-1h3v1h1v-1h3v1h10v-1h2v1h5v-1h1v-1h1v1h1v2h1v-1h1v-1h5v1h2v-1h3v1h5v-1h2v1h4v-1h4v1h4v-1h2v1h1v-1h2v1h2v-1h2v1h1v-1h8v1h3v-1h7v1h2v-1h1v-1h2v1h1v1h2v-1h3v1h1v-1h2v1h3v-1h6v1h2v1h1v-2h3v1h1v-1h2v1h3v-2h3v1h2v1h2v-1h2v1h2v-1h5v1h1v-1h3v1h11v1h1v-1h3v-1h3v1h6v-1h3v1h4v-1h1v1h3v-1h2v1h5v-1h1v1h1v-1h3v1h2v-1h3v1h6v-1h3v1h5v-1h4v-1h1v1h1v1h3v-1h3v1h5v-1h4v1h2v-1h3v1h3v-1h1v1h3v-1h4v1h1v-1h3v1h5v-1h3v1h1v-1h3v1h1v-1h4v1h1v-2h2v-1h1v1h1v-2h1v2h1v-2h1v2h1v-1h2v3h1v-1h1v-4h1v-1h1v3h1v2h1v-4h1v2h1v-1h1v1h1v2h1v-4h1v2h1v1h2v-1h1v2h1v-1h1v1h3v-1h2v1h2v1h1v-1h2v-1h3v2h2v-1h2v1h1v-1h1v-1h2v1h1v1h2v-1h1v1h1v-1h1v1h5v-1h2v1h2v-1h1v-1h2v1h5v1h1v-1h3v1h2v-1h1v-1h2v1h1v1h2v-1h7v1h4v-1h3v1h3v-1h2v1h1v1h1v-1h2v-1h2v1h2v-1h1v-1h1v1h1v1h1v-1h1v1h1v-1h2v2h1v-1h1v-1h1v1h2v-1h2v1h2v-1h3v1h8v-1h2v1h12v-1h6v1h1v-1h8v2h1v-1h1v-1h1v-1h2v1h1v1h4v-1h4v2h1v-1h2v-1h3v1h1v-1h1v-1h2v1h1v1h2v-1h1v-1h3v2h3v-2h2v1h1v1h5v-1h1v1h2v-1h3v1h10v-1h3v1h2v-1h4v1h1v-1h3v1h3v-1h4v1h1v-1h4v1h5v-1h4v1h2v-1h2v1h4v-1h1v-1h1v1h1v1h5v1h1v-1h1v-1h4v1h4v-1h1v-1h1v1h1v1h6v-1h3v1h2v-1h6v1h10v-1h8v1h1v-1h5v1h1v-1h2v1h1v1h1v-1h1v-1h3v1h1v-1h1v-1h3v2h1v-1h5v1h2v-1h2v1h2v-1h4v1h1v-1h6v1h2v-1h1v1h1v1h1v-2h7v1h2v-1h3v1h2v1h1v-1h2v-1h4v1h2v-1h1v-1h3v1h1v1h4v-1h3v1h3v-1h2v1h2v-1h2v1h4v1h1v-1h3v-1h5v1h2v-1h3v1h5v-1h6v1h2v-1h2v1h1v-1h1v1h2v-1h2v-1h2v1h1v1h2v-1h5v1h1v-1h5v1h2v-1h6v1h2v-1h2v1h1v-1h11v2h2v-2h3v-1h2v1h1v1h1v-1h1v1h1v1h1v-1h1v-1h4v1h2v-1h1v1h4v1h1v-1h1v-1h4v1h1v-1h3v1h2v-1h3v1h1v-1h4v1h5v-1h2v1h4v-1h1v1h4v-1h2v1h2v-1h5v1h2v-1h5v1h2v-2h1v-1h2v2h1v2h1v-1h1v-1h3v1h1v-1h4v1h3v-1h3v1h1v-1h3v1h2v-2h2v1h4v2h1v-1h2v-1h3v1h1v-1h3v1h2v-1h1v1h1v-1h2v1h3v-1h4v1h2v-1h4v1h5v-1h8v1h2v-1h1v-1h1v1h2v1h1v1h1v-1h1v-1h2v1h-1v1h-1v1h-3v-1h-1v-1h-2v1h-5v-1h-3v1h-10v-1h-1v1h-14v1h-2v-1h-1v-1h-1v1h-3v-1h-1v1h-2v1h-3v-2h-1v1h-1v-1h-2v1h-1v1h-2v-1h-1v-1h-1v1h-3v-1h-1v1h-2v1h-2v-1h-6v-1h-1v1h-1v1h-3v-2h-1v-1h-1v2h-1v1h-2v-1h-1v-1h-1v1h-4v1h-1v-1h-1v-1h-3v1h-6v1h-2v-1h-14v-1h-1v1h-4v-1h-1v1h-1v1h-2v-1h-2v1h-2v-1h-1v-1h-2v1h-1v1h-3v-1h-4v1h-1v-1h-3v-1h-1v1h-1v1h-3v-1h-3v-1h-4v2h-4v-2h-1v1h-4v-1h-1v1h-2v-1h-1v1h-5v1h-1v-1h-1v-1h-4v1h-4v-1h-3v1h-1v1h-1v-1h-1v-1h-3v1h-4v-1h-2v1h-11v-1h-1v1h-1v-1h-1v1h-8v-1h-1v1h-2v1h-1v-1h-1v-1h-1v1h-4v1h-4v-1h-5v1h-2v-1h-2v1h-1v-1h-7v1h-2v-1h-1v-1h-1v-1h-1v1h-1v1h-4v-1h-2v1h-2v1h-3v-1h-2v-1h-1v1h-4v-1h-5v2h-3v-1h-4v-1h-1v1h-2v-1h-1v1h-3v-1h-2v1h-5v1h-2v-1h-1v-1h-3v1h-1v1h-1v-1h-1v-2h-1v1h-1v2h-2v-1h-1v-1h-1v1h-1v1h-3v-1h-4v-1h-1v1h-5v-1h-6v1h-14v-1h-2v1h-4v-1h-1v1h-8v-1h-1v1h-1v1h-2v-1h-3v-1h-2v1h-1v1h-3v-1h-5v-1h-1v1h-10v-1h-2v1h-2v1h-1v-1h-4v-1h-2v1h-3v-1h-1v1h-6v-1h-1v1h-3v-1h-1v1h-5v-1h-1v1h-4v1h-3v-1h-5v-1h-1v1h-1v1h-1v-1h-8v-1h-1v1h-1v1h-2v-1h-2v-2h-1v1h-1v1h-1v1h-2v-1h-1v-1h-2v1h-1v1h-2v-2h-1v1h-2v1h-3v-2h-2v1h-3v1h-2v-1h-1v-1h-2v1h-1v2h-2v-1h-1v-2h-5v1h-4v-1h-1v1h-2v-1h-1v1h-2v1h-1v-1h-4v1h-1v-1h-3v1h-2v-1h-7v1h-2v-1h-2v-1h-1v1h-5v1h-2v-1h-1v1h-3v-1h-3v1h-2v-2h-1v1h-1v1h-2v-1h-3v2h-2v-1h-1v-1h-13v-1h-2v1h-2v-1h-1v1h-1v1h-2v-1h-1v-1h-2v1h-4v-1h-1v1h-3v-1h-2v1h-2v-1h-2v1h-16v-1h-2v1h-1v1h-1v-1h-2v1h-1v-1h-1v-1h-3v2h-1v1h-1v-1h-1v-1h-1v1h-1v-1h-2v1h-2v1h-1v-2h-1v1h-2v2h-2v-3h-1v3h-1v-3h-1v3h-1v1h-1v-3h-1v2h-1v-1h-1v1h-1v-2h-2v1h-1v4h-1v-4h-1v-2h-1v3h-1v-3h-1v3h-1v2h-1v-3h-1v2h-1v-4h-3v-1h-1v1h-1v1h-1v-2h-1v1h-2v-1h-1v1h-3v-1h-1v1h-7v-1h-1v1h-3v-1h-2v1h-9v-1h-1v1h-4v-1h-1v1h-8v-1h-1v1h-5v-1h-4v1h-1v1h-2v-1h-4v-1h-1v1h-3v1h-1v-1h-6v1h-2v-1h-1v-1h-1v1h-3v1h-2v-1h-14v-1h-1v1h-2v1h-1v-1h-5v-1h-1v1h-1v1h-5v-1h-23v1h-2v-1h-1v-1h-2v-1h-1v2h-8v-1h-1v2h-3v-1h-4v-1h-2v1h-1v1h-2v-1h-5v-1h-1v1h-4v-1h-2v1h-4v-1h-1v1h-2v-1h-1v1h-6v-1h-2v1h-35v-1h-1v1h-4v-1h-3v1h-1v1h-3v-2h-1v1h-1v1h-2v-1h-10v1h-2v-1h-4v-1h-1v1h-3v-1h-1v1h-1v1h-2v-1h-6v-1h-1v1h-4v-1h-1v1h-13v-1h-1v1h-2v-1h-2v1h-9v-1h-1v1h-3v1h-1v-1h-1v-1h-2v1h-4v-1h-1v1h-25v-1h-1v1h-4v1h-2v-1h-12v1h-2v-1h-4v-1h-1v1h-7v1h-2v-1h-2v-1h-3v1h-1v1h-2v-1h-2v1h-3v-2h-1v1h-2v1h-1v-1h-2v1h-2v-1h-5v-1h-1v1h-3v-1h-1v1h-12z" fill="#ff0000" shape-rendering="crispEdges"/>
<path d="M50 222h5v1h3v-1h3v1h1v-1h4v1h1v-1h3v1h2v-1h2v1h2v-1h2v1h15v-1h3v1h4v-1h5v1h4v-1h3v1h3v-1h4v1h5v1h1v-1h2v-1h3v1h3v-1h1v1h8v-1h3v1h1v-1h2v1h4v-1h1v1h7v1h1v-1h3v1h2v-1h1v-1h1v-1h2v1h1v1h2v-1h7v1h3v-1h4v1h1v1h1v-1h1v-2h2v1h1v1h3v-1h4v1h7v-1h1v1h5v-1h1v1h4v-1h4v1h14v-2h2v1h2v1h4v1h2v-1h1v-1h2v1h2v-1h3v1h8v-1h5v1h5v-1h1v1h1v-1h1v1h10v1h2v-1h1v1h1v-1h1v-1h3v1h5v-1h2v1h3v-1h2v1h1v1h3v-1h5v-1h3v1h7v-1h3v1h3v-1h1v1h4v1h2v-1h1v-1h2v1h2v-1h4v1h1v1h2v-1h1v-1h3v1h9v-1h1v-1h2v2h4v1h2v-1h1v-1h1v1h3v1h3v-1h2v-1h3v1h2v-1h1v-1h2v1h1v2h1v-1h1v-1h2v1h4v-1h2v1h1v1h1v-1h5v-1h1v1h19v-1h4v1h1v-1h5v1h3v-1h2v1h2v1h2v-2h2v1h9v1h1v-2h4v1h2v-1h2v1h6v-1h1v1h1v1h2v-1h1v-1h3v1h3v-1h2v1h3v-1h1v1h4v-1h2v1h6v1h1v-2h3v1h1v1h3v-1h4v-1h2v1h2v-1h3v1h1v-1h4v1h4v1h1v-1h1v-1h3v1h1v-1h3v1h2v-1h2v1h1v1h2v-1h1v-1h6v1h2v-1h2v1h1v1h1v-1h1v-1h4v1h8v-1h2v1h4v-1h3v1h2v-1h1v1h2v1h1v-1h4v-1h1v1h11v-1h2v1h1v-1h1v1h5v-1h2v1h4v-1h3v1h5v1h1v-1h1v-1h3v1h3v-1h1v1h1v-1h3v1h1v1h1v-2h2v1h1v1h1v-1h3v-1h2v1h2v-1h5v1h1v-1h5v1h3v-1h2v1h1v-1h2v1h5v1h2v-1h2v-1h2v1h2v-1h2v1h8v-1h2v1h9v-1h2v1h3v-1h1v1h7v-1h3v1h2v1h1v-1h2v-1h4v1h4v1h3v-1h3v-1h2v1h1v-1h2v1h2v-1h4v1h3v-1h2v1h16v-1h2v1h5v-1h3v2h2v-1h1v-1h4v1h9v-1h1v1h8v-1h2v1h3v-1h1v1h4v-1h3v1h2v1h2v-1h1v-1h2v1h1v-1h2v1h1v1h1v-1h2v-1h2v1h3v-2h3v1h1v1h5v1h2v-2h3v1h1v-1h1v1h1v1h1v-1h1v-1h3v1h2v-1h1v-1h3v1h1v1h2v1h1v-1h1v-1h2v1h1v-1h3v1h5v-1h2v1h3v-1h2v1h4v-1h2v1h3v-1h4v1h1v1h1v-1h1v-1h3v2h1v-2h2v1h1v1h1v-1h1v-1h2v1h3v-1h2v1h3v1h1v-1h2v1h1v-1h1v-1h1v-1h2v1h3v1h1v-1h2v1h2v1h1v-1h4v-1h3v1h1v1h1v-1h2v-1h3v1h5v-1h3v2h1v-1h2v-1h2v1h11v-1h2v1h3v-1h8v1h5v1h1v-2h3v1h1v1h2v-1h7v1h1v-1h1v-1h1v-1h2v1h1v1h4v-1h1v1h7v1h1v-1h2v1h1v-1h2v-1h1v1h1v1h1v-1h1v-1h3v1h5v-1h5v1h1v1h1v-2h3v2h5v-1h2v1h1v-1h1v-1h2v1h2v1h1v-1h1v-1h2v1h1v1h1v-1h6v-1h2v1h9v1h1v-1h1v-1h2v1h1v1h1v-1h1v-1h2v1h2v-1h2v1h5v-1h2v1h1v1h1v-1h1v-1h8v1h7v2h-1v-1h-1v1h-2v-1h-9v-1h-1v1h-1v1h-1v1h-1v-1h-1v-1h-8v1h-2v-1h-3v1h-3v-1h-2v1h-3v-1h-1v1h-4v-1h-5v1h-1v-1h-4v1h-3v-1h-2v1h-3v-1h-3v1h-10v-2h-1v2h-3v-1h-1v-1h-3v1h-4v1h-2v-1h-1v-1h-1v1h-1v1h-3v-1h-2v1h-6v-1h-3v1h-3v-1h-6v-1h-2v1h-1v1h-3v-1h-3v1h-4v1h-1v-1h-1v-1h-1v-1h-1v2h-3v-1h-2v1h-2v-1h-1v-1h-2v1h-3v-1h-1v1h-1v1h-2v-1h-5v1h-1v-1h-6v1h-2v-1h-3v1h-3v-2h-1v1h-10v1h-3v-1h-1v-1h-1v1h-1v1h-1v-1h-2v1h-3v-1h-3v1h-2v-2h-4v1h-1v1h-8v-1h-7v1h-3v-1h-1v1h-3v-2h-1v1h-1v1h-3v-1h-1v-1h-2v1h-18v1h-1v-1h-9v1h-3v-1h-2v-1h-1v-1h-1v1h-1v1h-1v1h-2v-1h-1v-1h-1v1h-1v1h-3v-1h-3v-1h-1v2h-1v1h-2v-1h-1v-1h-1v1h-2v-1h-2v-1h-1v-1h-1v2h-2v1h-2v-1h-3v1h-1v1h-1v-1h-1v-1h-5v1h-4v-1h-2v-1h-1v1h-7v1h-1v-1h-9v1h-2v-1h-4v1h-2v-1h-8v1h-4v-2h-1v1h-2v1h-1v-1h-5v1h-2v-1h-4v1h-2v-1h-1v1h-2v-1h-21v1h-4v1h-1v-1h-4v-1h-2v-1h-2v1h-2v1h-3v-1h-2v-1h-1v1h-1v1h-2v-1h-7v1h-2v-1h-8v1h-2v-1h-6v1h-2v-1h-10v1h-4v-1h-13v-1h-3v1h-3v-1h-1v1h-9v1h-3v-1h-1v1h-3v-1h-1v-1h-1v1h-4v1h-2v-1h-1v-1h-1v1h-1v2h-2v-1h-1v-1h-2v1h-2v-1h-1v-1h-1v1h-3v1h-2v-1h-26v1h-3v-1h-5v-1h-1v1h-2v1h-3v-1h-8v1h-3v-2h-1v1h-2v1h-3v-1h-2v1h-2v-1h-1v-1h-3v1h-2v1h-1v1h-1v-1h-2v-1h-5v-1h-1v1h-1v1h-2v-2h-1v1h-1v1h-3v-1h-1v1h-2v-1h-1v-1h-2v1h-3v-1h-1v1h-8v1h-5v-1h-2v1h-3v-1h-18v1h-2v-1h-1v-1h-1v1h-1v1h-4v-1h-13v-1h-1v2h-1v1h-2v-2h-3v1h-2v-1h-1v1h-2v-1h-1v1h-1v1h-1v-1h-2v-1h-4v1h-2v-1h-2v-1h-2v1h-4v-1h-1v2h-2v-1h-4v1h-2v-1h-3v1h-1v-1h-13v1h-3v-1h-8v1h-3v-2h-2v1h-4v-1h-1v2h-4v1h-2v-1h-1v-1h-3v1h-1v1h-2v-1h-4v-1h-1v-1h-1v1h-1v1h-4v-1h-4v1h-2v-2h-1v1h-1v1h-4v-1h-1v-1h-2v1h-5v1h-1v1h-2v-1h-1v-1h-4v1h-3v-1h-1v-1h-1v1h-3v1h-2v-1h-4v-1h-1v1h-1v1h-3v-1h-1v1h-2v1h-2v-1h-1v-1h-2v1h-2v-1h-3v1h-2v-1h-4v-1h-1v1h-1v1h-6v-1h-2v1h-1v-1h-3v1h-2v-1h-7v1h-2v-1h-3v-1h-1v1h-6v1h-2v-1h-2v-1h-1v1h-5v1h-1v1h-1v-1h-2v-1h-4v-1h-2v1h-7v1h-2v-1h-11v1h-2v-1h-20v1h-2v-1h-1v-1h-1v1h-1v1h-3v-1h-1v-1h-2v1h-5v-1h-3v1h-1v-1h-1v1h-4v-1h-2v1h-1v1h-1v1h-2v-1h-1v-1h-1v1h-3v-1h-4v1h-1v-1h-4v1h-1v-1h-17v1h-2v-1h-1v-1h-1v1h-2v1h-3v-1h-12v-1h-1v1h-3v1h-1v-1h-4v-1h-1v1h-3v1h-2v-1h-1v-1h-1v1h-7v1h-2v-1h-3v1h-2v-1h-1v1h-1v-1h-6v1h-2v-1h-1v-1h-1v1h-3v-1h-2v1h-10v-1h-3z" fill="#0000ff" shape-rendering="crispEdges"/>
<path d="M50 239h5v1h1v-1h3v1h1v-1h4v1h3v-1h2v-1h1v1h2v1h1v1h2v-1h1v-1h4v1h1v-1h2v1h4v-1h2v1h3v-1h3v1h2v-1h3v1h3v-1h3v1h2v-1h3v1h2v-1h3v2h3v-1h1v-1h1v-1h2v1h1v2h1v-1h1v-1h3v1h1v1h2v-1h1v-1h2v1h1v-1h6v1h2v-1h3v1h6v-1h1v1h1v1h1v-1h1v-1h6v1h1v1h1v-1h2v-1h4v1h3v-1h3v1h2v-1h3v1h4v-2h2v1h8v1h2v-1h2v2h1v-1h4v-1h2v1h2v-1h1v1h1v-1h2v1h3v-1h6v1h1v-1h3v2h1v-2h3v1h2v-1h1v-1h2v1h2v1h1v-1h1v1h4v-1h2v1h1v1h1v-1h2v-1h2v1h2v-1h2v1h3v1h1v-1h1v-1h2v1h1v1h1v-1h4v-1h6v1h7v-1h5v1h2v-1h2v1h1v-1h6v1h1v-1h4v1h2v-1h2v1h2v-1h2v1h1v-1h2v1h1v1h2v-1h1v-1h2v1h1v-1h1v-1h2v1h1v1h5v-1h4v1h3v-1h2v1h5v-1h1v-1h2v1h7v1h1v1h1v-1h1v-1h8v2h1v-1h1v-1h5v1h1v-1h9v1h1v-1h1v-1h2v1h1v1h7v1h1v-1h1v-1h4v1h2v-1h4v1h5v-1h1v1h4v-1h3v1h2v-1h3v1h3v-1h4v1h5v-1h1v1h1v-1h3v1h3v-1h2v1h2v-1h1v-1h2v1h1v1h2v-1h3v1h1v1h1v-1h1v-1h4v1h2v-1h1v-1h3v2h1v1h1v-1h3v-2h3v1h2v1h5v-1h5v1h4v-1h3v1h3v-1h3v1h2v-1h2v1h7v-1h3v2h1v-1h1v-1h3v-1h2v1h1v1h4v-1h2v1h6v-1h1v-1h2v2h2v-2h3v1h1v1h4v-1h8v1h1v-1h2v1h2v-1h1v-1h1v-1h1v1h1v3h2v-1h3v-2h2v1h1v1h2v-1h3v1h4v-1h3v1h3v-1h2v1h12v-1h3v1h1v-1h5v1h3v-1h3v1h4v-1h3v1h8v-1h1v-1h2v2h1v2h1v-3h1v-1h2v1h2v1h6v-1h3v1h1v1h1v-1h2v-1h5v1h3v-1h2v1h2v-1h1v-1h2v1h1v1h1v-1h3v1h3v-1h4v1h4v-1h1v1h5v-1h3v1h1v-1h3v1h1v-1h1v-1h2v1h1v1h1v-1h4v1h1v-1h4v1h7v-1h2v1h1v-1h7v1h3v-1h2v1h5v-1h2v1h5v1h2v-1h1v-1h2v1h1v-1h4v1h3v1h1v-1h1v-1h5v1h4v-1h1v-1h3v1h1v1h2v-1h3v1h5v-1h2v1h1v-1h5v1h7v-1h2v1h2v-1h2v1h3v-1h2v1h3v-1h3v1h2v-1h2v1h8v-1h1v1h2v1h1v-1h1v-1h2v1h3v-1h3v1h2v-1h5v1h2v-1h2v1h2v-1h1v1h5v-1h4v1h2v-1h7v1h1v-1h1v-1h2v1h1v1h1v1h1v-1h1v-1h4v1h2v-1h5v1h1v-1h5v1h2v-1h4v1h5v-1h4v1h3v-1h4v1h3v-1h5v1h3v-1h1v1h3v-1h5v1h5v-1h2v1h13v-1h7v1h3v-1h1v-1h2v1h1v1h1v-1h2v1h4v1h1v-1h1v-2h1v1h4v2h1v-1h1v-1h2v1h1v1h1v-1h1v-1h4v1h1v-1h3v1h2v-1h5v1h6v-1h4v1h4v1h1v-1h1v-1h3v1h5v1h1v-1h1v-1h10v1h2v-1h9v1h1v-1h7v1h1v-1h3v1h2v-1h2v-1h1v1h1v2h1v-1h1v-1h5v1h3v-1h3v1h2v-1h3v1h2v-1h7v1h3v-1h1v1h3v-1h3v1h14v1h1v1h-2v-1h-5v1h-2v-1h-1v1h-3v-1h-13v-1h-5v1h-1v1h-2v-1h-1v-1h-1v1h-4v-1h-1v1h-7v-1h-1v1h-1v1h-3v-2h-2v1h-4v-1h-1v1h-5v-1h-3v1h-4v-1h-1v1h-2v-1h-3v1h-1v1h-1v-1h-3v-1h-2v1h-1v-1h-2v1h-3v1h-3v-1h-2v1h-2v-1h-1v-1h-1v1h-1v1h-3v-1h-4v-1h-2v1h-1v1h-2v-1h-2v1h-1v-1h-3v-1h-2v1h-1v1h-2v-1h-1v-1h-1v1h-3v-1h-2v1h-1v1h-3v-1h-2v1h-3v-2h-3v1h-1v1h-1v2h-2v-1h-1v-2h-6v-1h-2v1h-8v-1h-1v1h-2v1h-2v-1h-2v1h-1v-1h-2v1h-1v-1h-3v1h-2v-1h-8v-1h-3v2h-3v-1h-4v1h-1v-1h-1v-1h-2v1h-18v1h-1v-1h-3v-1h-2v1h-4v-1h-1v1h-1v-1h-1v1h-3v-1h-1v1h-6v-1h-2v1h-1v1h-3v-1h-1v-1h-2v1h-1v1h-1v-1h-1v-1h-5v1h-4v-1h-2v1h-3v1h-2v-1h-2v1h-2v-1h-5v-1h-3v1h-4v-1h-1v1h-1v1h-2v-1h-3v1h-3v-1h-15v-1h-1v1h-2v1h-1v-1h-8v1h-2v-1h-7v1h-2v-1h-1v-1h-3v2h-2v-1h-8v-1h-1v1h-4v-1h-1v-1h-1v1h-1v1h-8v-1h-1v1h-1v1h-3v-1h-1v1h-1v-1h-1v-1h-2v1h-4v1h-4v-1h-15v1h-1v-1h-1v-1h-2v1h-20v-1h-2v1h-3v-1h-2v1h-3v-1h-1v1h-3v-1h-1v1h-12v-1h-2v1h-5v-1h-1v1h-1v1h-2v-2h-2v1h-1v1h-1v-1h-9v-1h-1v1h-2v1h-3v-1h-1v-1h-1v1h-9v-1h-2v3h-3v-2h-1v-1h-1v1h-1v1h-2v-1h-1v1h-2v-1h-4v-1h-1v1h-1v1h-3v-1h-2v-1h-1v1h-7v-1h-1v1h-3v-1h-1v1h-19v-1h-1v1h-2v1h-2v-1h-2v-1h-1v1h-1v1h-2v-1h-1v-1h-1v1h-3v1h-4v-3h-1v1h-1v2h-2v-1h-5v-1h-1v1h-3v-1h-2v1h-1v1h-2v-1h-3v-1h-1v-1h-1v2h-1v1h-2v-1h-1v-1h-1v1h-1v1h-2v-1h-1v1h-2v-1h-8v-1h-2v1h-1v-1h-1v1h-1v1h-3v-2h-1v1h-13v-1h-1v1h-5v-1h-1v1h-3v1h-2v-1h-1v-1h-3v1h-7v-1h-2v-1h-1v2h-3v1h-3v-1h-1v-2h-1v1h-1v1h-1v1h-2v-1h-1v-1h-2v1h-1v1h-3v-1h-1v-1h-1v1h-1v1h-2v-1h-1v-1h-2v2h-2v-1h-7v-1h-1v1h-5v1h-3v-1h-1v-1h-2v1h-5v-1h-1v1h-1v1h-2v-1h-1v-1h-1v1h-13v-1h-1v1h-1v1h-2v-1h-1v-1h-2v1h-1v1h-3v-1h-7v-1h-2v1h-3v-1h-1v1h-1v-1h-3v1h-6v-1h-2v1h-1v1h-3v-2h-6v1h-1v1h-3v-1h-7v-1h-2v1h-12v-1h-1v1h-8v-1h-2v1h-1v1h-1v-1h-2v1h-4v-1h-9v1h-2v-1h-1v-1h-2v1h-3v-1h-1v1h-7v1h-1v-1h-3v-1h-2v1h-5v1h-3v-1h-1v-1h-4v1h-3v1h-4v-1h-2v1h-3v-1h-4v1h-1v-1h-4v1h-3v-1h-10v-1h-2v1h-1v1h-2v-1h-1v-1h-1v2h-3v-2h-1v1h-4v-1h-3v1h-15v1h-3v-1h-4v-1h-3v1h-2v-1h-3v1h-1v1h-2v-1h-3v-1h-1v1h-2v1h-1v-1h-1v-1h-1v1h-1v1h-1v-1h-7v1h-3v-1h-1v-1h-3v1h-2v1h-3v-1h-5v1h-1v-1h-2v-1h-1v1h-1v1h-2v-1h-1v-1h-1v1h-7v1h-4v-1h-1v-1h-1v1h-1v1h-1v1h-1v-1h-1v-2h-2v2h-6v-2h-1v1h-4v-1h-1v1h-1v1h-2v-1h-1v-1h-1v1h-5v-1h-1v1h-4v-1h-1v1h-14v-1h-2v1h-1v1h-4v-1h-1v-1h-3v1h-5v-1h-2v1h-3v-1h-1v1h-3v-1h-2v1h-1v-1h-1z" fill="#006400" shape-rendering="crispEdges"/>
<path d="M50 256h2v-1h4v1h1v-1h2v1h2v-1h3v1h8v-1h2v1h3v-1h3v1h1v1h1v-1h3v1h4v-2h5v1h1v-1h2v1h1v1h1v-1h1v-1h2v1h2v-1h2v1h10v-1h3v1h6v-1h1v-1h1v1h4v1h8v-1h1v1h1v-1h2v1h1v-1h1v-1h2v2h1v-1h1v-1h2v1h1v1h2v-1h3v1h2v-1h2v1h2v-1h3v1h7v-1h2v1h3v-1h2v1h8v-1h2v1h15v1h1v-2h2v1h2v-1h2v1h5v1h3v-1h1v-1h3v2h1v-1h1v-1h4v1h2v-1h2v1h1v1h1v-1h2v-1h4v1h1v-1h2v1h3v1h2v-1h1v-1h3v1h8v-1h2v1h4v1h1v-1h6v-1h1v1h1v1h1v-1h1v-1h1v1h3v1h1v-1h5v1h1v-1h2v-1h2v1h3v1h2v-1h7v1h1v-1h3v1h3v-1h1v-1h1v1h3v1h1v-1h1v-1h5v1h4v1h2v-1h4v1h1v-1h2v-1h3v1h6v-1h4v1h5v-1h3v1h1v1h2v-1h2v-1h1v1h3v-1h1v1h1v1h2v-1h1v-1h4v1h9v-1h2v1h2v-1h2v1h2v-1h2v1h2v-1h2v1h5v1h1v-1h5v-1h4v1h6v-1h3v1h5v-1h3v1h1v1h1v-1h1v-1h4v1h7v-1h3v1h9v1h1v-1h1v-1h3v1h1v1h1v-1h1v-1h1v1h3v-1h3v1h2v1h2v-2h1v-1h2v1h1v1h1v1h1v-1h9v-1h1v1h4v1h1v-1h1v-1h5v1h1v-1h2v1h1v1h2v-1h1v-2h2v2h2v-1h3v1h5v1h1v-1h1v-1h3v1h2v1h1v-1h1v-1h3v1h5v-1h3v1h12v-1h2v1h1v-1h2v1h2v-1h1v1h1v-1h4v1h3v-1h1v-1h1v1h1v2h2v-1h1v-1h3v1h1v-1h1v-1h2v2h7v-1h2v1h5v-1h4v1h3v-1h3v1h12v-1h2v1h1v-1h2v1h6v-1h2v1h12v1h1v-1h1v-1h2v1h7v-1h2v1h22v-1h2v1h3v-1h2v1h3v-1h2v1h3v1h1v-1h2v-1h2v1h1v1h2v-1h1v-1h4v2h2v-3h2v1h1v1h1v1h1v-1h1v-1h2v1h3v-1h3v1h1v1h1v-1h1v-1h2v1h2v-1h2v1h3v-1h1v1h2v1h1v-1h8v-1h2v1h6v-1h1v-1h2v1h1v2h1v-1h3v-1h2v1h12v-1h2v1h1v1h1v-1h3v-1h2v1h5v-1h4v1h2v-1h5v1h2v-1h2v1h4v-1h4v1h1v-1h3v-1h2v1h1v2h1v-1h1v-1h3v2h2v-2h4v1h1v-1h3v1h1v1h1v-1h2v1h2v-1h3v-1h3v2h1v-1h1v-1h4v1h2v-1h2v1h4v-1h2v1h2v-1h2v1h2v1h1v-1h1v-1h5v1h6v1h1v-2h2v1h1v1h1v-1h1v-1h1v1h6v-1h2v1h1v-1h2v1h2v-1h3v1h22v-1h1v1h4v-1h3v1h2v-1h2v1h1v1h1v-1h2v-1h3v2h4v-1h12v-1h1v-1h1v1h1v1h4v-1h4v1h5v-1h2v1h1v-1h2v1h3v1h1v-1h1v-1h4v1h22v-1h2v1h5v1h1v-1h10v1h2v-1h1v-1h2v1h8v-1h2v1h1v1h2v-2h3v1h1v1h3v-1h6v1h2v-1h4v1h1v-1h6v-1h2v1h1v1h1v1h1v-1h1v-1h1v-1h2v1h2v-1h2v1h4v-1h3v1h7v-1h2v1h9v-1h2v1h4v-1h1v1h2v1h1v-1h5v1h-4v1h-3v-1h-3v1h-1v-1h-7v1h-2v-1h-12v1h-1v-1h-1v-1h-1v1h-1v1h-3v-1h-3v1h-2v-1h-2v1h-1v1h-3v-1h-1v-1h-7v1h-1v1h-1v-1h-1v-1h-2v1h-4v-1h-4v1h-3v1h-1v-1h-1v-1h-1v-1h-1v2h-4v-1h-4v1h-3v-1h-5v1h-4v-1h-8v1h-6v-1h-7v1h-2v-1h-7v1h-2v-1h-1v1h-2v-1h-3v1h-1v-1h-1v-1h-2v1h-1v1h-5v-1h-12v-1h-1v1h-6v-1h-1v1h-1v1h-2v-1h-1v1h-2v-1h-6v1h-6v-2h-1v1h-2v2h-2v-1h-1v-1h-5v-1h-1v1h-1v1h-2v-1h-10v1h-1v-1h-5v1h-2v-1h-8v-1h-1v1h-5v1h-1v-1h-4v1h-1v-1h-4v1h-3v-1h-1v1h-3v-1h-3v1h-2v-1h-1v-1h-3v1h-1v1h-3v-1h-7v1h-2v-1h-1v1h-1v-1h-2v1h-2v-1h-4v1h-3v-2h-1v1h-3v1h-7v-1h-1v-1h-1v1h-1v1h-1v-1h-1v-1h-2v2h-4v-2h-1v1h-1v1h-3v-2h-2v1h-5v-1h-2v1h-2v1h-2v-1h-8v-1h-1v1h-1v1h-2v-1h-4v1h-2v-1h-7v1h-3v-1h-11v1h-3v-1h-4v1h-1v1h-1v-1h-1v-2h-2v1h-2v1h-2v-1h-5v2h-2v-2h-2v1h-2v-1h-1v1h-4v-1h-2v1h-2v-1h-2v1h-2v-1h-2v1h-3v-1h-1v-1h-1v1h-1v1h-2v-1h-3v1h-3v-1h-2v1h-1v1h-2v-1h-1v-2h-2v1h-1v1h-4v-1h-3v1h-1v1h-1v-1h-1v-1h-15v1h-1v-1h-2v1h-1v-1h-4v1h-2v-1h-1v1h-1v-1h-6v1h-3v-1h-4v1h-1v-1h-2v1h-2v-1h-2v1h-3v-1h-6v1h-2v-1h-6v1h-5v-1h-12v1h-2v-1h-4v-1h-1v1h-1v1h-2v-1h-2v-1h-2v1h-16v-1h-1v1h-1v1h-2v-2h-1v1h-1v1h-1v1h-2v-1h-1v-2h-1v1h-5v-1h-2v1h-12v1h-1v-1h-5v1h-3v-1h-10v-1h-1v1h-1v1h-3v-1h-2v-1h-1v1h-1v1h-3v-1h-5v-1h-1v1h-5v1h-2v1h-2v-2h-4v-1h-1v1h-3v1h-3v-1h-1v1h-2v-1h-9v1h-3v-1h-1v-1h-2v2h-2v1h-1v-1h-1v-1h-2v-1h-1v1h-5v1h-3v-1h-1v-1h-1v1h-1v1h-3v-1h-2v1h-2v-1h-2v1h-2v-1h-1v-1h-1v1h-1v1h-2v-1h-6v-1h-2v1h-1v1h-3v-1h-1v-1h-1v1h-1v1h-3v-1h-12v-1h-2v1h-5v1h-3v-1h-1v1h-3v-1h-14v1h-2v-1h-3v1h-2v-1h-3v-1h-2v1h-1v1h-1v1h-2v-1h-1v-1h-6v1h-4v-1h-1v-1h-1v2h-2v-1h-2v1h-2v-1h-1v-1h-2v1h-2v1h-2v-1h-1v1h-2v-1h-1v-1h-1v1h-2v1h-3v-1h-2v1h-4v-1h-1v1h-2v-1h-3v-1h-1v1h-1v1h-3v-1h-3v1h-5v-1h-1v1h-3v-1h-5v1h-4v-1h-5v1h-3v-1h-3v1h-3v-1h-3v1h-3v-1h-2v1h-1v-1h-3v1h-4v-1h-5v1h-2v-1h-3v1h-2v-1h-1v-1h-1v1h-1v1h-2v1h-1v-1h-1v-1h-6v-1h-2v1h-2v1h-3v-1h-5v-1h-2v1h-1v1h-3v-2h-1v1h-1v1h-5v-1h-2v1h-2v-1h-2v1h-2v-1h-1v1h-3v-1h-4v1h-1v-1h-7v1h-2v-1h-2v1h-2v-1h-3v1h-3v-1h-8v1h-2v-1h-5v-1h-1v1h-1v1h-1v-1h-6v-1h-1v1h-2v1h-2v-2h-2v1h-3v-1h-1v2h-2v-1h-2v1h-1v-1h-1v1h-2v-1h-2v1h-2v-1h-5v-1h-2v1h-2v1h-2v-1h-4v-1h-1v1h-2v1h-1v-1h-10v1h-2v-1h-2v1h-3v-1h-4v-1h-3v2h-1v1h-2v-1h-3v-1h-1v1h-3v-1h-1v-1h-1v1h-2v1h-2v-1h-7v1h-1v-1h-9v1h-2v-2h-2v1h-3z" fill="#000000" shape-rendering="crispEdges"/>
<path d="M50 272h3v1h1v-1h1v-1h2v1h1v1h2v-1h3v1h1v-1h3v2h1v-1h1v-1h6v1h3v-1h2v1h2v1h1v-1h1v-1h7v1h4v-1h2v1h3v-3h2v3h4v-1h3v1h6v-1h3v1h3v-1h3v1h1v-1h3v1h4v-1h2v1h4v-1h3v1h1v-1h3v1h1v-1h4v1h1v1h1v-1h2v-1h4v1h2v-1h3v1h5v-2h3v2h2v-1h4v1h2v-1h1v-1h2v2h4v-1h5v2h1v-1h3v-1h2v1h3v-1h4v1h3v-1h6v1h2v-1h1v1h8v1h1v-1h2v-1h4v1h3v-1h4v1h2v-1h7v1h1v-1h4v1h4v-1h5v1h1v-1h1v-1h1v1h1v1h2v-1h2v1h4v-1h2v1h4v-1h2v1h2v-1h2v1h1v-1h5v1h1v1h1v-1h1v-1h3v1h3v-1h3v1h1v-1h1v-1h2v1h1v1h1v-1h1v-1h1v1h2v1h3v-1h3v-1h2v1h1v1h1v-1h1v-1h1v1h1v1h7v-1h2v1h2v-1h6v1h2v-1h2v1h6v-1h4v1h1v-1h5v1h3v-1h3v1h10v-1h3v1h2v1h1v-1h2v-1h3v1h5v-1h2v1h8v-1h2v1h3v-1h3v1h7v-1h4v1h6v-1h1v-1h1v1h2v1h6v-1h2v1h1v-1h2v1h2v-2h3v2h2v-1h5v1h6v-1h2v-1h2v1h1v1h1v1h1v-2h3v1h2v-1h4v1h2v-1h4v1h2v-1h2v1h2v-1h4v1h1v-1h2v1h3v-1h4v-1h2v1h1v1h2v-1h3v1h2v-1h2v1h1v-1h9v2h1v-1h4v-1h3v1h1v1h1v-2h1v-1h2v1h2v1h5v-1h3v1h4v-1h2v1h2v-1h3v1h4v-1h4v1h4v-1h1v-1h2v1h1v1h5v-1h2v1h2v1h2v-1h1v-1h3v1h1v1h1v-1h3v-1h2v1h2v-2h2v1h5v1h2v-1h1v-1h1v2h2v-2h2v2h2v-1h2v-1h1v1h9v1h3v-1h1v1h6v-1h6v1h1v-1h5v1h1v-1h2v1h5v-1h3v1h3v-1h4v1h3v-1h3v1h3v-1h5v1h4v-1h2v1h2v-1h2v2h1v-1h1v-2h2v1h1v2h1v-1h1v-1h6v1h2v1h2v-2h1v-1h2v2h1v-1h6v1h3v-1h2v1h3v-1h3v1h1v-1h3v1h5v-1h2v1h1v-1h3v1h4v-1h2v1h2v1h1v-1h1v-1h2v1h2v-1h3v1h2v-1h4v1h2v-1h4v1h1v-1h4v1h1v-1h2v1h2v-1h6v1h1v-1h3v1h2v-1h2v1h6v-1h8v1h2v-1h4v1h3v-2h2v2h2v-1h1v-1h2v1h1v2h1v-2h4v1h1v-1h7v1h2v1h1v-1h1v-1h3v1h2v-1h2v1h2v-1h3v1h1v-1h3v1h2v-1h3v1h2v-1h4v1h2v-1h3v1h4v-1h11v1h2v1h1v-1h3v-1h3v1h2v-1h4v1h1v-1h5v2h1v-1h1v-1h8v1h3v-1h3v1h1v-1h3v1h1v-1h3v1h2v-1h7v1h3v-1h7v2h1v-1h1v-1h4v1h2v-1h1v1h3v-1h2v-1h3v2h3v-1h1v1h1v-1h3v1h4v-1h4v-1h1v1h1v1h2v-1h2v1h2v-1h2v1h1v-1h2v1h2v-1h5v1h13v-1h1v1h4v-1h3v1h6v-1h3v1h6v-1h4v1h2v-1h2v1h2v-1h1v-1h1v1h1v1h2v-1h6v1h5v-1h4v2h1v-2h3v1h1v1h1v-1h1v-1h3v1h2v1h1v-1h2v-2h3v1h1v1h3v1h1v-1h1v-1h8v1h1v-1h2v1h1v-1h1v-1h1v1h1v1h1v-1h4v1h2v-1h7v1h-6v1h-4v-1h-1v1h-4v-1h-1v1h-7v-1h-1v1h-1v-1h-3v1h-1v1h-3v-1h-3v-1h-1v-1h-1v2h-2v1h-1v1h-2v-2h-2v-1h-1v1h-1v1h-3v-1h-1v-1h-1v2h-3v-2h-1v1h-8v-1h-1v1h-4v1h-2v-1h-1v-1h-1v1h-1v1h-2v-1h-5v-1h-2v1h-14v1h-2v-1h-1v-1h-1v1h-2v1h-1v-1h-4v1h-1v-1h-2v1h-2v-1h-5v1h-1v-1h-4v-1h-1v1h-1v1h-2v-1h-5v1h-2v-1h-5v-1h-1v1h-2v-1h-1v1h-6v-1h-1v1h-4v1h-2v-1h-1v-2h-1v1h-2v1h-9v-1h-1v1h-1v1h-3v-2h-1v1h-1v-1h-1v1h-10v-1h-1v1h-5v-1h-1v1h-3v-1h-1v1h-3v-1h-1v1h-5v-1h-6v1h-1v1h-3v-2h-3v1h-3v-1h-2v1h-8v1h-3v-1h-3v-1h-4v1h-7v1h-2v-1h-1v-1h-1v1h-4v-1h-2v1h-4v-1h-1v1h-1v1h-2v-1h-1v-1h-1v1h-6v1h-2v-1h-1v1h-2v-1h-1v-1h-1v1h-1v1h-3v-1h-3v-1h-4v1h-1v1h-2v-2h-2v2h-3v-2h-2v1h-1v1h-2v-1h-2v1h-3v-1h-1v-1h-2v2h-2v-1h-2v-1h-2v1h-2v-1h-2v1h-2v1h-2v-1h-8v-1h-1v1h-3v-1h-4v1h-7v-1h-1v1h-4v-1h-2v1h-4v-1h-2v1h-1v1h-2v-1h-1v-1h-1v1h-5v1h-3v-1h-15v1h-1v-1h-3v-1h-1v1h-3v-1h-1v1h-2v1h-2v-1h-7v-1h-3v1h-3v-1h-1v2h-2v1h-2v-2h-2v-1h-1v1h-2v-1h-1v1h-1v2h-2v-1h-1v-2h-1v1h-1v1h-1v1h-1v-1h-1v-1h-1v1h-2v-1h-2v1h-2v-1h-3v-1h-3v1h-1v1h-2v-1h-2v-1h-1v1h-3v1h-1v-1h-1v-1h-2v1h-5v-1h-1v1h-11v-1h-1v1h-4v-1h-4v1h-9v1h-2v-1h-3v-1h-4v1h-2v-1h-2v1h-5v1h-2v-1h-2v1h-2v-1h-1v-1h-2v1h-2v-1h-1v1h-1v1h-1v-1h-5v1h-3v-1h-1v-1h-1v1h-1v1h-4v-1h-4v1h-2v-1h-3v-1h-2v1h-1v1h-2v-1h-3v-1h-1v1h-5v1h-2v-2h-1v1h-10v-1h-1v1h-7v-1h-3v2h-1v1h-1v-1h-1v-1h-1v-1h-1v1h-4v1h-3v-2h-3v1h-14v1h-1v-1h-1v-1h-2v1h-2v-1h-1v1h-1v1h-1v-1h-6v-1h-2v1h-8v-1h-2v1h-4v-1h-2v1h-4v-1h-1v2h-3v-1h-1v-1h-2v1h-6v1h-2v-1h-2v-1h-2v1h-4v-2h-1v2h-1v1h-2v-1h-10v1h-1v-1h-1v-1h-2v1h-8v-1h-2v1h-1v1h-1v-1h-2v1h-2v-1h-3v-1h-1v1h-1v1h-2v-1h-4v1h-2v-1h-13v-1h-1v1h-2v1h-3v-1h-2v-1h-1v1h-12v-1h-1v1h-5v-1h-3v1h-4v-1h-1v1h-10v1h-1v-1h-1v-1h-4v1h-7v1h-1v-1h-5v-1h-1v1h-1v1h-1v-1h-1v-1h-3v1h-6v-1h-2v2h-2v-1h-1v-1h-2v1h-3v-1h-1v1h-5v-1h-1v1h-1v1h-3v-1h-1v-1h-1v1h-3v1h-1v-1h-6v1h-3v-1h-12v-1h-1v1h-3v-1h-1v1h-4v1h-3v-1h-1v-1h-2v1h-3v-1h-2v1h-4v1h-2v-1h-1v-1h-2v1h-1v1h-2v-1h-6v1h-3v-1h-5v1h-2v-1h-5v-1h-1v1h-10v1h-2v-1h-5v1h-3v-2h-1v1h-3v1h-1v-1h-1v1h-2v-1h-1v-1h-1v1h-4v-1h-2v1h-1v1h-2v-1h-1v-2h-1v2h-3v1h-3v-1h-1v-1h-1v1h-2v1h-1v-1h-1v-1h-1v1h-3v1h-3v-1h-1v-1h-2v1h-7v-1h-1v1h-7v1h-2v-1h-3v-1h-1v1h-3v-1h-1v1h-2v1h-1v-1h-2v-1h-1v1h-1v1h-1v-1h-6v-1h-1v1h-13v1h-2v-1h-2v-1h-2v1h-2v-1h-1v1h-1v1h-4v-1h-3v1h-2v-1h-1v-1h-4v1h-1v2h-2v-1h-1v-2h-1v1h-1v1h-2v-2h-1v1h-2v1h-1v-1h-1v-1h-2v1h-3v-1h-1v1h-1z" fill="#ff0000" shape-rendering="crispEdges"/>
<path d="M50 289h1v-1h3v1h1v1h2v-1h1v-1h2v1h2v1h4v-2h3v1h1v-1h2v1h1v-1h3v1h4v-1h2v1h8v-1h2v1h2v1h1v-1h1v-1h1v-1h1v1h1v1h1v-1h2v1h3v-1h1v1h3v-1h3v2h1v-1h4v-1h2v1h1v1h1v-1h2v-1h2v1h6v-1h1v1h11v-1h2v1h7v-1h2v1h5v-1h1v1h8v-1h1v1h2v-1h3v1h2v-1h1v1h2v1h1v-1h5v-1h2v1h5v-1h2v1h1v1h1v-1h1v-1h1v1h1v-1h3v1h5v-1h2v1h1v-1h1v-1h2v2h1v-1h2v1h1v-1h3v1h2v-1h2v1h3v1h1v-2h4v1h7v-1h2v1h12v-1h3v2h1v-1h1v-1h2v1h5v-1h1v1h4v-1h2v1h1v1h1v-1h13v-1h2v1h2v1h1v-1h1v-1h3v1h2v-1h5v1h4v-1h2v1h5v-1h2v1h10v-1h1v1h1v1h2v-2h3v1h3v-1h2v-1h2v2h6v-1h2v1h4v1h1v-2h3v1h2v-1h4v1h1v-1h3v1h1v1h1v-1h1v-1h2v1h3v1h1v-1h1v-1h5v1h3v-1h4v1h5v-1h2v1h3v-1h2v1h1v-1h2v1h2v-1h2v1h1v1h1v-1h1v-1h3v1h4v1h2v-1h2v-1h2v1h1v1h2v-1h2v1h1v-1h1v-1h2v1h10v1h1v-1h1v-1h3v1h2v-1h2v1h1v1h2v-1h5v-1h3v1h1v-1h3v1h3v1h1v-1h3v-1h2v1h27v-1h3v1h4v-1h2v1h4v1h1v-1h1v-1h3v1h9v-1h1v1h6v-1h3v1h5v-1h4v1h2v-1h4v1h9v-1h3v1h3v-2h3v1h1v1h1v1h1v-2h3v1h3v-1h4v1h2v1h1v-1h4v1h1v-1h3v-1h4v1h2v-1h4v-1h2v1h1v1h2v-1h3v2h1v-1h1v-1h3v1h5v1h1v-1h1v1h1v-1h2v-1h2v1h3v1h1v-1h1v-1h2v1h4v-1h4v1h6v1h1v-1h6v-1h2v1h4v1h1v-1h3v-1h1v1h4v-1h2v1h3v1h1v-1h1v-1h2v1h3v-1h2v1h2v-1h2v1h2v-1h4v1h2v-1h3v1h3v-1h3v1h1v1h1v-1h1v-1h1v-1h1v1h1v1h1v-1h3v1h2v1h1v-1h1v-1h4v1h2v-1h3v1h4v-1h2v1h11v1h1v-1h15v-1h4v1h5v1h1v-1h3v-1h2v1h2v-1h2v1h3v-1h2v1h2v1h1v-1h5v1h1v-1h1v-1h2v1h1v-1h4v1h3v1h3v-1h1v-1h3v1h6v-1h3v2h1v-1h1v-1h2v1h1v-1h3v2h2v-1h1v-1h2v2h1v-1h4v-2h3v2h5v1h1v-1h2v-1h2v1h4v1h1v-1h4v1h1v-1h1v-1h1v-1h2v1h1v1h5v-1h2v1h1v-1h2v1h1v1h1v-1h7v1h2v-1h5v1h1v-1h1v-1h2v1h3v1h2v-1h1v-1h3v1h4v-1h3v1h3v-1h2v1h1v-1h3v1h4v-1h1v-1h2v1h1v1h7v-1h3v1h4v-1h10v1h2v-1h2v1h2v-1h2v1h2v-1h2v1h2v-1h6v1h2v-1h3v1h1v1h1v-2h5v1h3v1h1v-1h1v-1h2v1h6v-1h2v1h4v1h1v-1h1v-1h2v1h23v-1h2v1h1v-1h2v1h2v-1h3v1h2v-1h1v1h1v1h1v-1h7v-1h1v1h1v1h2v-1h1v-1h3v1h1v1h1v-1h1v-1h2v1h1v1h1v-1h1v-1h3v1h2v-1h3v1h2v-1h4v1h1v1h1v-1h1v-1h3v1h1v1h1v-1h3v2h1v-1h2v-1h10v1h2v-1h3v-1h2v1h2v1h1v-1h1v-1h3v1h5v1h-3v1h-2v-1h-1v-1h-1v1h-1v1h-3v-1h-3v1h-6v-1h-1v1h-2v-1h-1v1h-2v-1h-2v1h-2v1h-3v-2h-1v1h-1v1h-2v-2h-1v-1h-1v1h-1v2h-2v-1h-1v-1h-2v-1h-1v1h-1v1h-2v-1h-1v-1h-1v1h-1v2h-1v-1h-1v-1h-1v-1h-1v1h-1v1h-3v-1h-2v1h-3v-1h-1v-1h-1v1h-1v1h-1v1h-2v-1h-1v-1h-5v1h-1v-1h-1v1h-3v-1h-4v-1h-1v1h-9v1h-5v-1h-13v1h-2v-1h-4v1h-3v-1h-13v1h-5v-1h-1v-1h-3v2h-3v-1h-1v-1h-1v1h-1v1h-2v-1h-1v-1h-1v1h-2v-1h-1v1h-9v1h-2v-1h-5v-1h-1v1h-2v-1h-1v1h-2v-1h-2v1h-2v1h-1v-1h-3v-1h-1v1h-1v1h-2v-1h-6v-1h-2v1h-6v-1h-1v1h-5v1h-2v-1h-8v-1h-1v1h-1v1h-4v-1h-4v1h-3v-1h-3v1h-4v-1h-4v1h-4v-1h-8v1h-2v-1h-1v-1h-2v1h-1v1h-3v-1h-2v1h-5v-1h-4v1h-3v-1h-2v1h-2v-1h-1v-2h-1v2h-1v1h-2v-1h-1v1h-3v-1h-1v1h-1v1h-1v-1h-2v-2h-1v1h-4v1h-3v-2h-1v1h-1v1h-2v-1h-5v-1h-1v1h-1v1h-5v-1h-1v1h-2v-2h-2v1h-4v1h-3v-1h-3v1h-3v-1h-3v1h-1v-1h-4v1h-2v-1h-4v1h-3v-1h-17v1h-3v-1h-2v1h-3v-1h-13v1h-2v-1h-2v-1h-1v1h-1v1h-2v-1h-1v-1h-2v1h-1v1h-3v-1h-2v-1h-1v2h-2v-1h-1v-1h-1v1h-1v1h-1v1h-1v-1h-1v-1h-1v-1h-1v1h-1v1h-2v-1h-2v-1h-1v1h-4v-1h-2v1h-1v1h-2v-1h-2v1h-2v-1h-7v1h-3v-1h-5v1h-3v-1h-3v1h-3v-1h-10v1h-3v-1h-9v1h-1v-1h-5v1h-3v-1h-5v1h-5v-1h-2v1h-2v-1h-1v-1h-1v1h-1v1h-3v-2h-1v1h-1v1h-2v-1h-1v-1h-3v1h-3v1h-2v-1h-1v-1h-2v1h-1v1h-1v-1h-1v1h-3v-1h-2v1h-3v-1h-2v-1h-2v1h-2v1h-2v-1h-1v-1h-1v2h-1v1h-1v-1h-1v-1h-1v-1h-1v-1h-1v2h-5v-1h-1v1h-1v1h-2v-1h-4v1h-2v-1h-2v-1h-2v1h-4v-1h-2v1h-7v-1h-1v1h-1v1h-2v-1h-6v1h-2v-1h-7v-1h-1v1h-1v1h-3v-1h-6v1h-2v-1h-2v-1h-1v1h-2v1h-1v-1h-7v1h-1v-1h-1v1h-3v-1h-11v1h-2v-1h-1v1h-2v-1h-1v1h-3v-1h-13v1h-1v1h-2v-1h-1v-1h-2v1h-2v-1h-3v1h-3v-1h-6v1h-2v-1h-3v1h-7v-1h-3v1h-4v-1h-1v1h-2v-1h-1v-1h-1v1h-1v1h-1v1h-1v-1h-1v-1h-10v1h-2v-1h-4v1h-5v-1h-1v1h-4v-1h-1v-1h-3v1h-1v1h-3v-1h-4v1h-3v-1h-1v-1h-1v1h-4v-1h-1v1h-1v1h-2v-1h-1v-1h-1v2h-3v-1h-5v1h-3v-1h-4v-1h-2v1h-5v-1h-1v2h-4v-1h-27v-1h-1v1h-1v1h-2v-1h-1v-1h-1v1h-1v1h-3v-1h-8v1h-1v-1h-6v1h-3v-1h-3v1h-2v-1h-5v1h-2v-1h-2v1h-3v-2h-1v1h-2v1h-2v-1h-2v1h-7v-1h-7v1h-1v-1h-2v-1h-2v2h-3v-1h-7v-1h-1v1h-4v1h-1v-1h-1v-1h-1v2h-2v-1h-2v1h-1v-1h-3v1h-2v-2h-1v1h-3v1h-3v-1h-2v1h-4v-1h-3v1h-2v-1h-2v1h-3v-1h-2v1h-2v-1h-1v-1h-1v1h-1v1h-2v-1h-3v1h-2v-1h-12v1h-2v-1h-2v1h-2v-1h-16v1h-2v-1h-6v1h-3v-1h-5v1h-3v-2h-1v1h-6v1h-2v-1h-4v-1h-1v1h-1v1h-1v1h-1v-1h-1v-1h-3v1h-2v-1h-3v1h-3v-1h-3v1h-2v-1h-9v-1h-1v2h-6v-1h-3v1h-4v-1h-1v-1h-1v1h-2z" fill="#0000ff" shape-rendering="crispEdges"/>
<path d="M50 306h6v-1h2v1h1v-1h5v1h7v-1h5v1h4v-1h3v1h1v1h1v-1h1v-1h3v1h2v-1h3v-1h2v2h2v-1h3v1h1v-1h3v1h1v1h1v-1h1v-1h3v1h2v-1h6v1h1v-1h2v1h4v-1h3v1h3v-1h2v1h6v-1h2v1h1v-1h3v-1h1v1h1v1h2v-1h4v1h3v-1h4v1h1v-2h3v1h4v1h2v-1h2v1h2v-1h5v1h4v-1h4v1h1v-1h4v1h2v-1h4v1h1v-1h5v1h9v-1h2v1h2v-1h3v1h4v-1h2v1h3v-1h13v1h1v-1h5v1h6v-1h3v1h1v-1h4v1h2v-1h5v1h8v-1h3v1h3v1h1v-2h4v1h6v-1h2v1h2v-1h2v1h2v1h1v-1h3v-1h3v1h2v-1h2v2h1v-1h3v-1h2v1h1v-1h5v1h2v-1h2v1h3v-1h4v1h2v-1h3v1h1v1h1v-2h2v-1h1v1h1v1h7v1h1v-1h6v-1h2v1h2v-1h3v1h3v-1h1v1h3v-1h2v1h3v-1h3v1h1v-1h2v1h1v-1h1v-1h1v1h1v1h5v-1h1v1h1v1h1v-1h1v-1h2v1h1v1h1v-1h2v-1h3v1h1v-1h2v1h2v-1h3v1h3v-1h1v-1h2v1h1v1h3v-1h3v1h1v-1h4v1h1v-1h2v1h3v-2h2v1h2v2h1v-2h5v1h1v-1h3v1h1v-1h3v1h1v-1h5v1h2v-1h3v1h1v-1h3v1h2v-1h7v1h4v-1h8v1h1v-1h5v1h2v-1h3v1h5v-1h7v-1h2v1h1v1h3v-2h2v1h1v1h1v1h1v-1h1v-1h3v1h1v-1h5v1h3v-1h4v1h3v-1h1v-1h3v2h1v1h1v-2h4v1h1v-1h1v1h1v-1h1v-1h2v1h1v1h2v-1h1v-1h2v1h1v1h2v-1h3v1h2v-1h2v-1h2v1h1v1h4v-1h3v1h1v-1h2v1h4v-1h4v1h1v-1h5v1h3v-1h3v1h1v1h1v-1h5v-1h6v1h7v-1h1v1h3v-1h1v1h3v-1h2v1h4v-1h1v1h1v-1h5v1h6v-1h3v1h6v-1h4v1h3v1h2v-1h1v-1h3v1h2v-1h5v1h3v-1h2v1h1v1h1v-1h1v-1h3v1h6v-1h3v1h2v-1h3v1h4v-1h2v1h3v-1h1v1h2v-1h2v1h2v-1h2v1h2v-1h3v1h5v-1h1v1h2v-1h6v1h5v-1h2v1h2v-1h2v1h4v-1h7v1h2v-1h2v1h3v-1h5v1h10v-1h1v-1h1v1h1v1h1v1h1v-2h2v1h3v-1h4v1h2v-1h2v1h3v-1h4v1h4v-1h2v1h1v-1h5v1h2v-2h3v1h1v1h2v-1h2v1h1v-1h1v-2h2v1h1v3h1v-1h1v-1h4v1h4v-1h5v1h1v-1h4v1h2v1h1v-1h1v-1h1v-1h1v1h1v1h1v1h1v-2h3v1h7v-1h3v1h2v-1h3v1h4v-1h2v1h4v-1h4v1h2v-1h3v1h5v-1h2v1h3v-1h6v1h5v-1h1v-1h1v1h1v1h7v-1h2v1h1v-1h2v1h2v-1h3v1h2v-1h4v1h2v-1h3v1h3v-1h3v1h1v-1h1v1h4v-1h2v1h2v-1h3v1h2v-1h4v-1h3v1h1v1h1v-2h2v1h1v1h1v-1h2v-1h2v1h1v2h1v-1h1v-1h3v1h2v-1h9v2h2v-1h1v-1h3v1h5v1h1v-1h1v-1h2v1h3v-1h4v1h1v-1h1v1h2v-1h4v1h7v-1h1v1h2v-1h7v1h2v-2h2v1h2v1h4v1h2v-1h4v-1h5v1h7v-1h1v1h3v-1h3v1h1v1h1v-1h1v-1h4v1h4v-1h3v1h1v-1h1v1h3v-1h3v1h1v-1h3v1h2v2h-1v-1h-2v-1h-1v1h-3v-1h-1v1h-7v-1h-1v1h-7v-1h-1v1h-1v1h-3v-1h-1v-1h-1v1h-13v-1h-1v1h-3v1h-7v-1h-4v-1h-2v1h-1v1h-2v-1h-1v-1h-2v1h-12v1h-2v-1h-9v-1h-2v1h-2v1h-1v-1h-3v1h-3v-1h-2v1h-1v-1h-2v-1h-1v1h-1v1h-4v-2h-2v1h-3v-1h-2v1h-4v-1h-1v1h-1v1h-3v-2h-3v1h-3v-1h-1v1h-1v2h-2v-3h-1v-1h-1v1h-1v1h-2v-1h-1v1h-4v-1h-1v1h-1v1h-2v-1h-9v-1h-1v1h-2v1h-1v-1h-4v1h-2v-1h-1v-1h-2v1h-4v-1h-1v1h-16v-1h-1v1h-7v-1h-1v1h-2v-1h-1v1h-12v-1h-1v1h-4v-1h-2v1h-12v-1h-1v1h-4v-1h-1v1h-9v-1h-1v2h-3v-1h-1v-1h-1v1h-1v1h-3v-1h-2v-1h-2v1h-3v-1h-1v1h-5v1h-2v-1h-1v-1h-2v1h-1v1h-3v-3h-1v1h-1v2h-2v-1h-2v1h-2v-1h-1v-1h-1v-1h-1v2h-4v-1h-2v1h-10v-1h-2v1h-1v1h-2v-1h-6v-1h-2v1h-1v1h-2v-1h-2v1h-3v-1h-1v-1h-1v1h-3v1h-1v-1h-8v-1h-1v1h-1v-1h-1v1h-9v-1h-2v1h-1v-1h-2v1h-4v1h-1v-1h-12v-1h-1v1h-2v-1h-1v1h-8v1h-1v-1h-1v-1h-1v1h-1v2h-2v-2h-9v1h-2v-1h-8v-1h-1v1h-4v-1h-1v1h-2v1h-2v-1h-4v-1h-1v1h-1v1h-3v-1h-1v1h-2v-1h-1v1h-1v-1h-1v-1h-3v1h-1v1h-1v1h-1v-2h-1v-1h-1v1h-1v1h-1v1h-2v-1h-1v-1h-3v-1h-2v1h-3v1h-1v-1h-4v-1h-1v1h-1v1h-2v-1h-2v1h-2v-1h-3v-1h-1v1h-18v1h-2v-1h-2v1h-1v-1h-2v-1h-1v1h-4v1h-2v-1h-2v1h-3v-1h-1v-1h-1v1h-2v1h-1v-1h-2v-1h-3v1h-3v-1h-2v1h-3v1h-1v-1h-5v-1h-1v1h-6v-1h-3v1h-4v-1h-1v1h-1v1h-3v-2h-2v1h-2v1h-1v-1h-1v-1h-2v1h-5v-1h-2v2h-3v-1h-1v-2h-1v1h-1v2h-2v-1h-3v-1h-2v1h-2v1h-1v-1h-3v-1h-2v1h-3v-1h-1v1h-1v1h-3v-1h-1v-1h-1v1h-5v-1h-3v1h-1v-1h-2v1h-3v1h-4v-1h-2v-1h-1v1h-4v-1h-3v1h-3v-1h-1v1h-2v-1h-3v1h-1v1h-1v-1h-4v-1h-5v1h-1v1h-2v-1h-1v-1h-1v1h-3v-1h-1v1h-1v1h-1v-1h-3v-1h-2v1h-3v-1h-1v1h-3v-1h-1v1h-3v-1h-3v2h-3v-2h-2v1h-2v1h-1v-1h-6v-1h-1v1h-3v-1h-1v1h-5v-1h-2v1h-1v1h-1v-1h-3v-1h-1v1h-1v1h-1v-1h-3v1h-1v-1h-1v-1h-1v1h-2v1h-1v1h-1v-1h-1v-1h-2v1h-3v-1h-4v1h-2v-1h-1v-1h-1v1h-6v-1h-1v1h-11v1h-2v-1h-1v-1h-1v1h-1v1h-2v-1h-7v1h-3v-1h-3v1h-2v-1h-2v-1h-2v2h-3v-1h-1v-1h-1v1h-1v1h-2v-1h-1v-1h-1v1h-3v1h-2v-1h-5v-1h-3v1h-1v1h-1v-1h-4v1h-3v-1h-1v1h-2v-1h-1v-1h-1v1h-3v1h-3v-1h-14v-1h-2v2h-3v-1h-3v-1h-1v1h-1v1h-2v-1h-7v-1h-3v1h-4v-1h-2v1h-1v1h-2v-2h-1v1h-8v-1h-1v1h-5v-1h-3v1h-2v-1h-3v1h-14v-1h-1v1h-15v-1h-3v1h-3v-1h-2v1h-4v-1h-2v1h-3v-1h-2v1h-6v-1h-3v1h-1v1h-1v-1h-8v-1h-2v-1h-1v2h-3v-1h-1v1h-2v1h-2v-1h-2v-1h-2v1h-4v-1h-3v1h-4v1h-2v-1h-10v-1h-1v1h-9v-1h-4v1h-4v-1h-1v1h-1v1h-3v-1h-1v-1h-1v2h-2v-1h-1v-1h-1v1h-4v-1h-3v1h-4v-1h-1v1h-1v1h-3v-1h-18v1h-1v-1h-1v-1h-3v1h-6v1h-2v-1h-2z" fill="#006400" shape-rendering="crispEdges"/>
<path d="M50 323h2v-2h5v1h2v2h1v-2h1v-1h1v-1h1v1h1v2h1v-1h3v1h1v-2h1v-1h1v1h1v2h2v-1h1v-1h1v1h7v-1h3v1h2v-1h2v1h3v1h1v-2h3v1h12v-1h1v1h3v-2h3v2h3v-1h4v1h4v-1h3v1h1v1h1v-1h1v-1h2v1h1v-1h5v1h1v-1h2v1h11v-1h4v1h17v1h1v-1h2v-1h3v1h1v-1h3v1h1v1h1v-1h1v-1h3v1h4v-1h1v1h1v1h1v-2h2v1h2v1h1v-1h3v1h1v-1h5v-1h2v1h1v-1h3v1h4v1h1v-1h12v1h1v-1h8v-1h3v1h3v1h1v-1h4v-1h1v1h5v-1h2v1h3v-1h2v1h2v-2h2v2h3v-1h1v1h2v1h1v-2h1v-1h2v2h4v-1h2v1h5v-1h1v-1h2v2h1v1h1v-1h2v-1h2v1h5v-1h4v1h5v-1h2v1h3v-1h2v1h2v-1h3v1h4v-1h4v-1h2v1h1v1h1v1h2v-2h4v1h3v-1h2v1h2v-1h2v1h1v-1h3v1h2v-1h2v1h3v-1h2v1h3v-1h1v-1h3v1h2v1h1v1h1v-2h1v-1h1v1h2v1h4v-1h2v1h5v-1h2v1h3v-1h3v2h1v-1h1v-1h2v1h2v1h1v-1h1v2h-3v-1h-3v2h-2v-1h-1v-2h-1v1h-2v1h-1v-1h-3v1h-2v-1h-5v1h-2v-1h-3v-1h-2v2h-3v-1h-1v-1h-1v1h-3v1h-2v-1h-9v1h-2v-1h-1v-1h-1v1h-8v1h-2v-1h-2v-1h-2v2h-1v1h-2v-1h-1v-1h-1v-1h-2v1h-2v-1h-1v1h-6v-1h-1v1h-1v1h-2v-1h-9v1h-2v-1h-2v-1h-1v1h-10v1h-3v-1h-1v-1h-1v1h-8v1h-3v-1h-2v-1h-1v2h-3v-1h-3v1h-2v-1h-2v1h-2v-1h-10v1h-1v-1h-2v1h-2v-1h-1v1h-3v-1h-3v-1h-1v1h-1v1h-1v-1h-6v1h-3v-1h-6v1h-1v-1h-3v1h-3v-1h-4v-1h-1v2h-2v-1h-2v1h-1v-1h-3v1h-3v-1h-1v1h-3v-1h-2v1h-3v-1h-6v-1h-1v1h-1v1h-3v-1h-1v-1h-1v1h-3v-1h-1v1h-2v1h-3v-1h-2v1h-2v-1h-10v1h-2v-1h-1v-1h-2v2h-2v-1h-8v1h-2v-1h-4v-1h-1v1h-6v1h-3v-1h-1v-1h-1v1h-6v-1h-2v1h-2v1h-2v-1h-1v-2h-1v2h-1v1h-2v-1h-11v1h-3v-1h-1v-1h-1v2h-6v-1h-1v1h-2v-1h-1v-1h-1v1h-9v1h-4v-2h-1v2h-3v-1h-1v1h-3v-2h-1v1h-1v2h-3v-2h-4v-1h-1v2h-1v1h-2zM770 323h2v-2h5v1h2v1h1v-1h1v-1h3v2h1v-1h3v1h1v-2h1v-1h1v1h1v2h2v-1h1v-1h1v1h7v-2h3v1h1v1h1v-1h2v2h4v-2h3v1h1v1h1v-1h14v-1h3v1h3v-1h2v1h7v-1h1v1h2v1h1v-1h1v-1h2v1h2v-1h4v1h1v-1h2v1h6v-1h1v1h3v1h1v-2h4v2h1v-1h16v1h1v-1h1v-1h4v1h1v-1h3v1h3v-1h3v1h8v-1h1v1h6v1h1v-1h1v-1h2v1h2v-1h2v1h1v-1h3v1h1v-1h2v1h14v1h1v-1h4v-1h3v1h1v-1h1v-1h1v1h1v1h3v1h1v-1h4v-1h1v1h10v-1h2v1h2v-1h2v1h6v1h1v-2h3v1h4v-1h2v1h5v-1h1v-1h2v2h1v1h1v-1h1v-1h3v2h1v-1h4v-1h4v1h1v1h2v-1h2v-1h2v1h3v-1h2v1h9v-1h2v1h2v-1h3v1h1v1h2v-1h1v-1h2v1h4v-1h2v1h3v-1h1v1h2v-1h2v1h2v-1h2v1h3v-1h2v1h2v1h2v-1h2v-1h3v1h1v1h1v-2h1v-1h2v1h3v1h2v-1h4v1h3v-1h2v1h3v-1h3v2h1v-1h1v-1h2v1h4v1h-1v1h-2v-1h-3v2h-2v-1h-1v-2h-1v1h-6v1h-2v-1h-3v-1h-1v1h-1v1h-2v-1h-3v-1h-2v2h-1v1h-1v-1h-1v-1h-1v-1h-1v1h-2v1h-6v-1h-3v1h-1v-1h-2v2h-2v-2h-11v1h-1v-1h-4v1h-4v-1h-1v-1h-1v1h-12v1h-2v-1h-8v1h-5v-2h-2v1h-4v1h-3v-2h-1v1h-1v1h-3v-1h-1v-1h-1v1h-8v1h-3v-1h-2v-1h-1v2h-3v-1h-3v1h-2v-1h-2v1h-2v-1h-13v1h-2v-1h-1v1h-3v-1h-3v-1h-1v1h-1v1h-2v-2h-1v1h-4v2h-2v-1h-1v-1h-11v1h-1v-1h-5v-1h-1v1h-1v1h-1v-1h-6v1h-3v-1h-15v-1h-1v1h-1v1h-2v-1h-2v-1h-1v1h-3v-1h-2v1h-1v1h-3v-1h-2v1h-2v-1h-5v1h-2v-1h-3v1h-3v-2h-2v2h-3v-1h-7v1h-2v-1h-4v-1h-1v1h-6v1h-3v-1h-12v1h-2v-1h-1v-1h-1v1h-1v1h-2v-1h-3v1h-2v-1h-6v1h-3v-1h-1v-1h-1v2h-6v-1h-1v1h-2v-2h-1v-1h-1v2h-9v1h-4v-2h-1v2h-3v-1h-1v1h-3v-2h-1v1h-1v1h-3v-1h-4v-1h-1v2h-1v1h-2z" fill="#000000" shape-rendering="crispEdges"/>
<path d="M50 339h4v-1h5v1h5v-1h5v1h1v-1h3v2h1v-1h2v-1h3v1h2v-1h3v1h3v-1h4v1h2v-1h3v1h3v-1h4v1h2v-1h3v1h1v-1h7v1h1v-1h4v-1h1v-1h1v-1h1v4h1v-2h1v-2h1v3h1v1h1v-1h1v1h3v-1h13v1h1v-1h11v1h3v-1h4v1h1v-1h4v1h1v-1h2v1h2v-1h3v1h3v-1h2v-1h1v1h1v1h1v-1h4v-1h3v1h1v1h2v-1h3v-1h2v1h1v-1h1v1h2v1h2v-1h1v-1h1v1h2v1h1v-1h1v-1h1v1h1v1h2v-1h1v1h1v-1h1v1h2v-1h4v1h2v-1h3v1h3v-1h2v1h15v-1h3v1h1v-1h1v1h11v1h1v-2h1v-1h1v1h1v1h2v-1h1v-1h2v1h1v2h1v-1h1v-1h5v1h2v-1h1v1h1v1h1v-1h2v-1h1v1h1v1h1v-1h5v-1h2v1h2v-1h2v1h1v1h1v-1h1v-1h2v1h1v1h1v-1h2v-1h2v1h6v-1h2v1h1v1h1v-2h4v1h2v-2h2v1h1v1h1v1h2v-1h7v-1h4v1h3v-1h3v1h5v-1h3v1h2v-1h2v-1h2v1h1v2h1v-1h1v-1h2v1h3v-1h1v1h3v-1h6v1h1v-1h1v1h1v-1h4v1h3v-1h2v1h3v-1h1v-1h2v1h5v1h2v-2h2v1h2v2h1v-1h1v-1h4v1h7v-1h2v1h1v-1h3v1h2v-1h1v1h3v-1h1v-1h2v1h2v1h1v-1h3v1h2v-1h7v1h1v-1h2v1h1v-1h5v1h5v-1h5v1h3v-1h1v-1h2v1h1v1h3v-2h2v1h4v1h4v-1h1v-1h2v1h6v1h10v-1h1v-1h1v1h1v1h13v-1h3v1h5v-1h2v1h6v-1h2v1h3v-1h2v1h4v-1h3v1h10v-1h2v-1h1v1h1v1h2v-1h1v1h2v1h3v-2h4v1h2v-1h3v2h1v-1h2v-1h3v2h1v-1h3v-1h3v1h1v1h1v-1h1v-1h4v-1h1v1h1v1h1v-1h8v1h3v-1h1v1h2v-1h3v1h1v-1h4v1h2v-1h4v-1h2v1h1v1h1v-1h4v1h2v-1h1v-1h3v2h1v-1h3v1h1v-1h3v1h5v-1h4v1h2v-1h2v1h1v-1h5v1h3v-1h2v1h1v-1h3v1h2v-1h1v-1h2v1h1v1h6v-1h2v-1h1v1h1v1h1v-1h4v1h1v-1h4v1h7v-1h2v1h3v-1h2v-1h1v1h1v1h3v1h2v-1h1v-1h2v1h2v-1h1v-1h1v1h5v1h2v-1h3v1h1v1h2v-1h4v1h1v-1h1v-1h2v1h1v-1h4v2h1v-2h4v1h1v-1h7v1h2v-1h2v1h2v-1h2v1h2v-1h1v-1h2v2h1v-1h4v1h3v-1h5v1h1v1h2v-1h1v-1h1v1h1v-1h2v1h5v-1h3v1h5v-1h3v1h2v-1h1v1h2v-1h3v1h3v-1h1v1h1v1h1v-1h2v-1h1v1h2v-1h4v1h2v-1h3v1h1v-1h2v1h1v-1h3v1h2v-1h7v1h2v-1h3v1h1v1h1v-1h1v-1h3v1h1v-1h2v1h1v-1h5v1h3v-1h1v-1h2v1h1v1h1v1h1v-1h1v-1h6v1h2v-1h2v1h5v-1h3v1h6v-1h3v1h2v-1h3v1h1v-1h5v1h1v-1h1v1h2v-1h4v1h1v-1h3v1h2v-1h8v1h2v-1h6v1h9v-1h3v1h2v-1h3v1h5v-1h1v1h1v-1h2v1h5v1h1v-1h1v-1h1v-1h2v2h1v1h1v-1h1v-1h5v1h3v-1h1v-1h1v1h1v1h4v-1h3v1h2v-1h2v1h1v-1h3v1h2v-1h16v1h9v-1h5v1h1v-1h1v-1h2v2h4v-1h3v1h1v-1h1v-1h2v2h3v-1h1v1h1v-1h3v1h3v-1h3v1h5v-1h2v1h3v-1h2v1h4v-2h3v1h1v1h1v-1h3v1h1v1h-6v-1h-1v-1h-1v2h-2v1h-1v-1h-15v-1h-1v1h-5v-1h-1v1h-7v-1h-1v1h-3v-1h-1v1h-6v-1h-1v1h-3v1h-2v-2h-1v1h-1v1h-2v-1h-5v1h-1v-1h-2v-1h-1v1h-2v-1h-1v1h-9v-1h-1v1h-1v1h-1v-1h-2v-1h-1v1h-7v-1h-1v1h-6v-1h-1v1h-5v-1h-3v1h-1v1h-3v-1h-1v-1h-1v1h-1v1h-3v-1h-12v1h-2v-2h-1v1h-6v1h-2v-1h-3v1h-2v-1h-3v-1h-1v1h-4v1h-1v-1h-2v-1h-6v1h-4v-1h-1v1h-3v-1h-2v1h-6v-1h-3v1h-3v-1h-1v1h-4v-1h-1v1h-8v-1h-1v1h-13v-1h-2v1h-1v1h-3v-1h-1v-1h-2v1h-7v-1h-1v1h-6v-1h-1v1h-1v1h-3v-1h-1v-1h-1v1h-1v1h-2v-1h-1v-1h-1v1h-3v-1h-1v1h-4v-1h-1v1h-6v-1h-1v1h-4v-1h-2v1h-5v1h-3v-1h-2v1h-2v-1h-1v-1h-1v1h-7v-1h-1v2h-2v-1h-1v1h-3v-1h-1v-1h-1v1h-2v1h-4v-1h-4v1h-4v-1h-1v-1h-2v1h-6v-1h-2v1h-3v-1h-1v1h-14v-1h-1v1h-1v-1h-1v1h-3v-1h-2v2h-3v-2h-2v1h-4v1h-3v-1h-2v1h-4v-1h-1v-1h-1v1h-1v1h-2v-1h-4v-1h-2v1h-1v1h-2v-1h-2v2h-2v-1h-2v-1h-3v-1h-2v1h-1v1h-2v-1h-8v1h-2v-1h-1v-1h-1v1h-4v-1h-2v1h-1v1h-1v-1h-1v-1h-2v1h-8v-1h-2v1h-1v1h-2v-1h-1v-1h-1v1h-4v1h-2v-1h-2v-1h-2v1h-5v1h-2v-1h-1v-1h-2v1h-3v1h-2v-1h-2v-1h-1v1h-1v1h-2v-2h-1v1h-3v-2h-1v1h-1v1h-1v1h-2v-1h-1v-1h-2v1h-3v-1h-4v1h-2v1h-2v-1h-1v-1h-2v1h-3v-1h-1v1h-6v1h-1v-1h-1v-1h-6v1h-3v-1h-4v1h-1v1h-3v-1h-1v-1h-1v1h-3v1h-3v-2h-1v1h-2v1h-3v-2h-1v1h-1v1h-1v-1h-2v-1h-2v2h-5v-1h-5v-1h-2v1h-3v1h-2v-1h-4v1h-1v-1h-2v-1h-1v1h-1v1h-2v-1h-5v1h-1v-1h-11v1h-2v-1h-2v1h-1v-1h-1v-1h-1v1h-12v1h-2v-1h-1v-1h-1v1h-1v1h-1v-1h-10v-1h-7v1h-3v1h-2v-1h-1v-1h-1v1h-2v-1h-1v1h-1v1h-2v-1h-2v-1h-2v1h-1v1h-2v-1h-2v-1h-3v1h-16v-1h-1v1h-2v-1h-1v1h-5v-1h-1v1h-3v-1h-3v1h-2v1h-2v-1h-4v-1h-1v1h-4v1h-1v-1h-4v1h-1v-1h-2v-1h-2v1h-1v1h-3v-2h-2v1h-1v1h-1v-1h-2v-1h-6v1h-6v1h-1v-1h-3v-1h-2v1h-7v-1h-2v1h-10v1h-3v-2h-3v1h-4v-1h-1v1h-2v1h-1v-1h-4v-1h-1v1h-2v1h-2v-1h-1v-1h-1v1h-8v1h-4v-1h-1v-1h-1v1h-1v1h-2v-1h-1v-1h-2v2h-3v-1h-3v1h-1v-1h-7v1h-3v-1h-2v1h-1v1h-1v-1h-1v-1h-2v1h-2v-1h-6v1h-3v-1h-2v1h-3v-1h-2v1h-1v-1h-1v-1h-3v1h-1v1h-3v-2h-2v1h-4v-1h-1v2h-3v-1h-3v1h-1v-1h-15v1h-2v-1h-12v1h-2v-1h-1v-1h-1v1h-1v1h-2v-1h-8v1h-3v-1h-3v1h-1v-1h-1v-1h-2v1h-1v1h-3v-2h-2v2h-1v-1h-1v-1h-3v1h-4v-1h-1v-1h-1v1h-4v1h-3v-1h-2v1h-5v-1h-1v1h-7v-1h-2v1h-3v-1h-2v1h-1v1h-2v-1h-2v-1h-1v1h-3v-1h-5v1h-3v-1h-1v1h-2v-1h-2v1h-2v-1h-2v1h-1v-1h-1v1h-2v1h-2v-1h-1v1h-1v1h-1v-1h-2v2h-2v-1h-1v-2h-2v-1h-2v1h-3v-1h-2v1h-1v-1h-2v1h-3v-1h-1v1h-4v-1h-2v1h-1v1h-2v-1h-2v-1h-1v1h-4v-1h-2v1h-1v1h-2v-1h-2v-1h-1v1h-7v1h-3v-2h-1v1h-5v-1h-1v1h-2v1h-2v-1h-4v-1h-2v1h-5z" fill="#ff0000" shape-rendering="crispEdges"/>
<path d="M50 355h2v-1h3v1h6v1h1v-1h4v1h1v-2h3v1h2v-1h2v1h6v-1h3v1h3v1h2v-2h1v-1h2v1h1v2h1v-1h2v-1h1v1h4v-1h3v1h1v-1h2v1h6v1h1v-2h3v1h9v-1h3v1h1v-1h2v1h2v-1h2v1h7v-1h2v1h2v-1h3v2h2v-1h3v-1h3v1h3v-1h2v2h1v-2h3v1h3v1h1v-1h1v-1h2v1h3v1h3v-1h1v-1h2v1h2v-1h2v1h1v1h1v-1h1v-1h4v1h6v-1h5v1h1v1h2v-1h1v-1h5v1h4v-1h2v1h2v-1h3v1h4v-1h3v1h7v-1h2v1h7v-1h3v1h10v-1h3v1h4v-1h2v1h6v-1h2v1h4v-1h3v1h2v-1h5v2h1v-1h2v-1h1v-1h1v1h1v2h1v-1h5v-1h5v1h6v1h1v-1h4v1h1v-1h1v-1h2v1h1v1h1v-1h2v-1h2v1h1v1h1v-1h1v-1h1v1h12v-1h1v1h1v1h1v-1h1v-1h3v1h8v-1h2v1h3v1h1v-1h2v-1h1v1h1v-2h1v2h1v-2h2v1h2v1h1v1h1v-1h5v1h2v-1h1v-1h3v1h1v1h2v-1h1v-1h2v1h1v-1h2v1h5v-1h2v1h1v1h2v-1h5v-1h1v1h3v1h1v-1h1v-1h3v1h2v-1h3v1h1v-1h3v1h1v1h1v-1h1v-1h2v1h7v-1h3v1h2v-1h2v1h2v-1h3v1h1v1h2v-1h1v-2h3v1h1v1h1v-2h2v1h1v2h1v-1h2v-1h5v2h1v-1h1v-1h2v1h6v-1h4v1h4v-1h7v1h1v1h1v-2h1v-1h2v1h1v1h7v-1h2v1h11v1h1v-1h1v-1h3v2h1v-1h1v-1h2v1h6v-1h2v1h1v1h2v-1h1v-1h2v1h1v1h1v-1h1v-1h2v1h8v-1h2v1h3v1h2v-1h1v-1h2v1h9v-1h3v1h6v1h1v-1h1v-1h6v2h1v-2h2v1h1v1h2v-2h4v1h1v-1h3v1h2v1h3v-1h5v-1h3v1h6v1h2v-1h1v-1h2v1h1v1h1v-1h5v-1h2v1h2v1h1v-1h7v-1h2v1h6v-1h3v1h1v1h1v-1h1v-1h3v1h4v-1h1v1h5v-1h1v1h9v-1h4v1h8v-1h3v1h6v-1h2v1h4v-1h2v1h1v1h1v-1h1v-1h1v1h1v1h2v-1h4v-1h3v1h6v1h1v-2h2v1h2v1h3v-1h2v-1h2v1h1v1h1v-2h1v-1h1v1h1v1h2v-1h4v1h3v-1h6v1h11v-1h2v1h3v1h1v-1h2v-1h2v1h7v1h1v-1h1v-1h3v1h6v-1h2v1h4v-1h2v1h1v-1h3v1h2v1h2v-1h5v-1h1v1h4v1h1v-2h1v-1h2v2h3v1h2v-2h2v1h8v1h2v-1h11v-1h2v1h4v-1h3v1h1v-1h3v1h4v-1h6v1h3v-1h2v1h1v-1h2v1h2v-1h2v1h2v-1h4v1h2v-1h3v1h2v-1h3v1h3v1h1v-1h6v-1h5v1h1v-1h3v1h7v-1h1v1h2v-1h3v1h1v1h1v-1h4v-1h1v1h6v-1h3v1h1v-1h2v1h8v-1h4v1h3v1h2v-1h1v-1h5v1h1v1h1v-2h2v1h7v-1h3v1h2v-1h4v1h3v-1h4v1h2v-1h1v1h3v1h1v-1h1v-1h5v1h2v1h1v-2h3v1h1v1h1v-1h1v-1h2v1h2v-1h1v1h2v1h1v-1h7v-1h3v1h2v-1h1v1h3v1h1v-1h2v-1h1v1h3v1h2v-1h1v-1h2v1h5v1h2v-2h4v1h10v-1h2v1h11v-1h2v1h4v1h1v-1h4v1h2v-1h1v-1h3v1h-2v1h-1v1h-1v1h-1v-1h-2v-1h-2v1h-3v-1h-30v-1h-1v2h-4v-1h-3v1h-2v-1h-1v1h-4v-1h-4v1h-3v-1h-6v-1h-1v1h-7v1h-3v-1h-3v1h-1v-1h-2v1h-3v-1h-1v-1h-1v2h-3v-1h-2v-1h-3v1h-1v1h-5v-1h-8v1h-1v-1h-5v1h-2v-1h-1v-1h-1v1h-2v1h-2v-1h-1v1h-2v-1h-2v1h-3v-1h-1v-1h-1v1h-1v-1h-1v1h-1v1h-4v-1h-7v1h-1v-1h-10v-1h-1v1h-1v1h-1v-1h-3v1h-2v-1h-4v1h-3v-1h-1v-1h-1v1h-5v1h-1v-1h-6v-1h-1v1h-5v-1h-1v1h-6v1h-5v-1h-1v-1h-1v1h-1v1h-2v-1h-1v-1h-1v2h-2v-1h-10v1h-1v-1h-7v1h-2v-2h-2v1h-5v1h-1v-1h-2v-1h-1v1h-3v-1h-1v1h-17v1h-5v-1h-1v1h-2v-1h-4v1h-2v1h-2v-2h-3v-1h-1v2h-3v-1h-4v1h-8v-1h-2v-1h-1v1h-10v1h-2v-1h-5v-1h-1v1h-1v1h-3v-1h-1v1h-3v-1h-5v1h-5v-1h-7v1h-2v-1h-1v1h-3v-1h-1v-1h-1v1h-2v-1h-1v1h-9v1h-1v-1h-1v-1h-1v2h-3v-1h-3v1h-1v1h-1v-1h-4v-1h-1v1h-3v-1h-2v1h-2v-1h-2v-1h-1v1h-4v1h-4v-1h-1v1h-3v-1h-10v1h-3v-1h-2v-1h-1v1h-7v1h-2v-1h-1v-1h-2v1h-14v1h-2v-1h-6v-1h-1v1h-1v1h-3v-1h-1v-1h-1v1h-5v1h-2v-1h-8v1h-3v-1h-3v1h-2v-1h-2v1h-3v-1h-2v1h-2v1h-1v-1h-1v-1h-3v1h-2v-1h-1v-1h-1v1h-1v1h-2v-1h-2v1h-5v-1h-4v1h-1v-1h-1v-1h-2v2h-4v-1h-1v1h-3v-2h-4v1h-1v2h-2v-1h-1v-1h-6v-1h-1v1h-1v1h-2v-1h-9v1h-5v-1h-3v1h-2v-1h-8v1h-3v-1h-2v1h-1v1h-2v-1h-1v-1h-3v1h-1v-1h-2v1h-2v-1h-2v1h-3v-2h-1v1h-1v1h-3v-1h-2v1h-2v-1h-14v1h-1v-1h-1v-1h-2v2h-3v-1h-1v-1h-1v1h-2v-1h-2v1h-3v1h-2v-1h-6v1h-1v-1h-1v1h-2v-1h-2v1h-3v-2h-1v1h-1v-1h-1v1h-2v1h-3v-2h-1v1h-3v-1h-1v-1h-1v2h-1v1h-4v-1h-1v-1h-1v1h-1v1h-1v-1h-6v-1h-1v1h-7v1h-1v-1h-2v1h-3v-1h-1v-1h-1v1h-3v-1h-1v1h-1v1h-2v-1h-1v-1h-1v1h-1v1h-3v-1h-7v1h-4v-1h-8v1h-2v-1h-2v1h-4v-1h-1v-1h-1v1h-1v1h-4v-1h-3v1h-3v-1h-1v1h-1v2h-1v-2h-1v1h-1v-1h-1v-1h-3v1h-3v-1h-6v1h-2v-1h-1v1h-2v-1h-2v-1h-1v1h-1v1h-3v-1h-2v1h-2v-1h-6v1h-1v-1h-3v1h-1v1h-2v-2h-3v1h-3v-1h-2v1h-3v-1h-2v1h-3v-1h-1v1h-2v-1h-3v-1h-3v1h-5v1h-3v-2h-1v1h-2v1h-3v-2h-3v1h-4v-1h-1v1h-20v-1h-1v1h-4v1h-2v-1h-4v1h-1v-1h-1v-1h-1v1h-6v1h-2v-1h-10v-1h-1v1h-2v1h-3v-1h-1v-1h-1v1h-1v1h-2v-1h-9v-1h-1v1h-1v1h-1v1h-1v-1h-2v-1h-3v-1h-1v1h-9v-1h-1v1h-1v1h-3v-1h-6v1h-2v1h-2v-1h-1v-1h-4v1h-3v-1h-3v-1h-1v2h-3v-1h-5v-1h-1v1h-3v1h-4v-2h-1v1h-1v1h-2v-1h-3v1h-2v-1h-6v1h-2v-1h-4v-1h-1v1h-9v1h-1v-1h-1v-1h-1v2h-3v-1h-2v1h-2v-1h-5v-1h-1v1h-2v1h-2v-1h-3v1h-3v-2h-2v2h-2v1h-1v-1h-3v-1h-1v-1h-1v1h-1v1h-4v-1h-7v-1h-1v2h-3v-1h-2v1h-3v-1h-3v1h-2v-1h-1v-1h-1v1h-3z" fill="#0000ff" shape-rendering="crispEdges"/>
<path d="M50 371h4v1h3v-1h2v1h1v-1h5v1h2v-1h3v2h1v-1h2v-1h2v1h3v1h1v-1h1v-1h1v-1h2v2h1v1h1v-1h1v-1h2v-1h4v1h1v1h3v-1h2v1h1v-1h4v1h3v-1h3v1h2v-1h3v1h4v-1h1v1h3v-1h1v-1h2v1h1v1h4v-1h1v1h4v-1h3v1h3v-1h2v1h1v-1h3v1h1v-1h3v1h1v-1h3v1h2v-1h3v1h7v-1h1v-1h1v1h1v-2h1v2h1v1h4v-1h2v1h3v-1h3v1h1v-1h3v1h2v-1h2v1h2v-1h3v1h2v-1h9v1h1v-1h2v1h4v-1h2v1h2v-1h3v1h2v-1h4v1h1v-1h2v1h1v-1h1v1h1v1h1v-1h1v-1h3v1h4v-1h2v1h2v-1h1v-2h2v3h2v-1h1v1h2v-1h3v1h3v-1h1v-1h3v1h1v1h1v1h2v-1h2v1h1v-2h2v-1h1v1h2v1h3v-1h2v1h2v-1h2v1h2v-1h2v1h2v-1h3v1h1v-1h3v1h1v-1h6v1h1v-1h2v1h2v-1h1v-1h2v1h1v1h1v-1h3v1h1v1h1v-1h1v-1h2v1h1v-1h3v1h3v-1h3v1h2v-1h2v1h3v-1h2v1h2v-1h6v1h8v-1h8v1h2v-1h4v1h4v-1h1v-1h2v1h1v1h1v-1h2v1h3v-1h3v2h2v-1h1v-1h3v1h2v-1h3v1h3v-1h2v1h2v1h1v-2h1v-1h3v1h1v1h2v1h1v-1h1v-1h4v2h2v-2h4v1h8v-1h2v1h4v1h1v-1h1v-1h1v1h2v1h1v-1h1v-1h4v1h4v-1h3v1h1v-1h3v1h1v-1h4v1h2v-1h1v1h2v-1h2v1h3v-1h5v1h1v-1h1v-1h2v1h4v1h3v-1h3v1h1v-1h2v1h1v1h1v-3h2v1h3v1h1v-1h1v1h3v-1h4v1h1v-1h2v1h2v-1h1v-1h1v1h1v1h3v-1h3v1h3v1h1v-1h2v-2h2v1h2v1h2v-1h2v2h1v-2h9v-1h3v1h1v1h2v-1h3v1h2v-1h3v1h1v-1h2v1h1v-1h4v1h2v-1h4v1h3v-1h3v1h6v-1h3v1h6v-1h3v1h3v-1h3v1h2v-1h2v1h3v-1h1v1h1v-1h3v1h1v-1h4v1h3v-1h1v-1h1v1h1v1h1v1h1v-1h1v-1h3v1h4v-1h3v1h3v-1h2v1h4v-1h1v1h5v-1h2v1h2v-1h4v1h2v-1h2v2h1v-1h1v-2h3v3h1v-3h3v1h1v1h2v-1h4v1h7v-1h5v1h2v-1h3v1h3v-1h4v1h2v-1h3v-1h4v2h4v-1h2v1h1v-1h3v1h1v-1h2v-1h2v1h1v1h2v-1h8v1h1v-1h5v1h5v-1h3v1h4v-1h4v1h1v-1h6v1h1v-1h4v1h1v-1h6v1h2v-1h3v1h4v-1h2v1h1v-1h3v1h2v-1h6v1h2v-2h3v1h1v1h2v-2h2v1h2v1h5v-1h3v1h2v-1h4v1h1v-1h2v1h12v-1h3v1h1v-1h2v1h6v1h1v-1h2v-1h1v-1h1v1h3v1h2v-1h3v1h4v-1h3v1h4v-1h2v1h3v-1h1v1h2v-1h2v1h3v-1h3v1h2v-1h2v1h2v-1h3v1h5v-1h2v1h4v-1h3v1h3v-1h3v1h2v-1h3v1h15v-1h6v1h1v-1h2v1h8v-1h4v1h3v-1h10v1h1v-1h3v1h2v-1h1v1h3v-1h10v1h2v-1h8v1h2v-1h4v1h1v-1h3v1h9v-1h6v1h1v1h1v-1h1v-1h4v1h1v-1h3v1h5v-1h2v1h2v-1h4v1h3v-1h3v1h2v-1h1v1h2v-1h4v1h2v-1h4v1h5v-1h1v-1h1v1h2v2h1v-1h1v-1h4v-1h1v1h5v1h14v-1h3v1h1v1h1v1h-2v-1h-1v-1h-1v1h-3v1h-1v-1h-4v1h-1v-1h-8v-1h-1v1h-1v-1h-3v1h-3v2h-2v-1h-1v-2h-2v1h-1v1h-2v-1h-1v1h-2v-1h-1v-1h-2v1h-5v-1h-1v1h-1v1h-2v-1h-4v-1h-1v1h-5v-1h-2v1h-12v1h-2v-1h-1v-1h-2v1h-1v1h-1v1h-2v-2h-1v-1h-3v1h-10v1h-1v-1h-1v-1h-1v1h-3v-1h-2v1h-4v-1h-2v1h-2v-1h-2v2h-3v-1h-1v-1h-3v1h-2v-1h-3v1h-2v1h-2v-1h-4v-1h-1v1h-3v-1h-1v1h-2v-1h-3v1h-20v1h-2v-2h-1v1h-2v-1h-1v1h-3v1h-1v-1h-13v-1h-1v1h-4v-1h-1v1h-15v1h-2v-1h-2v-1h-1v1h-1v1h-2v-1h-2v1h-2v-1h-1v-1h-1v1h-2v1h-2v-1h-19v1h-2v-1h-1v-1h-1v1h-6v-1h-1v1h-2v1h-3v-1h-4v1h-1v-1h-4v-1h-1v1h-18v-1h-1v1h-4v-1h-1v2h-2v-1h-5v-1h-2v1h-1v1h-2v-1h-1v-1h-1v-1h-1v2h-4v-1h-1v1h-2v-1h-1v1h-4v-1h-1v1h-1v1h-1v-1h-9v1h-2v-1h-1v-1h-2v1h-3v1h-1v-1h-1v-1h-2v1h-3v-1h-2v1h-1v-1h-1v1h-11v-1h-1v1h-9v-1h-1v1h-3v-1h-2v1h-3v-1h-1v1h-2v1h-2v-2h-2v1h-1v1h-2v-1h-1v-1h-1v1h-5v1h-1v-1h-3v-1h-3v1h-6v-1h-2v1h-5v-1h-1v1h-4v-1h-3v1h-6v1h-1v-1h-2v-1h-2v1h-1v1h-2v-1h-1v-1h-1v-1h-1v3h-3v-3h-1v2h-1v1h-3v-1h-4v-1h-2v1h-2v1h-1v-1h-3v1h-1v-1h-14v-1h-1v1h-6v-1h-1v1h-1v1h-3v-1h-1v-1h-1v1h-1v1h-1v-1h-3v-1h-1v1h-12v1h-2v-1h-2v-1h-1v1h-5v-1h-1v1h-8v-1h-1v1h-1v1h-2v-1h-5v-1h-1v1h-11v-1h-2v1h-6v-1h-1v1h-2v1h-1v-1h-1v-1h-1v1h-4v-1h-7v1h-3v-1h-1v2h-3v-1h-2v1h-1v-1h-1v-1h-2v1h-1v1h-4v-1h-3v-1h-1v1h-5v-1h-1v1h-18v-1h-1v2h-1v1h-2v-2h-4v-1h-1v1h-1v1h-1v-1h-3v-1h-1v1h-2v-1h-2v1h-4v-1h-2v1h-12v-1h-1v1h-8v-1h-1v1h-6v-1h-2v1h-1v1h-3v-1h-2v1h-3v-1h-6v1h-2v-1h-6v-1h-1v1h-1v1h-4v-2h-2v1h-1v1h-3v-1h-2v-1h-1v-1h-1v1h-1v2h-3v-1h-3v1h-2v-1h-2v-1h-1v1h-1v1h-2v-1h-3v1h-1v1h-2v-1h-1v-2h-1v1h-8v-1h-2v1h-6v-1h-2v1h-4v-1h-1v1h-2v-1h-3v1h-1v1h-1v-1h-1v1h-1v-1h-6v-1h-4v1h-13v-1h-1v1h-5v-1h-1v1h-4v1h-3v-1h-1v-1h-1v1h-1v1h-1v-1h-1v-1h-2v1h-1v1h-2v-1h-4v-1h-4v1h-3v-1h-1v1h-18v1h-2v-1h-1v-1h-3v2h-4v1h-1v-1h-2v-1h-1v-1h-1v-1h-1v1h-1v1h-1v1h-3v-1h-1v-1h-1v1h-5v1h-1v-1h-1v-1h-1v1h-1v1h-1v-1h-8v-1h-1v1h-1v1h-3v-1h-12v-1h-1v1h-1v1h-2v-1h-10v-1h-1v1h-2v-1h-1v1h-7v-1h-1v1h-12v-1h-1v1h-10v1h-1v-2h-1v2h-1v-1h-1v3h-1v-1h-1v-2h-2v1h-2v-1h-3v-1h-1v1h-4v-1h-1v1h-3v-1h-1v1h-3v-1h-1v1h-8v-1h-1v2h-2v-1h-4v1h-1v-1h-4v-1h-2v1h-1v1h-1v-1h-8v-1h-1v1h-1v1h-2v-1h-1v-1h-1v1h-5v-1h-1v1h-6v1h-2v-1h-1v-1h-1v-1h-2v1h-2v1h-1v1h-3v-1h-1v-1h-1v1h-1v1h-3v-1h-5v1h-3v-2h-1v1h-12v1h-1v-1h-2v-1h-1v1h-2z" fill="#006400" shape-rendering="crispEdges"/>
<path d="M50 387h2v2h1v-1h1v-1h2v1h1v-1h3v1h1v-1h3v2h1v-1h3v-1h3v1h4v-1h2v1h3v1h1v-1h1v-1h3v1h2v-1h5v1h1v1h1v-1h2v-1h2v1h2v-1h2v1h7v-1h2v1h3v-1h4v1h5v-1h2v1h3v-1h2v1h2v-1h2v1h16v-1h1v1h1v-1h1v-1h2v1h1v1h2v1h1v-2h3v1h1v1h1v-1h1v-1h1v1h2v-1h2v1h2v-1h3v1h4v-1h2v-1h2v1h1v2h1v-1h6v-1h1v1h1v1h1v-1h5v1h2v-1h2v-1h1v1h8v1h1v-1h8v-1h2v1h2v-1h2v1h5v1h1v-1h1v-1h2v1h7v-1h1v1h2v-1h3v1h2v-1h3v1h4v-1h3v1h5v-2h2v1h1v1h1v1h1v-2h2v1h2v-1h2v1h4v1h1v-1h3v-1h2v1h1v1h1v-1h2v-1h6v2h1v-1h1v-1h2v1h1v-1h2v1h1v1h1v-1h1v-1h2v1h3v-1h3v1h1v1h2v-1h2v-1h2v1h3v-1h2v1h5v-1h1v1h1v1h1v-1h8v-1h2v1h5v-1h2v1h3v-1h3v1h1v1h1v-1h12v1h1v-1h1v-1h3v1h2v-1h3v1h4v-1h5v1h2v-1h2v1h1v1h1v-1h1v-1h3v1h1v1h2v-1h2v-1h1v1h1v1h1v-1h1v1h2v-1h2v-1h4v1h3v1h2v-1h1v-1h2v1h4v-1h3v1h3v-1h3v1h2v1h1v-1h5v-1h3v1h4v-1h2v1h3v-2h1v1h2v1h5v-1h3v1h1v1h1v-1h2v1h1v-2h3v1h6v-1h5v1h1v-1h3v1h6v-1h4v1h14v-1h3v1h2v-1h3v1h1v1h2v-1h1v-1h3v2h1v-1h11v-1h2v1h13v-1h3v1h1v-1h2v1h3v-1h3v1h1v-1h3v2h2v-2h1v-1h2v1h1v2h1v-2h3v1h3v-1h5v-1h3v1h1v2h1v1h1v-2h1v-1h2v2h1v-1h1v-1h3v1h1v1h1v-1h1v-1h2v1h6v-1h3v1h5v-1h3v1h20v-1h2v1h4v-1h2v1h12v-1h2v1h2v-1h1v1h8v-1h3v1h3v-1h2v1h3v1h1v-1h5v-1h3v1h1v1h1v-1h1v-1h1v1h9v-1h2v1h1v-1h3v1h1v1h1v-1h4v-1h3v1h1v1h2v-1h1v-1h1v1h7v-1h2v1h7v-1h3v1h9v-1h9v1h2v1h1v-1h1v-1h3v1h1v1h1v-1h3v-1h4v1h1v-1h3v1h1v1h1v-1h1v-2h2v2h2v-1h1v1h2v-1h1v1h2v1h1v-1h2v-1h3v1h2v1h1v-1h1v-1h2v1h2v-1h2v1h2v-1h1v-1h1v1h1v1h4v-1h1v1h7v1h1v-1h5v-1h1v1h3v1h1v-2h2v1h6v-1h3v1h2v-1h1v-1h2v1h1v1h8v-1h4v1h2v-1h3v1h4v-1h2v1h1v1h1v-1h1v-1h2v1h11v1h1v-1h1v-1h1v-1h1v1h1v-1h1v1h1v1h4v-1h2v1h2v-1h1v-1h2v2h2v-1h3v1h1v1h1v-1h1v-1h2v1h8v-1h3v1h8v-1h2v1h7v-1h2v1h9v-1h2v1h3v-1h3v2h1v-2h1v-1h3v1h1v1h2v-2h4v2h1v1h1v-1h4v1h1v-1h1v-1h3v1h1v1h1v-1h1v-1h1v1h1v1h1v-2h4v1h3v-1h6v1h1v1h1v-1h1v-1h2v1h5v1h2v-1h1v-1h2v1h7v1h1v-2h4v1h1v1h1v-1h4v1h1v-1h2v-1h1v1h1v1h2v-1h11v1h1v-1h7v-1h1v1h1v1h1v-1h5v-1h3v1h1v1h1v-1h2v-1h2v1h1v1h1v-1h1v-1h2v1h3v-1h2v1h3v-1h2v1h1v1h1v-1h4v-1h4v1h1v1h2v-1h5v2h-1v-1h-3v1h-4v-1h-1v-1h-1v1h-4v1h-4v-1h-3v2h-2v-2h-3v1h-1v-1h-3v1h-2v1h-1v-2h-3v1h-1v1h-2v-2h-1v-1h-1v1h-2v1h-1v-1h-2v1h-1v1h-1v-1h-1v-1h-7v1h-5v-1h-1v1h-1v-1h-5v1h-4v-1h-2v1h-3v-1h-2v1h-3v-1h-1v-1h-2v2h-3v-1h-8v1h-4v-1h-2v1h-2v-1h-2v1h-3v-1h-4v-1h-1v1h-1v1h-2v-1h-3v-1h-1v2h-3v-1h-1v1h-3v-1h-1v-1h-1v1h-1v1h-1v1h-2v-2h-2v1h-3v-1h-1v-2h-2v2h-1v1h-2v-1h-1v-1h-1v-1h-1v1h-1v3h-2v-1h-1v-2h-1v1h-6v1h-2v-1h-22v1h-2v-1h-3v-1h-1v1h-1v1h-2v-1h-1v1h-2v-1h-5v1h-1v1h-1v-1h-1v-1h-1v-1h-1v1h-4v-1h-1v1h-1v1h-2v-1h-3v1h-1v-1h-2v1h-1v1h-1v-1h-1v1h-1v-1h-2v1h-1v-1h-1v-1h-1v1h-1v-1h-1v1h-1v-1h-2v1h-3v-1h-3v1h-3v-1h-4v1h-2v-1h-1v-1h-1v1h-4v-1h-2v1h-5v1h-2v-1h-2v1h-6v-1h-1v-1h-1v1h-2v1h-3v-1h-3v1h-3v-1h-5v1h-7v-1h-7v1h-2v-1h-1v-1h-1v2h-3v-1h-6v1h-3v-1h-2v-1h-1v1h-2v1h-3v-1h-9v1h-3v-1h-1v-1h-1v1h-3v-1h-2v1h-1v1h-1v-1h-1v1h-3v-1h-1v-1h-1v1h-1v1h-3v-1h-2v-1h-1v1h-1v-1h-2v1h-14v-1h-1v1h-2v1h-3v-1h-13v1h-4v-1h-1v-1h-1v1h-1v1h-2v-1h-1v1h-3v-1h-1v-1h-1v1h-1v1h-1v-1h-3v1h-2v-1h-1v1h-1v-1h-2v1h-2v-1h-1v1h-3v-1h-1v-1h-1v1h-5v2h-2v-1h-1v-1h-8v-1h-1v1h-2v1h-2v-1h-3v1h-2v-1h-2v1h-1v-1h-6v1h-2v-1h-4v1h-2v-1h-9v1h-2v-1h-8v1h-2v-1h-5v1h-1v-1h-2v-1h-1v1h-2v1h-3v-1h-8v1h-2v-1h-2v1h-3v-1h-1v-1h-1v1h-1v1h-3v-1h-1v2h-3v-1h-1v-2h-1v-1h-1v1h-5v1h-1v1h-2v-1h-2v-1h-1v2h-3v-2h-2v2h-4v-1h-4v-1h-1v1h-8v-1h-1v1h-5v1h-2v-1h-4v1h-2v-1h-3v1h-1v-1h-9v1h-3v-2h-1v1h-1v1h-4v-1h-1v-1h-1v1h-1v1h-2v-1h-1v-1h-1v1h-2v1h-1v-1h-5v1h-2v-1h-3v1h-2v-1h-5v1h-1v-1h-5v-1h-1v1h-1v1h-2v-2h-3v1h-8v-1h-1v2h-6v-1h-1v-1h-1v1h-2v1h-1v-1h-2v1h-2v-1h-3v1h-1v-1h-4v1h-3v-1h-1v-1h-1v1h-5v1h-3v-1h-2v-1h-1v1h-1v1h-2v-1h-2v-1h-1v1h-1v1h-2v-1h-4v1h-4v-1h-7v1h-6v-1h-2v1h-4v-1h-1v-1h-1v1h-1v1h-1v1h-1v-1h-1v-1h-2v1h-2v-1h-1v-1h-1v1h-4v1h-2v-1h-3v1h-2v-1h-2v-1h-1v1h-1v1h-3v-1h-1v1h-4v-1h-5v1h-3v-1h-1v-1h-1v1h-2v1h-1v-1h-10v1h-2v-1h-5v1h-3v-1h-3v1h-1v-1h-4v1h-2v-1h-4v1h-1v1h-2v-1h-1v-1h-1v-1h-1v1h-6v1h-3v-1h-5v1h-3v-2h-1v2h-2v-2h-1v1h-1v1h-4v-1h-4v1h-5v-1h-3v1h-2v-1h-1v1h-3v-1h-1v-1h-1v1h-2v1h-1v-1h-16v-1h-1v2h-3v-1h-5v1h-1v-1h-4v1h-3v-1h-11v1h-2v-1h-4v1h-3v-1h-4v1h-1v-1h-4v1h-4v-1h-3v1h-3v-1h-4v1h-5v-2h-2v1h-4v1h-2v-1h-1v-1h-1v1h-1v1h-2v-1h-5v1h-3v-1h-1v-1h-1v2h-3v-1h-2v-1h-2v1h-6v1h-1v-1h-29v-1h-2v1h-20v1h-3v-1h-3v-1h-1v1h-1v1h-2v-1h-1v-1h-1v1h-1v1h-3v-1h-5v1h-2v-1h-2v-1h-1v1h-1v1h-1v-1h-1v1h-3v-2h-1v1h-3v-1h-1v2h-2v-1h-2v1h-3v-2h-1z" fill="#000000" shape-rendering="crispEdges"/>
<path d="M50 404h2v1h1v-1h6v1h2v-1h3v1h4v-1h6v1h3v-1h17v1h3v-1h2v1h1v-1h4v1h5v-1h5v1h3v-1h2v1h2v-1h2v1h2v-2h2v1h1v1h1v1h1v-1h3v-1h3v1h11v-1h8v1h2v-1h1v-1h2v1h2v1h3v-1h3v1h1v1h1v-1h5v-1h2v1h1v-1h3v1h2v-1h3v1h3v-1h2v1h7v-1h3v1h1v1h1v-1h1v-1h2v1h5v-1h1v1h4v-1h2v1h2v-1h3v1h1v1h1v-1h1v-1h5v1h3v1h1v-1h2v-1h4v1h2v-1h1v1h4v-1h3v1h5v-1h9v1h2v-1h7v1h3v-2h2v1h1v1h1v-1h1v-1h1v2h1v1h1v-1h1v-1h1v1h7v-1h1v1h2v-1h1v1h2v-1h1v-1h2v1h4v1h2v-1h2v1h2v-1h2v1h13v-1h2v1h3v-1h1v1h3v-1h3v1h1v-1h2v1h2v-1h8v1h3v-1h2v1h2v-1h3v1h5v-1h3v1h2v-1h3v1h1v-1h8v1h1v-1h1v-1h2v1h3v1h1v-1h7v1h5v1h2v-1h1v-1h3v1h-2v1h-1v1h-4v-1h-5v-1h-1v1h-2v-1h-1v1h-6v-1h-2v1h-4v-1h-1v1h-2v-1h-2v1h-3v-1h-1v1h-4v-1h-1v1h-7v-1h-1v1h-10v-1h-2v1h-2v-1h-1v1h-7v-1h-1v1h-2v1h-2v-1h-17v1h-2v-1h-12v-1h-2v1h-1v1h-1v-1h-2v1h-2v-1h-9v1h-3v-1h-4v-1h-1v1h-6v-1h-2v1h-3v1h-2v-1h-1v-1h-2v1h-2v-1h-2v1h-3v1h-1v-1h-1v1h-2v-1h-1v-1h-1v1h-7v1h-1v-1h-1v-1h-2v1h-2v1h-3v-1h-5v-1h-1v1h-1v1h-1v1h-1v-1h-1v-1h-1v-1h-1v1h-2v1h-1v-1h-2v1h-2v-1h-10v1h-3v-1h-1v-1h-1v1h-10v1h-3v-1h-1v-1h-1v1h-1v1h-1v-1h-2v-1h-1v1h-4v1h-2v-1h-2v1h-3v-1h-1v-1h-1v1h-1v1h-2v-1h-3v-1h-2v1h-1v1h-1v-1h-2v-1h-1v1h-22v1h-3v-1h-1v-1h-1v1h-1v1h-1v-1h-3v1h-2v-1h-3v1h-2v-1h-1v-1h-3v1h-1v1h-1v-1h-1v1h-3v-1h-1v-1h-2v1h-8v-1h-2v1h-2v-1h-6v1h-2v-1h-3v1h-5v-1h-1v1h-9v-1h-1v1h-1v1h-1v-1h-2v-1h-1v1h-2v-1h-1v1h-4z" fill="#ff0000" shape-rendering="crispEdges"/>
<path d="M50.5 50V842M122.5 50V842M194.5 50V842M266.5 50V842M338.5 50V842M410.5 50V842M482.5 50V842M554.5 50V842M626.5 50V842M698.5 50V842M770.5 50V842M842.5 50V842M914.5 50V842M986.5 50V842M1058.5 50V842M1130.5 50V842" stroke="#888" stroke-width="1" fill="none" shape-rendering="crispEdges"/>
<path d="M50 50.5H1131M50 842.5H1131" stroke="#000" stroke-width="1" fill="none" shape-rendering="crispEdges"/>
<path d="M50.5 842v12M62.5 842v8M74.5 842v8M86.5 842v8M98.5 842v8M110.5 842v8M122.5 842v12M134.5 842v8M146.5 842v8M158.5 842v8M170.5 842v8M182.5 842v8M194.5 842v12M206.5 842v8M218.5 842v8M230.5 842v8M242.5 842v8M254.5 842v8M266.5 842v12M278.5 842v8M290.5 842v8M302.5 842v8M314.5 842v8M326.5 842v8M338.5 842v12M350.5 842v8M362.5 842v8M374.5 842v8M386.5 842v8M398.5 842v8M410.5 842v12M422.5 842v8M434.5 842v8M446.5 842v8M458.5 842v8M470.5 842v8M482.5 842v12M494.5 842v8M506.5 842v8M518.5 842v8M530.5 842v8M542.5 842v8M554.5 842v12M566.5 842v8M578.5 842v8M590.5 842v8M602.5 842v8M614.5 842v8M626.5 842v12M638.5 842v8M650.5 842v8M662.5 842v8M674.5 842v8M686.5 842v8M698.5 842v12M710.5 842v8M722.5 842v8M734.5 842v8M746.5 842v8M758.5 842v8M770.5 842v12M782.5 842v8M794.5 842v8M806.5 842v8M818.5 842v8M830.5 842v8M842.5 842v12M854.5 842v8M866.5 842v8M878.5 842v8M890.5 842v8M902.5 842v8M914.5 842v12M926.5 842v8M938.5 842v8M950.5 842v8M962.5 842v8M974.5 842v8M986.5 842v12M998.5 842v8M1010.5 842v8M1022.5 842v8M1034.5 842v8M1046.5 842v8M1058.5 842v12M1070.5 842v8M1082.5 842v8M1094.5 842v8M1106.5 842v8M1118.5 842v8M1130.5 842v12" stroke="#000" stroke-width="1" fill="none" shape-rendering="crispEdges"/>
<text class="s2" x="46.5 53.5" y="864" text-anchor="middle">00</text>
<text class="s2" x="118.5 125.5" y="864" text-anchor="middle">01</text>
<text class="s2" x="190.5 197.5" y="864" text-anchor="middle">02</text>
<text class="s2" x="262.5 269.5" y="864" text-anchor="middle">03</text>
<text class="s2" x="334.5 341.5" y="864" text-anchor="middle">04</text>
<text class="s2" x="406.5 413.5" y="864" text-anchor="middle">05</text>
<text class="s2" x="478.5 485.5" y="864" text-anchor="middle">06</text>
<text class="s2" x="550.5 557.5" y="864" text-anchor="middle">07</text>
<text class="s2" x="622.5 629.5" y="864" text-anchor="middle">08</text>
<text class="s2" x="694.5 701.5" y="864" text-anchor="middle">09</text>
<text class="s2" x="766.5 773.5" y="864" text-anchor="middle">10</text>
<text class="s2" x="838.5 845.5" y="864" text-anchor="middle">11</text>
<text class="s2" x="910.5 917.5" y="864" text-anchor="middle">12</text>
<text class="s2" x="982.5 989.5" y="864" text-anchor="middle">13</text>
<text class="s2" x="1054.5 1061.5" y="864" text-anchor="middle">14</text>
<text class="s2" x="1126.5 1133.5" y="864" text-anchor="middle">15</text>
<text class="s" x="16.5 23.5 31 37.5 44.5" y="130 130 130.5 130 130" text-anchor="middle">13<tspan class="sc">:</tspan>00</text>
<text class="s" x="1136.5 1143.5 1151 1157.5 1164.5" y="130 130 130.5 130 130" text-anchor="middle">17<tspan class="sc">:</tspan>15</text>
<text class="s" x="16.5 23.5 31 37.5 44.5" y="196 196 196.5 196 196" text-anchor="middle">14<tspan class="sc">:</tspan>00</text>
<text class="s" x="1136.5 1143.5 1151 1157.5 1164.5" y="196 196 196.5 196 196" text-anchor="middle">18<tspan class="sc">:</tspan>15</text>
<text class="s" x="16.5 23.5 31 37.5 44.5" y="262 262 262.5 262 262" text-anchor="middle">15<tspan class="sc">:</tspan>00</text>
<text class="s" x="1136.5 1143.5 1151 1157.5 1164.5" y="262 262 262.5 262 262" text-anchor="middle">19<tspan class="sc">:</tspan>15</text>
<text class="s" x="16.5 23.5 31 37.5 44.5" y="328 328 328.5 328 328" text-anchor="middle">16<tspan class="sc">:</tspan>00</text>
<text class="s" x="1136.5 1143.5 1151 1157.5 1164.5" y="328 328 328.5 328 328" text-anchor="middle">20<tspan class="sc">:</tspan>15</text>
<text class="s" x="16.5 23.5 31 37.5 44.5" y="394 394 394.5 394 394" text-anchor="middle">17<tspan class="sc">:</tspan>00</text>
<text class="s" x="1136.5 1143.5 1151 1157.5 1164.5" y="394 394 394.5 394 394" text-anchor="middle">21<tspan class="sc">:</tspan>15</text>
<text class="s" x="16.5 23.5 31 37.5 44.5" y="460 460 460.5 460 460" text-anchor="middle">18<tspan class="sc">:</tspan>00</text>
<text class="s" x="1136.5 1143.5 1151 1157.5 1164.5" y="460 460 460.5 460 460" text-anchor="middle">22<tspan class="sc">:</tspan>15</text>
<text class="s" x="16.5 23.5 31 37.5 44.5" y="526 526 526.5 526 526" text-anchor="middle">19<tspan class="sc">:</tspan>00</text>
<text class="s" x="1136.5 1143.5 1151 1157.5 1164.5" y="526 526 526.5 526 526" text-anchor="middle">23<tspan class="sc">:</tspan>15</text>
<text class="s" x="16.5 23.5 31 37.5 44.5" y="592 592 592.5 592 592" text-anchor="middle">20<tspan class="sc">:</tspan>00</text>
<text class="s" x="1136.5 1143.5 1151 1157.5 1164.5" y="592 592 592.5 592 592" text-anchor="middle">00<tspan class="sc">:</tspan>15</text>
<text class="s" x="16.5 23.5 31 37.5 44.5" y="658 658 658.5 658 658" text-anchor="middle">21<tspan class="sc">:</tspan>00</text>
<text class="s" x="1136.5 1143.5 1151 1157.5 1164.5" y="658 658 658.5 658 658" text-anchor="middle">01<tspan class="sc">:</tspan>15</text>
<text class="s" x="16.5 23.5 31 37.5 44.5" y="724 724 724.5 724 724" text-anchor="middle">22<tspan class="sc">:</tspan>00</text>
<text class="s" x="1136.5 1143.5 1151 1157.5 1164.5" y="724 724 724.5 724 724" text-anchor="middle">02<tspan class="sc">:</tspan>15</text>
<text class="s" x="16.5 23.5 31 37.5 44.5" y="790 790 790.5 790 790" text-anchor="middle">23<tspan class="sc">:</tspan>00</text>
<text class="s" x="1136.5 1143.5 1151 1157.5 1164.5" y="790 790 790.5 790 790" text-anchor="middle">03<tspan class="sc">:</tspan>15</text>
<text class="t" x="1188 1193" y="57" text-anchor="middle">DC</text>
<text class="t" x="1188 1193 1198 1203" y="62" text-anchor="middle"><tspan class="tm">-</tspan>121</text>
<text class="t" x="1188 1193 1198 1203" y="79" text-anchor="middle"><tspan class="tm">-</tspan>1<tspan class="zt">0</tspan>7</text>
<text class="t" x="1193 1198 1203" y="95" text-anchor="middle"><tspan class="tm">-</tspan>97</text>
<text class="t" x="1193 1198 1203" y="112" text-anchor="middle"><tspan class="tm">-</tspan>99</text>
<text class="t" x="1193 1198 1203" y="128" text-anchor="middle"><tspan class="tm">-</tspan>58</text>
<text class="t" x="1193 1198 1203" y="145" text-anchor="middle"><tspan class="tm">-</tspan>5<tspan class="zt">0</tspan></text>
<text class="t" x="1193 1198 1203" y="161" text-anchor="middle"><tspan class="tm">-</tspan>5<tspan class="zt">0</tspan></text>
<text class="t" x="1193 1198 1203" y="178" text-anchor="middle"><tspan class="tm">-</tspan>36</text>
<text class="t" x="1198 1203" y="194" text-anchor="middle"><tspan class="tm">-</tspan>6</text>
<text class="t" x="1198 1203" y="211" text-anchor="middle">23</text>
<text class="t" x="1198 1203" y="227" text-anchor="middle"><tspan class="tm">-</tspan>4</text>
<text class="t" x="1198 1203" y="244" text-anchor="middle"><tspan class="tm">-</tspan>2</text>
<text class="t" x="1198 1203" y="260" text-anchor="middle">48</text>
<text class="t" x="1203" y="277" text-anchor="middle">8</text>
<text class="t" x="1198 1203" y="293" text-anchor="middle">17</text>
<text class="t" x="1198 1203" y="310" text-anchor="middle">15</text>
<text class="t" x="1198 1203" y="326" text-anchor="middle">16</text>
<text class="t" x="1198 1203" y="343" text-anchor="middle">21</text>
<text class="t" x="1198 1203" y="359" text-anchor="middle">25</text>
<text class="t" x="1198 1203" y="376" text-anchor="middle">31</text>
<text class="t" x="1203" y="392" text-anchor="middle">5</text>
<text class="t" x="1203" y="409" text-anchor="middle">8</text>
<text class="t" x="23 28 33 38 43 48 53 58 63 68 73 78 83 88 93 98 103 108 113 118 123 128 133 138 143 148 153 158 163 168 173 178 183 188 193 198 203 208 213 218 223 228 233" y="875" text-anchor="middle">Each Vertical Division =  5<tspan class="zt">0</tspan><tspan class="zt">0</tspan>.<tspan class="zt">0</tspan><tspan class="zt">0</tspan> microvolts</text>
<text class="t" x="664 669 674 679 684 689 694 699 704 709 714 719 724 729 734 739 744 749 754 759 764 769 774 779 784 789 794 799 804 809 814 819 824 829 834 839 844 849 854 859 864 869 874 879 884 889 894 899 904" y="875" text-anchor="middle">Traces clipped at plus/minus 5 vertical divisions</text>
<text class="m" x="557 564 571 578 585 592 599 606 613 620 627 634 641 648" y="874" text-anchor="middle">TIME (MINUTES)</text>
<path d="M2 875h1v1h-1zM3 876h1v1h-1zM4 873h1v3h-1zM5 874h1v1h-1zM6 873h1v4h-1zM7 876h1v1h-1z" fill="#000"/>
</svg>
</body></html>
